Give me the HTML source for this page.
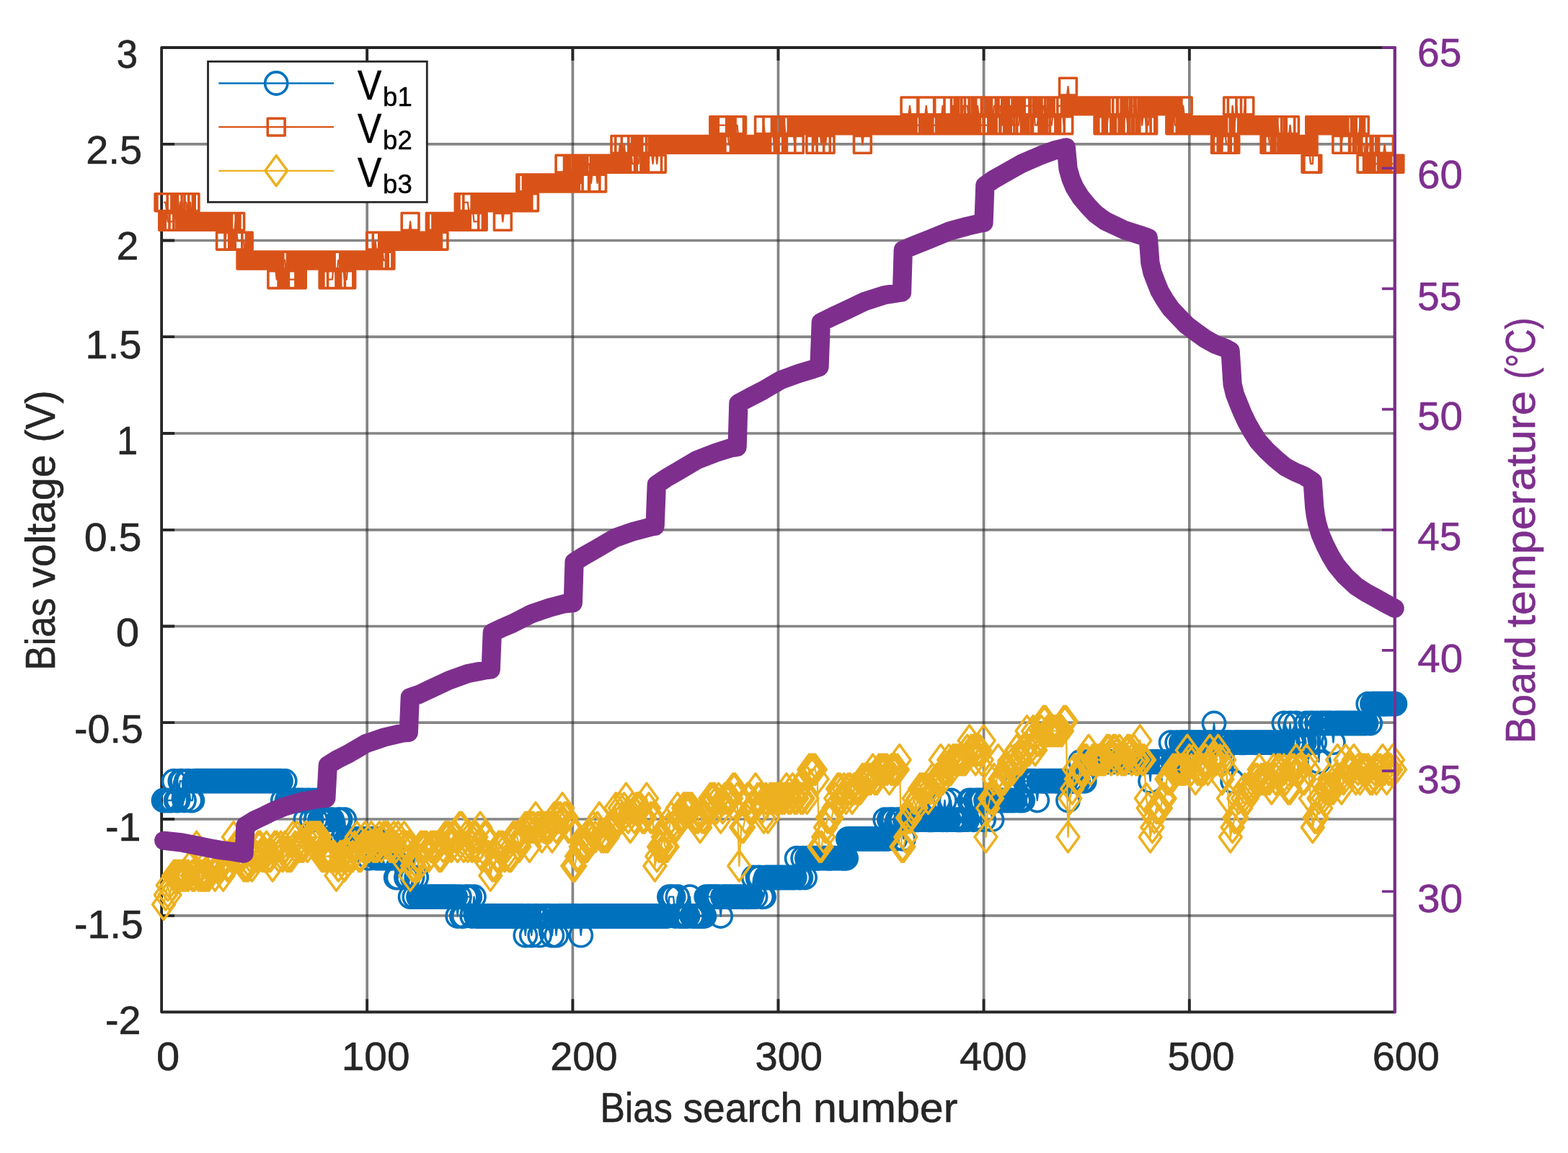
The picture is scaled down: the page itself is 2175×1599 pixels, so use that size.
<!DOCTYPE html>
<html lang="en"><head><meta charset="utf-8"><title>Bias voltage and board temperature vs bias search number</title>
<style>html,body{margin:0;padding:0;background:#fff}body{width:2175px;height:1599px;overflow:hidden}svg{display:block}text{font-family:"Liberation Sans",sans-serif}</style></head><body>
<svg width="2175" height="1599" viewBox="0 0 2175 1599" role="img" aria-label="Bias voltages Vb1, Vb2, Vb3 and board temperature versus bias search number">
<rect width="2175" height="1599" fill="#fff"/>
<g stroke="#262626" stroke-opacity="0.56" stroke-width="3.7" fill="none"><line x1="509.2" y1="66" x2="509.2" y2="1403.5"/><line x1="794.4" y1="66" x2="794.4" y2="1403.5"/><line x1="1079.5" y1="66" x2="1079.5" y2="1403.5"/><line x1="1364.6" y1="66" x2="1364.6" y2="1403.5"/><line x1="1649.8" y1="66" x2="1649.8" y2="1403.5"/><line x1="224.1" y1="1269.8" x2="1934.9" y2="1269.8"/><line x1="224.1" y1="1136" x2="1934.9" y2="1136"/><line x1="224.1" y1="1002.2" x2="1934.9" y2="1002.2"/><line x1="224.1" y1="868.5" x2="1934.9" y2="868.5"/><line x1="224.1" y1="734.8" x2="1934.9" y2="734.8"/><line x1="224.1" y1="601" x2="1934.9" y2="601"/><line x1="224.1" y1="467.2" x2="1934.9" y2="467.2"/><line x1="224.1" y1="333.5" x2="1934.9" y2="333.5"/><line x1="224.1" y1="199.8" x2="1934.9" y2="199.8"/></g>
<path d="M224.1 66H1934.6V1403.5H224.1ZM224.1 1403.5h18M224.1 1269.8h18M224.1 1136h18M224.1 1002.2h18M224.1 868.5h18M224.1 734.8h18M224.1 601h18M224.1 467.2h18M224.1 333.5h18M224.1 199.8h18M224.1 66h18M224.1 1403.5v-18M224.1 66v18M509.2 1403.5v-18M509.2 66v18M794.4 1403.5v-18M794.4 66v18M1079.5 1403.5v-18M1079.5 66v18M1364.6 1403.5v-18M1364.6 66v18M1649.8 1403.5v-18M1649.8 66v18M1934.9 1403.5v-18M1934.9 66v18" stroke="#262626" stroke-width="3.8" fill="none" stroke-linejoin="round"/>
<path d="M227 1110L229.8 1110L232.7 1110L235.5 1110L238.4 1110L241.2 1083.2L244.1 1110L246.9 1110L249.8 1083.2L252.6 1083.2L255.5 1110L258.3 1083.2L261.2 1083.2L264 1110L266.9 1110L269.7 1083.2L272.6 1083.2L275.4 1083.2L278.3 1083.2L281.1 1083.2L284 1083.2L286.8 1083.2L289.7 1083.2L292.5 1083.2L295.4 1083.2L298.2 1083.2L301.1 1083.2L303.9 1083.2L306.8 1083.2L309.6 1083.2L312.5 1083.2L315.3 1083.2L318.2 1083.2L321 1083.2L323.9 1083.2L326.7 1083.2L329.6 1083.2L332.5 1083.2L335.3 1083.2L338.2 1083.2L341 1083.2L343.9 1083.2L346.7 1083.2L349.6 1083.2L352.4 1083.2L355.3 1083.2L358.1 1083.2L361 1083.2L363.8 1083.2L366.7 1083.2L369.5 1083.2L372.4 1083.2L375.2 1083.2L378.1 1083.2L380.9 1083.2L383.8 1083.2L386.6 1083.2L389.5 1083.2L392.3 1110L395.2 1083.2L398 1110L400.9 1110L403.7 1110L406.6 1110L409.4 1110L412.3 1110L415.1 1110L418 1110L420.8 1110L423.7 1136.7L426.5 1110L429.4 1110L432.2 1136.7L435.1 1110L438 1136.7L440.8 1110L443.7 1136.7L446.5 1136.7L449.4 1136.7L452.2 1136.7L455.1 1136.7L457.9 1136.7L460.8 1136.7L463.6 1163.4L466.5 1163.4L469.3 1136.7L472.2 1136.7L475 1163.4L477.9 1136.7L480.7 1163.4L483.6 1163.4L486.4 1163.4L489.3 1163.4L492.1 1163.4L495 1163.4L497.8 1163.4L500.7 1163.4L503.5 1163.4L506.4 1163.4L509.2 1163.4L512.1 1190.2L514.9 1163.4L517.8 1163.4L520.6 1163.4L523.5 1190.2L526.3 1190.2L529.2 1190.2L532 1190.2L534.9 1190.2L537.7 1190.2L540.6 1190.2L543.4 1190.2L546.3 1190.2L549.2 1217L552 1217L554.9 1190.2L557.7 1190.2L560.6 1190.2L563.4 1217L566.3 1217L569.1 1243.7L572 1217L574.8 1243.7L577.7 1217L580.5 1243.7L583.4 1243.7L586.2 1243.7L589.1 1243.7L591.9 1243.7L594.8 1243.7L597.6 1243.7L600.5 1243.7L603.3 1243.7L606.2 1243.7L609 1243.7L611.9 1243.7L614.7 1243.7L617.6 1243.7L620.4 1243.7L623.3 1243.7L626.1 1243.7L629 1243.7L631.8 1243.7L634.7 1270.5L637.5 1243.7L640.4 1270.5L643.2 1270.5L646.1 1243.7L648.9 1243.7L651.8 1243.7L654.7 1270.5L657.5 1243.7L660.4 1270.5L663.2 1270.5L666.1 1270.5L668.9 1270.5L671.8 1270.5L674.6 1270.5L677.5 1270.5L680.3 1270.5L683.2 1270.5L686 1270.5L688.9 1270.5L691.7 1270.5L694.6 1270.5L697.4 1270.5L700.3 1270.5L703.1 1270.5L706 1270.5L708.8 1270.5L711.7 1270.5L714.5 1270.5L717.4 1270.5L720.2 1270.5L723.1 1270.5L725.9 1270.5L728.8 1297.2L731.6 1270.5L734.5 1270.5L737.3 1297.2L740.2 1270.5L743 1270.5L745.9 1270.5L748.7 1297.2L751.6 1270.5L754.4 1270.5L757.3 1270.5L760.2 1270.5L763 1270.5L765.9 1297.2L768.7 1270.5L771.6 1297.2L774.4 1270.5L777.3 1270.5L780.1 1270.5L783 1270.5L785.8 1270.5L788.7 1270.5L791.5 1270.5L794.4 1270.5L797.2 1270.5L800.1 1270.5L802.9 1270.5L805.8 1297.2L808.6 1270.5L811.5 1270.5L814.3 1270.5L817.2 1270.5L820 1270.5L822.9 1270.5L825.7 1270.5L828.6 1270.5L831.4 1270.5L834.3 1270.5L837.1 1270.5L840 1270.5L842.8 1270.5L845.7 1270.5L848.5 1270.5L851.4 1270.5L854.2 1270.5L857.1 1270.5L859.9 1270.5L862.8 1270.5L865.7 1270.5L868.5 1270.5L871.4 1270.5L874.2 1270.5L877.1 1270.5L879.9 1270.5L882.8 1270.5L885.6 1270.5L888.5 1270.5L891.3 1270.5L894.2 1270.5L897 1270.5L899.9 1270.5L902.7 1270.5L905.6 1270.5L908.4 1270.5L911.3 1270.5L914.1 1270.5L917 1270.5L919.8 1270.5L922.7 1270.5L925.5 1270.5L928.4 1243.7L931.2 1243.7L934.1 1243.7L936.9 1270.5L939.8 1243.7L942.6 1270.5L945.5 1270.5L948.3 1270.5L951.2 1270.5L954 1270.5L956.9 1243.7L959.7 1270.5L962.6 1270.5L965.4 1270.5L968.3 1270.5L971.1 1270.5L974 1270.5L976.9 1270.5L979.7 1243.7L982.6 1243.7L985.4 1243.7L988.3 1243.7L991.1 1243.7L994 1243.7L996.8 1243.7L999.7 1270.5L1002.5 1243.7L1005.4 1243.7L1008.2 1243.7L1011.1 1243.7L1013.9 1243.7L1016.8 1243.7L1019.6 1243.7L1022.5 1243.7L1025.3 1243.7L1028.2 1243.7L1031 1243.7L1033.9 1243.7L1036.7 1243.7L1039.6 1243.7L1042.4 1243.7L1045.3 1217L1048.1 1243.7L1051 1217L1053.8 1217L1056.7 1243.7L1059.5 1243.7L1062.4 1217L1065.2 1217L1068.1 1217L1070.9 1217L1073.8 1217L1076.6 1217L1079.5 1217L1082.4 1217L1085.2 1217L1088.1 1217L1090.9 1217L1093.8 1217L1096.6 1217L1099.5 1217L1102.3 1217L1105.2 1190.2L1108 1217L1110.9 1217L1113.7 1190.2L1116.6 1217L1119.4 1190.2L1122.3 1190.2L1125.1 1190.2L1128 1190.2L1130.8 1190.2L1133.7 1190.2L1136.5 1190.2L1139.4 1190.2L1142.2 1190.2L1145.1 1190.2L1147.9 1190.2L1150.8 1190.2L1153.6 1190.2L1156.5 1190.2L1159.3 1190.2L1162.2 1190.2L1165 1190.2L1167.9 1190.2L1170.7 1190.2L1173.6 1190.2L1176.4 1163.4L1179.3 1163.4L1182.1 1163.4L1185 1163.4L1187.9 1163.4L1190.7 1163.4L1193.6 1163.4L1196.4 1163.4L1199.3 1163.4L1202.1 1163.4L1205 1163.4L1207.8 1163.4L1210.7 1163.4L1213.5 1163.4L1216.4 1163.4L1219.2 1163.4L1222.1 1163.4L1224.9 1163.4L1227.8 1136.7L1230.6 1163.4L1233.5 1136.7L1236.3 1136.7L1239.2 1136.7L1242 1163.4L1244.9 1136.7L1247.7 1136.7L1250.6 1136.7L1253.4 1163.4L1256.3 1136.7L1259.1 1136.7L1262 1136.7L1264.8 1136.7L1267.7 1136.7L1270.5 1136.7L1273.4 1136.7L1276.2 1136.7L1279.1 1136.7L1281.9 1136.7L1284.8 1136.7L1287.6 1136.7L1290.5 1136.7L1293.4 1136.7L1296.2 1136.7L1299.1 1136.7L1301.9 1110L1304.8 1136.7L1307.6 1136.7L1310.5 1110L1313.3 1136.7L1316.2 1136.7L1319 1110L1321.9 1136.7L1324.7 1136.7L1327.6 1136.7L1330.4 1136.7L1333.3 1136.7L1336.1 1136.7L1339 1136.7L1341.8 1136.7L1344.7 1110L1347.5 1110L1350.4 1136.7L1353.2 1110L1356.1 1110L1358.9 1110L1361.8 1110L1364.6 1136.7L1367.5 1110L1370.3 1110L1373.2 1110L1376 1136.7L1378.9 1110L1381.7 1110L1384.6 1110L1387.4 1110L1390.3 1110L1393.1 1110L1396 1110L1398.8 1110L1401.7 1110L1404.6 1110L1407.4 1110L1410.3 1083.2L1413.1 1110L1416 1110L1418.8 1110L1421.7 1083.2L1424.5 1083.2L1427.4 1083.2L1430.2 1083.2L1433.1 1083.2L1435.9 1083.2L1438.8 1110L1441.6 1083.2L1444.5 1083.2L1447.3 1083.2L1450.2 1083.2L1453 1083.2L1455.9 1083.2L1458.7 1083.2L1461.6 1083.2L1464.4 1083.2L1467.3 1083.2L1470.1 1083.2L1473 1083.2L1475.8 1083.2L1478.7 1083.2L1481.5 1110L1484.4 1083.2L1487.2 1083.2L1490.1 1083.2L1492.9 1083.2L1495.8 1083.2L1498.6 1056.5L1501.5 1083.2L1504.3 1083.2L1507.2 1056.5L1510.1 1056.5L1512.9 1056.5L1515.8 1056.5L1518.6 1056.5L1521.5 1056.5L1524.3 1056.5L1527.2 1056.5L1530 1056.5L1532.9 1056.5L1535.7 1056.5L1538.6 1056.5L1541.4 1056.5L1544.3 1056.5L1547.1 1056.5L1550 1056.5L1552.8 1056.5L1555.7 1056.5L1558.5 1056.5L1561.4 1056.5L1564.2 1056.5L1567.1 1056.5L1569.9 1056.5L1572.8 1056.5L1575.6 1056.5L1578.5 1056.5L1581.3 1056.5L1584.2 1056.5L1587 1056.5L1589.9 1056.5L1592.7 1056.5L1595.6 1083.2L1598.4 1056.5L1601.3 1056.5L1604.1 1056.5L1607 1056.5L1609.8 1056.5L1612.7 1056.5L1615.6 1056.5L1618.4 1056.5L1621.3 1056.5L1624.1 1029.7L1627 1056.5L1629.8 1056.5L1632.7 1029.7L1635.5 1056.5L1638.4 1029.7L1641.2 1029.7L1644.1 1029.7L1646.9 1029.7L1649.8 1029.7L1652.6 1029.7L1655.5 1029.7L1658.3 1029.7L1661.2 1029.7L1664 1029.7L1666.9 1029.7L1669.7 1029.7L1672.6 1029.7L1675.4 1029.7L1678.3 1029.7L1681.1 1029.7L1684 1003L1686.8 1029.7L1689.7 1029.7L1692.5 1029.7L1695.4 1029.7L1698.2 1029.7L1701.1 1029.7L1703.9 1029.7L1706.8 1029.7L1709.6 1083.2L1712.5 1029.7L1715.3 1029.7L1718.2 1029.7L1721.1 1029.7L1723.9 1029.7L1726.8 1029.7L1729.6 1029.7L1732.5 1029.7L1735.3 1029.7L1738.2 1029.7L1741 1029.7L1743.9 1029.7L1746.7 1029.7L1749.6 1029.7L1752.4 1029.7L1755.3 1029.7L1758.1 1029.7L1761 1029.7L1763.8 1029.7L1766.7 1029.7L1769.5 1029.7L1772.4 1029.7L1775.2 1029.7L1778.1 1029.7L1780.9 1003L1783.8 1029.7L1786.6 1029.7L1789.5 1003L1792.3 1029.7L1795.2 1029.7L1798 1003L1800.9 1029.7L1803.7 1029.7L1806.6 1029.7L1809.4 1029.7L1812.3 1003L1815.1 1029.7L1818 1003L1820.8 1003L1823.7 1029.7L1826.5 1003L1829.4 1056.5L1832.3 1003L1835.1 1003L1838 1003L1840.8 1003L1843.7 1003L1846.5 1003L1849.4 1029.7L1852.2 1003L1855.1 1003L1857.9 1003L1860.8 1003L1863.6 1003L1866.5 1003L1869.3 1003L1872.2 1003L1875 1003L1877.9 1003L1880.7 1003L1883.6 1003L1886.4 1003L1889.3 1003L1892.1 1003L1895 1003L1897.8 976.2L1900.7 1003L1903.5 976.2L1906.4 976.2L1909.2 976.2L1912.1 976.2L1914.9 976.2L1917.8 976.2L1920.6 976.2L1923.5 976.2L1926.3 976.2L1929.2 976.2L1932 976.2L1934.9 976.2" stroke="#0072BD" stroke-width="2.3" fill="none" stroke-linejoin="round"/>
<path d="M211.4 1110a15.6 15.6 0 1 0 31.2 0a15.6 15.6 0 1 0 -31.2 0zM214.2 1110a15.6 15.6 0 1 0 31.2 0a15.6 15.6 0 1 0 -31.2 0zM217.1 1110a15.6 15.6 0 1 0 31.2 0a15.6 15.6 0 1 0 -31.2 0zM219.9 1110a15.6 15.6 0 1 0 31.2 0a15.6 15.6 0 1 0 -31.2 0zM222.8 1110a15.6 15.6 0 1 0 31.2 0a15.6 15.6 0 1 0 -31.2 0zM225.6 1083.2a15.6 15.6 0 1 0 31.2 0a15.6 15.6 0 1 0 -31.2 0zM228.5 1110a15.6 15.6 0 1 0 31.2 0a15.6 15.6 0 1 0 -31.2 0zM231.3 1110a15.6 15.6 0 1 0 31.2 0a15.6 15.6 0 1 0 -31.2 0zM234.2 1083.2a15.6 15.6 0 1 0 31.2 0a15.6 15.6 0 1 0 -31.2 0zM237 1083.2a15.6 15.6 0 1 0 31.2 0a15.6 15.6 0 1 0 -31.2 0zM239.9 1110a15.6 15.6 0 1 0 31.2 0a15.6 15.6 0 1 0 -31.2 0zM242.7 1083.2a15.6 15.6 0 1 0 31.2 0a15.6 15.6 0 1 0 -31.2 0zM245.6 1083.2a15.6 15.6 0 1 0 31.2 0a15.6 15.6 0 1 0 -31.2 0zM248.4 1110a15.6 15.6 0 1 0 31.2 0a15.6 15.6 0 1 0 -31.2 0zM251.3 1110a15.6 15.6 0 1 0 31.2 0a15.6 15.6 0 1 0 -31.2 0zM254.1 1083.2a15.6 15.6 0 1 0 31.2 0a15.6 15.6 0 1 0 -31.2 0zM257 1083.2a15.6 15.6 0 1 0 31.2 0a15.6 15.6 0 1 0 -31.2 0zM259.8 1083.2a15.6 15.6 0 1 0 31.2 0a15.6 15.6 0 1 0 -31.2 0zM262.7 1083.2a15.6 15.6 0 1 0 31.2 0a15.6 15.6 0 1 0 -31.2 0zM265.5 1083.2a15.6 15.6 0 1 0 31.2 0a15.6 15.6 0 1 0 -31.2 0zM268.4 1083.2a15.6 15.6 0 1 0 31.2 0a15.6 15.6 0 1 0 -31.2 0zM271.2 1083.2a15.6 15.6 0 1 0 31.2 0a15.6 15.6 0 1 0 -31.2 0zM274.1 1083.2a15.6 15.6 0 1 0 31.2 0a15.6 15.6 0 1 0 -31.2 0zM276.9 1083.2a15.6 15.6 0 1 0 31.2 0a15.6 15.6 0 1 0 -31.2 0zM279.8 1083.2a15.6 15.6 0 1 0 31.2 0a15.6 15.6 0 1 0 -31.2 0zM282.6 1083.2a15.6 15.6 0 1 0 31.2 0a15.6 15.6 0 1 0 -31.2 0zM285.5 1083.2a15.6 15.6 0 1 0 31.2 0a15.6 15.6 0 1 0 -31.2 0zM288.3 1083.2a15.6 15.6 0 1 0 31.2 0a15.6 15.6 0 1 0 -31.2 0zM291.2 1083.2a15.6 15.6 0 1 0 31.2 0a15.6 15.6 0 1 0 -31.2 0zM294 1083.2a15.6 15.6 0 1 0 31.2 0a15.6 15.6 0 1 0 -31.2 0zM296.9 1083.2a15.6 15.6 0 1 0 31.2 0a15.6 15.6 0 1 0 -31.2 0zM299.7 1083.2a15.6 15.6 0 1 0 31.2 0a15.6 15.6 0 1 0 -31.2 0zM302.6 1083.2a15.6 15.6 0 1 0 31.2 0a15.6 15.6 0 1 0 -31.2 0zM305.4 1083.2a15.6 15.6 0 1 0 31.2 0a15.6 15.6 0 1 0 -31.2 0zM308.3 1083.2a15.6 15.6 0 1 0 31.2 0a15.6 15.6 0 1 0 -31.2 0zM311.1 1083.2a15.6 15.6 0 1 0 31.2 0a15.6 15.6 0 1 0 -31.2 0zM314 1083.2a15.6 15.6 0 1 0 31.2 0a15.6 15.6 0 1 0 -31.2 0zM316.9 1083.2a15.6 15.6 0 1 0 31.2 0a15.6 15.6 0 1 0 -31.2 0zM319.7 1083.2a15.6 15.6 0 1 0 31.2 0a15.6 15.6 0 1 0 -31.2 0zM322.6 1083.2a15.6 15.6 0 1 0 31.2 0a15.6 15.6 0 1 0 -31.2 0zM325.4 1083.2a15.6 15.6 0 1 0 31.2 0a15.6 15.6 0 1 0 -31.2 0zM328.3 1083.2a15.6 15.6 0 1 0 31.2 0a15.6 15.6 0 1 0 -31.2 0zM331.1 1083.2a15.6 15.6 0 1 0 31.2 0a15.6 15.6 0 1 0 -31.2 0zM334 1083.2a15.6 15.6 0 1 0 31.2 0a15.6 15.6 0 1 0 -31.2 0zM336.8 1083.2a15.6 15.6 0 1 0 31.2 0a15.6 15.6 0 1 0 -31.2 0zM339.7 1083.2a15.6 15.6 0 1 0 31.2 0a15.6 15.6 0 1 0 -31.2 0zM342.5 1083.2a15.6 15.6 0 1 0 31.2 0a15.6 15.6 0 1 0 -31.2 0zM345.4 1083.2a15.6 15.6 0 1 0 31.2 0a15.6 15.6 0 1 0 -31.2 0zM348.2 1083.2a15.6 15.6 0 1 0 31.2 0a15.6 15.6 0 1 0 -31.2 0zM351.1 1083.2a15.6 15.6 0 1 0 31.2 0a15.6 15.6 0 1 0 -31.2 0zM353.9 1083.2a15.6 15.6 0 1 0 31.2 0a15.6 15.6 0 1 0 -31.2 0zM356.8 1083.2a15.6 15.6 0 1 0 31.2 0a15.6 15.6 0 1 0 -31.2 0zM359.6 1083.2a15.6 15.6 0 1 0 31.2 0a15.6 15.6 0 1 0 -31.2 0zM362.5 1083.2a15.6 15.6 0 1 0 31.2 0a15.6 15.6 0 1 0 -31.2 0zM365.3 1083.2a15.6 15.6 0 1 0 31.2 0a15.6 15.6 0 1 0 -31.2 0zM368.2 1083.2a15.6 15.6 0 1 0 31.2 0a15.6 15.6 0 1 0 -31.2 0zM371 1083.2a15.6 15.6 0 1 0 31.2 0a15.6 15.6 0 1 0 -31.2 0zM373.9 1083.2a15.6 15.6 0 1 0 31.2 0a15.6 15.6 0 1 0 -31.2 0zM376.7 1110a15.6 15.6 0 1 0 31.2 0a15.6 15.6 0 1 0 -31.2 0zM379.6 1083.2a15.6 15.6 0 1 0 31.2 0a15.6 15.6 0 1 0 -31.2 0zM382.4 1110a15.6 15.6 0 1 0 31.2 0a15.6 15.6 0 1 0 -31.2 0zM385.3 1110a15.6 15.6 0 1 0 31.2 0a15.6 15.6 0 1 0 -31.2 0zM388.1 1110a15.6 15.6 0 1 0 31.2 0a15.6 15.6 0 1 0 -31.2 0zM391 1110a15.6 15.6 0 1 0 31.2 0a15.6 15.6 0 1 0 -31.2 0zM393.8 1110a15.6 15.6 0 1 0 31.2 0a15.6 15.6 0 1 0 -31.2 0zM396.7 1110a15.6 15.6 0 1 0 31.2 0a15.6 15.6 0 1 0 -31.2 0zM399.5 1110a15.6 15.6 0 1 0 31.2 0a15.6 15.6 0 1 0 -31.2 0zM402.4 1110a15.6 15.6 0 1 0 31.2 0a15.6 15.6 0 1 0 -31.2 0zM405.2 1110a15.6 15.6 0 1 0 31.2 0a15.6 15.6 0 1 0 -31.2 0zM408.1 1136.7a15.6 15.6 0 1 0 31.2 0a15.6 15.6 0 1 0 -31.2 0zM410.9 1110a15.6 15.6 0 1 0 31.2 0a15.6 15.6 0 1 0 -31.2 0zM413.8 1110a15.6 15.6 0 1 0 31.2 0a15.6 15.6 0 1 0 -31.2 0zM416.6 1136.7a15.6 15.6 0 1 0 31.2 0a15.6 15.6 0 1 0 -31.2 0zM419.5 1110a15.6 15.6 0 1 0 31.2 0a15.6 15.6 0 1 0 -31.2 0zM422.4 1136.7a15.6 15.6 0 1 0 31.2 0a15.6 15.6 0 1 0 -31.2 0zM425.2 1110a15.6 15.6 0 1 0 31.2 0a15.6 15.6 0 1 0 -31.2 0zM428.1 1136.7a15.6 15.6 0 1 0 31.2 0a15.6 15.6 0 1 0 -31.2 0zM430.9 1136.7a15.6 15.6 0 1 0 31.2 0a15.6 15.6 0 1 0 -31.2 0zM433.8 1136.7a15.6 15.6 0 1 0 31.2 0a15.6 15.6 0 1 0 -31.2 0zM436.6 1136.7a15.6 15.6 0 1 0 31.2 0a15.6 15.6 0 1 0 -31.2 0zM439.5 1136.7a15.6 15.6 0 1 0 31.2 0a15.6 15.6 0 1 0 -31.2 0zM442.3 1136.7a15.6 15.6 0 1 0 31.2 0a15.6 15.6 0 1 0 -31.2 0zM445.2 1136.7a15.6 15.6 0 1 0 31.2 0a15.6 15.6 0 1 0 -31.2 0zM448 1163.4a15.6 15.6 0 1 0 31.2 0a15.6 15.6 0 1 0 -31.2 0zM450.9 1163.4a15.6 15.6 0 1 0 31.2 0a15.6 15.6 0 1 0 -31.2 0zM453.7 1136.7a15.6 15.6 0 1 0 31.2 0a15.6 15.6 0 1 0 -31.2 0zM456.6 1136.7a15.6 15.6 0 1 0 31.2 0a15.6 15.6 0 1 0 -31.2 0zM459.4 1163.4a15.6 15.6 0 1 0 31.2 0a15.6 15.6 0 1 0 -31.2 0zM462.3 1136.7a15.6 15.6 0 1 0 31.2 0a15.6 15.6 0 1 0 -31.2 0zM465.1 1163.4a15.6 15.6 0 1 0 31.2 0a15.6 15.6 0 1 0 -31.2 0zM468 1163.4a15.6 15.6 0 1 0 31.2 0a15.6 15.6 0 1 0 -31.2 0zM470.8 1163.4a15.6 15.6 0 1 0 31.2 0a15.6 15.6 0 1 0 -31.2 0zM473.7 1163.4a15.6 15.6 0 1 0 31.2 0a15.6 15.6 0 1 0 -31.2 0zM476.5 1163.4a15.6 15.6 0 1 0 31.2 0a15.6 15.6 0 1 0 -31.2 0zM479.4 1163.4a15.6 15.6 0 1 0 31.2 0a15.6 15.6 0 1 0 -31.2 0zM482.2 1163.4a15.6 15.6 0 1 0 31.2 0a15.6 15.6 0 1 0 -31.2 0zM485.1 1163.4a15.6 15.6 0 1 0 31.2 0a15.6 15.6 0 1 0 -31.2 0zM487.9 1163.4a15.6 15.6 0 1 0 31.2 0a15.6 15.6 0 1 0 -31.2 0zM490.8 1163.4a15.6 15.6 0 1 0 31.2 0a15.6 15.6 0 1 0 -31.2 0zM493.6 1163.4a15.6 15.6 0 1 0 31.2 0a15.6 15.6 0 1 0 -31.2 0zM496.5 1190.2a15.6 15.6 0 1 0 31.2 0a15.6 15.6 0 1 0 -31.2 0zM499.3 1163.4a15.6 15.6 0 1 0 31.2 0a15.6 15.6 0 1 0 -31.2 0zM502.2 1163.4a15.6 15.6 0 1 0 31.2 0a15.6 15.6 0 1 0 -31.2 0zM505 1163.4a15.6 15.6 0 1 0 31.2 0a15.6 15.6 0 1 0 -31.2 0zM507.9 1190.2a15.6 15.6 0 1 0 31.2 0a15.6 15.6 0 1 0 -31.2 0zM510.7 1190.2a15.6 15.6 0 1 0 31.2 0a15.6 15.6 0 1 0 -31.2 0zM513.6 1190.2a15.6 15.6 0 1 0 31.2 0a15.6 15.6 0 1 0 -31.2 0zM516.4 1190.2a15.6 15.6 0 1 0 31.2 0a15.6 15.6 0 1 0 -31.2 0zM519.3 1190.2a15.6 15.6 0 1 0 31.2 0a15.6 15.6 0 1 0 -31.2 0zM522.1 1190.2a15.6 15.6 0 1 0 31.2 0a15.6 15.6 0 1 0 -31.2 0zM525 1190.2a15.6 15.6 0 1 0 31.2 0a15.6 15.6 0 1 0 -31.2 0zM527.8 1190.2a15.6 15.6 0 1 0 31.2 0a15.6 15.6 0 1 0 -31.2 0zM530.7 1190.2a15.6 15.6 0 1 0 31.2 0a15.6 15.6 0 1 0 -31.2 0zM533.6 1217a15.6 15.6 0 1 0 31.2 0a15.6 15.6 0 1 0 -31.2 0zM536.4 1217a15.6 15.6 0 1 0 31.2 0a15.6 15.6 0 1 0 -31.2 0zM539.3 1190.2a15.6 15.6 0 1 0 31.2 0a15.6 15.6 0 1 0 -31.2 0zM542.1 1190.2a15.6 15.6 0 1 0 31.2 0a15.6 15.6 0 1 0 -31.2 0zM545 1190.2a15.6 15.6 0 1 0 31.2 0a15.6 15.6 0 1 0 -31.2 0zM547.8 1217a15.6 15.6 0 1 0 31.2 0a15.6 15.6 0 1 0 -31.2 0zM550.7 1217a15.6 15.6 0 1 0 31.2 0a15.6 15.6 0 1 0 -31.2 0zM553.5 1243.7a15.6 15.6 0 1 0 31.2 0a15.6 15.6 0 1 0 -31.2 0zM556.4 1217a15.6 15.6 0 1 0 31.2 0a15.6 15.6 0 1 0 -31.2 0zM559.2 1243.7a15.6 15.6 0 1 0 31.2 0a15.6 15.6 0 1 0 -31.2 0zM562.1 1217a15.6 15.6 0 1 0 31.2 0a15.6 15.6 0 1 0 -31.2 0zM564.9 1243.7a15.6 15.6 0 1 0 31.2 0a15.6 15.6 0 1 0 -31.2 0zM567.8 1243.7a15.6 15.6 0 1 0 31.2 0a15.6 15.6 0 1 0 -31.2 0zM570.6 1243.7a15.6 15.6 0 1 0 31.2 0a15.6 15.6 0 1 0 -31.2 0zM573.5 1243.7a15.6 15.6 0 1 0 31.2 0a15.6 15.6 0 1 0 -31.2 0zM576.3 1243.7a15.6 15.6 0 1 0 31.2 0a15.6 15.6 0 1 0 -31.2 0zM579.2 1243.7a15.6 15.6 0 1 0 31.2 0a15.6 15.6 0 1 0 -31.2 0zM582 1243.7a15.6 15.6 0 1 0 31.2 0a15.6 15.6 0 1 0 -31.2 0zM584.9 1243.7a15.6 15.6 0 1 0 31.2 0a15.6 15.6 0 1 0 -31.2 0zM587.7 1243.7a15.6 15.6 0 1 0 31.2 0a15.6 15.6 0 1 0 -31.2 0zM590.6 1243.7a15.6 15.6 0 1 0 31.2 0a15.6 15.6 0 1 0 -31.2 0zM593.4 1243.7a15.6 15.6 0 1 0 31.2 0a15.6 15.6 0 1 0 -31.2 0zM596.3 1243.7a15.6 15.6 0 1 0 31.2 0a15.6 15.6 0 1 0 -31.2 0zM599.1 1243.7a15.6 15.6 0 1 0 31.2 0a15.6 15.6 0 1 0 -31.2 0zM602 1243.7a15.6 15.6 0 1 0 31.2 0a15.6 15.6 0 1 0 -31.2 0zM604.8 1243.7a15.6 15.6 0 1 0 31.2 0a15.6 15.6 0 1 0 -31.2 0zM607.7 1243.7a15.6 15.6 0 1 0 31.2 0a15.6 15.6 0 1 0 -31.2 0zM610.5 1243.7a15.6 15.6 0 1 0 31.2 0a15.6 15.6 0 1 0 -31.2 0zM613.4 1243.7a15.6 15.6 0 1 0 31.2 0a15.6 15.6 0 1 0 -31.2 0zM616.2 1243.7a15.6 15.6 0 1 0 31.2 0a15.6 15.6 0 1 0 -31.2 0zM619.1 1270.5a15.6 15.6 0 1 0 31.2 0a15.6 15.6 0 1 0 -31.2 0zM621.9 1243.7a15.6 15.6 0 1 0 31.2 0a15.6 15.6 0 1 0 -31.2 0zM624.8 1270.5a15.6 15.6 0 1 0 31.2 0a15.6 15.6 0 1 0 -31.2 0zM627.6 1270.5a15.6 15.6 0 1 0 31.2 0a15.6 15.6 0 1 0 -31.2 0zM630.5 1243.7a15.6 15.6 0 1 0 31.2 0a15.6 15.6 0 1 0 -31.2 0zM633.3 1243.7a15.6 15.6 0 1 0 31.2 0a15.6 15.6 0 1 0 -31.2 0zM636.2 1243.7a15.6 15.6 0 1 0 31.2 0a15.6 15.6 0 1 0 -31.2 0zM639.1 1270.5a15.6 15.6 0 1 0 31.2 0a15.6 15.6 0 1 0 -31.2 0zM641.9 1243.7a15.6 15.6 0 1 0 31.2 0a15.6 15.6 0 1 0 -31.2 0zM644.8 1270.5a15.6 15.6 0 1 0 31.2 0a15.6 15.6 0 1 0 -31.2 0zM647.6 1270.5a15.6 15.6 0 1 0 31.2 0a15.6 15.6 0 1 0 -31.2 0zM650.5 1270.5a15.6 15.6 0 1 0 31.2 0a15.6 15.6 0 1 0 -31.2 0zM653.3 1270.5a15.6 15.6 0 1 0 31.2 0a15.6 15.6 0 1 0 -31.2 0zM656.2 1270.5a15.6 15.6 0 1 0 31.2 0a15.6 15.6 0 1 0 -31.2 0zM659 1270.5a15.6 15.6 0 1 0 31.2 0a15.6 15.6 0 1 0 -31.2 0zM661.9 1270.5a15.6 15.6 0 1 0 31.2 0a15.6 15.6 0 1 0 -31.2 0zM664.7 1270.5a15.6 15.6 0 1 0 31.2 0a15.6 15.6 0 1 0 -31.2 0zM667.6 1270.5a15.6 15.6 0 1 0 31.2 0a15.6 15.6 0 1 0 -31.2 0zM670.4 1270.5a15.6 15.6 0 1 0 31.2 0a15.6 15.6 0 1 0 -31.2 0zM673.3 1270.5a15.6 15.6 0 1 0 31.2 0a15.6 15.6 0 1 0 -31.2 0zM676.1 1270.5a15.6 15.6 0 1 0 31.2 0a15.6 15.6 0 1 0 -31.2 0zM679 1270.5a15.6 15.6 0 1 0 31.2 0a15.6 15.6 0 1 0 -31.2 0zM681.8 1270.5a15.6 15.6 0 1 0 31.2 0a15.6 15.6 0 1 0 -31.2 0zM684.7 1270.5a15.6 15.6 0 1 0 31.2 0a15.6 15.6 0 1 0 -31.2 0zM687.5 1270.5a15.6 15.6 0 1 0 31.2 0a15.6 15.6 0 1 0 -31.2 0zM690.4 1270.5a15.6 15.6 0 1 0 31.2 0a15.6 15.6 0 1 0 -31.2 0zM693.2 1270.5a15.6 15.6 0 1 0 31.2 0a15.6 15.6 0 1 0 -31.2 0zM696.1 1270.5a15.6 15.6 0 1 0 31.2 0a15.6 15.6 0 1 0 -31.2 0zM698.9 1270.5a15.6 15.6 0 1 0 31.2 0a15.6 15.6 0 1 0 -31.2 0zM701.8 1270.5a15.6 15.6 0 1 0 31.2 0a15.6 15.6 0 1 0 -31.2 0zM704.6 1270.5a15.6 15.6 0 1 0 31.2 0a15.6 15.6 0 1 0 -31.2 0zM707.5 1270.5a15.6 15.6 0 1 0 31.2 0a15.6 15.6 0 1 0 -31.2 0zM710.3 1270.5a15.6 15.6 0 1 0 31.2 0a15.6 15.6 0 1 0 -31.2 0zM713.2 1297.2a15.6 15.6 0 1 0 31.2 0a15.6 15.6 0 1 0 -31.2 0zM716 1270.5a15.6 15.6 0 1 0 31.2 0a15.6 15.6 0 1 0 -31.2 0zM718.9 1270.5a15.6 15.6 0 1 0 31.2 0a15.6 15.6 0 1 0 -31.2 0zM721.7 1297.2a15.6 15.6 0 1 0 31.2 0a15.6 15.6 0 1 0 -31.2 0zM724.6 1270.5a15.6 15.6 0 1 0 31.2 0a15.6 15.6 0 1 0 -31.2 0zM727.4 1270.5a15.6 15.6 0 1 0 31.2 0a15.6 15.6 0 1 0 -31.2 0zM730.3 1270.5a15.6 15.6 0 1 0 31.2 0a15.6 15.6 0 1 0 -31.2 0zM733.1 1297.2a15.6 15.6 0 1 0 31.2 0a15.6 15.6 0 1 0 -31.2 0zM736 1270.5a15.6 15.6 0 1 0 31.2 0a15.6 15.6 0 1 0 -31.2 0zM738.8 1270.5a15.6 15.6 0 1 0 31.2 0a15.6 15.6 0 1 0 -31.2 0zM741.7 1270.5a15.6 15.6 0 1 0 31.2 0a15.6 15.6 0 1 0 -31.2 0zM744.6 1270.5a15.6 15.6 0 1 0 31.2 0a15.6 15.6 0 1 0 -31.2 0zM747.4 1270.5a15.6 15.6 0 1 0 31.2 0a15.6 15.6 0 1 0 -31.2 0zM750.3 1297.2a15.6 15.6 0 1 0 31.2 0a15.6 15.6 0 1 0 -31.2 0zM753.1 1270.5a15.6 15.6 0 1 0 31.2 0a15.6 15.6 0 1 0 -31.2 0zM756 1297.2a15.6 15.6 0 1 0 31.2 0a15.6 15.6 0 1 0 -31.2 0zM758.8 1270.5a15.6 15.6 0 1 0 31.2 0a15.6 15.6 0 1 0 -31.2 0zM761.7 1270.5a15.6 15.6 0 1 0 31.2 0a15.6 15.6 0 1 0 -31.2 0zM764.5 1270.5a15.6 15.6 0 1 0 31.2 0a15.6 15.6 0 1 0 -31.2 0zM767.4 1270.5a15.6 15.6 0 1 0 31.2 0a15.6 15.6 0 1 0 -31.2 0zM770.2 1270.5a15.6 15.6 0 1 0 31.2 0a15.6 15.6 0 1 0 -31.2 0zM773.1 1270.5a15.6 15.6 0 1 0 31.2 0a15.6 15.6 0 1 0 -31.2 0zM775.9 1270.5a15.6 15.6 0 1 0 31.2 0a15.6 15.6 0 1 0 -31.2 0zM778.8 1270.5a15.6 15.6 0 1 0 31.2 0a15.6 15.6 0 1 0 -31.2 0zM781.6 1270.5a15.6 15.6 0 1 0 31.2 0a15.6 15.6 0 1 0 -31.2 0zM784.5 1270.5a15.6 15.6 0 1 0 31.2 0a15.6 15.6 0 1 0 -31.2 0zM787.3 1270.5a15.6 15.6 0 1 0 31.2 0a15.6 15.6 0 1 0 -31.2 0zM790.2 1297.2a15.6 15.6 0 1 0 31.2 0a15.6 15.6 0 1 0 -31.2 0zM793 1270.5a15.6 15.6 0 1 0 31.2 0a15.6 15.6 0 1 0 -31.2 0zM795.9 1270.5a15.6 15.6 0 1 0 31.2 0a15.6 15.6 0 1 0 -31.2 0zM798.7 1270.5a15.6 15.6 0 1 0 31.2 0a15.6 15.6 0 1 0 -31.2 0zM801.6 1270.5a15.6 15.6 0 1 0 31.2 0a15.6 15.6 0 1 0 -31.2 0zM804.4 1270.5a15.6 15.6 0 1 0 31.2 0a15.6 15.6 0 1 0 -31.2 0zM807.3 1270.5a15.6 15.6 0 1 0 31.2 0a15.6 15.6 0 1 0 -31.2 0zM810.1 1270.5a15.6 15.6 0 1 0 31.2 0a15.6 15.6 0 1 0 -31.2 0zM813 1270.5a15.6 15.6 0 1 0 31.2 0a15.6 15.6 0 1 0 -31.2 0zM815.8 1270.5a15.6 15.6 0 1 0 31.2 0a15.6 15.6 0 1 0 -31.2 0zM818.7 1270.5a15.6 15.6 0 1 0 31.2 0a15.6 15.6 0 1 0 -31.2 0zM821.5 1270.5a15.6 15.6 0 1 0 31.2 0a15.6 15.6 0 1 0 -31.2 0zM824.4 1270.5a15.6 15.6 0 1 0 31.2 0a15.6 15.6 0 1 0 -31.2 0zM827.2 1270.5a15.6 15.6 0 1 0 31.2 0a15.6 15.6 0 1 0 -31.2 0zM830.1 1270.5a15.6 15.6 0 1 0 31.2 0a15.6 15.6 0 1 0 -31.2 0zM832.9 1270.5a15.6 15.6 0 1 0 31.2 0a15.6 15.6 0 1 0 -31.2 0zM835.8 1270.5a15.6 15.6 0 1 0 31.2 0a15.6 15.6 0 1 0 -31.2 0zM838.6 1270.5a15.6 15.6 0 1 0 31.2 0a15.6 15.6 0 1 0 -31.2 0zM841.5 1270.5a15.6 15.6 0 1 0 31.2 0a15.6 15.6 0 1 0 -31.2 0zM844.3 1270.5a15.6 15.6 0 1 0 31.2 0a15.6 15.6 0 1 0 -31.2 0zM847.2 1270.5a15.6 15.6 0 1 0 31.2 0a15.6 15.6 0 1 0 -31.2 0zM850.1 1270.5a15.6 15.6 0 1 0 31.2 0a15.6 15.6 0 1 0 -31.2 0zM852.9 1270.5a15.6 15.6 0 1 0 31.2 0a15.6 15.6 0 1 0 -31.2 0zM855.8 1270.5a15.6 15.6 0 1 0 31.2 0a15.6 15.6 0 1 0 -31.2 0zM858.6 1270.5a15.6 15.6 0 1 0 31.2 0a15.6 15.6 0 1 0 -31.2 0zM861.5 1270.5a15.6 15.6 0 1 0 31.2 0a15.6 15.6 0 1 0 -31.2 0zM864.3 1270.5a15.6 15.6 0 1 0 31.2 0a15.6 15.6 0 1 0 -31.2 0zM867.2 1270.5a15.6 15.6 0 1 0 31.2 0a15.6 15.6 0 1 0 -31.2 0zM870 1270.5a15.6 15.6 0 1 0 31.2 0a15.6 15.6 0 1 0 -31.2 0zM872.9 1270.5a15.6 15.6 0 1 0 31.2 0a15.6 15.6 0 1 0 -31.2 0zM875.7 1270.5a15.6 15.6 0 1 0 31.2 0a15.6 15.6 0 1 0 -31.2 0zM878.6 1270.5a15.6 15.6 0 1 0 31.2 0a15.6 15.6 0 1 0 -31.2 0zM881.4 1270.5a15.6 15.6 0 1 0 31.2 0a15.6 15.6 0 1 0 -31.2 0zM884.3 1270.5a15.6 15.6 0 1 0 31.2 0a15.6 15.6 0 1 0 -31.2 0zM887.1 1270.5a15.6 15.6 0 1 0 31.2 0a15.6 15.6 0 1 0 -31.2 0zM890 1270.5a15.6 15.6 0 1 0 31.2 0a15.6 15.6 0 1 0 -31.2 0zM892.8 1270.5a15.6 15.6 0 1 0 31.2 0a15.6 15.6 0 1 0 -31.2 0zM895.7 1270.5a15.6 15.6 0 1 0 31.2 0a15.6 15.6 0 1 0 -31.2 0zM898.5 1270.5a15.6 15.6 0 1 0 31.2 0a15.6 15.6 0 1 0 -31.2 0zM901.4 1270.5a15.6 15.6 0 1 0 31.2 0a15.6 15.6 0 1 0 -31.2 0zM904.2 1270.5a15.6 15.6 0 1 0 31.2 0a15.6 15.6 0 1 0 -31.2 0zM907.1 1270.5a15.6 15.6 0 1 0 31.2 0a15.6 15.6 0 1 0 -31.2 0zM909.9 1270.5a15.6 15.6 0 1 0 31.2 0a15.6 15.6 0 1 0 -31.2 0zM912.8 1243.7a15.6 15.6 0 1 0 31.2 0a15.6 15.6 0 1 0 -31.2 0zM915.6 1243.7a15.6 15.6 0 1 0 31.2 0a15.6 15.6 0 1 0 -31.2 0zM918.5 1243.7a15.6 15.6 0 1 0 31.2 0a15.6 15.6 0 1 0 -31.2 0zM921.3 1270.5a15.6 15.6 0 1 0 31.2 0a15.6 15.6 0 1 0 -31.2 0zM924.2 1243.7a15.6 15.6 0 1 0 31.2 0a15.6 15.6 0 1 0 -31.2 0zM927 1270.5a15.6 15.6 0 1 0 31.2 0a15.6 15.6 0 1 0 -31.2 0zM929.9 1270.5a15.6 15.6 0 1 0 31.2 0a15.6 15.6 0 1 0 -31.2 0zM932.7 1270.5a15.6 15.6 0 1 0 31.2 0a15.6 15.6 0 1 0 -31.2 0zM935.6 1270.5a15.6 15.6 0 1 0 31.2 0a15.6 15.6 0 1 0 -31.2 0zM938.4 1270.5a15.6 15.6 0 1 0 31.2 0a15.6 15.6 0 1 0 -31.2 0zM941.3 1243.7a15.6 15.6 0 1 0 31.2 0a15.6 15.6 0 1 0 -31.2 0zM944.1 1270.5a15.6 15.6 0 1 0 31.2 0a15.6 15.6 0 1 0 -31.2 0zM947 1270.5a15.6 15.6 0 1 0 31.2 0a15.6 15.6 0 1 0 -31.2 0zM949.8 1270.5a15.6 15.6 0 1 0 31.2 0a15.6 15.6 0 1 0 -31.2 0zM952.7 1270.5a15.6 15.6 0 1 0 31.2 0a15.6 15.6 0 1 0 -31.2 0zM955.5 1270.5a15.6 15.6 0 1 0 31.2 0a15.6 15.6 0 1 0 -31.2 0zM958.4 1270.5a15.6 15.6 0 1 0 31.2 0a15.6 15.6 0 1 0 -31.2 0zM961.3 1270.5a15.6 15.6 0 1 0 31.2 0a15.6 15.6 0 1 0 -31.2 0zM964.1 1243.7a15.6 15.6 0 1 0 31.2 0a15.6 15.6 0 1 0 -31.2 0zM967 1243.7a15.6 15.6 0 1 0 31.2 0a15.6 15.6 0 1 0 -31.2 0zM969.8 1243.7a15.6 15.6 0 1 0 31.2 0a15.6 15.6 0 1 0 -31.2 0zM972.7 1243.7a15.6 15.6 0 1 0 31.2 0a15.6 15.6 0 1 0 -31.2 0zM975.5 1243.7a15.6 15.6 0 1 0 31.2 0a15.6 15.6 0 1 0 -31.2 0zM978.4 1243.7a15.6 15.6 0 1 0 31.2 0a15.6 15.6 0 1 0 -31.2 0zM981.2 1243.7a15.6 15.6 0 1 0 31.2 0a15.6 15.6 0 1 0 -31.2 0zM984.1 1270.5a15.6 15.6 0 1 0 31.2 0a15.6 15.6 0 1 0 -31.2 0zM986.9 1243.7a15.6 15.6 0 1 0 31.2 0a15.6 15.6 0 1 0 -31.2 0zM989.8 1243.7a15.6 15.6 0 1 0 31.2 0a15.6 15.6 0 1 0 -31.2 0zM992.6 1243.7a15.6 15.6 0 1 0 31.2 0a15.6 15.6 0 1 0 -31.2 0zM995.5 1243.7a15.6 15.6 0 1 0 31.2 0a15.6 15.6 0 1 0 -31.2 0zM998.3 1243.7a15.6 15.6 0 1 0 31.2 0a15.6 15.6 0 1 0 -31.2 0zM1001.2 1243.7a15.6 15.6 0 1 0 31.2 0a15.6 15.6 0 1 0 -31.2 0zM1004 1243.7a15.6 15.6 0 1 0 31.2 0a15.6 15.6 0 1 0 -31.2 0zM1006.9 1243.7a15.6 15.6 0 1 0 31.2 0a15.6 15.6 0 1 0 -31.2 0zM1009.7 1243.7a15.6 15.6 0 1 0 31.2 0a15.6 15.6 0 1 0 -31.2 0zM1012.6 1243.7a15.6 15.6 0 1 0 31.2 0a15.6 15.6 0 1 0 -31.2 0zM1015.4 1243.7a15.6 15.6 0 1 0 31.2 0a15.6 15.6 0 1 0 -31.2 0zM1018.3 1243.7a15.6 15.6 0 1 0 31.2 0a15.6 15.6 0 1 0 -31.2 0zM1021.1 1243.7a15.6 15.6 0 1 0 31.2 0a15.6 15.6 0 1 0 -31.2 0zM1024 1243.7a15.6 15.6 0 1 0 31.2 0a15.6 15.6 0 1 0 -31.2 0zM1026.8 1243.7a15.6 15.6 0 1 0 31.2 0a15.6 15.6 0 1 0 -31.2 0zM1029.7 1217a15.6 15.6 0 1 0 31.2 0a15.6 15.6 0 1 0 -31.2 0zM1032.5 1243.7a15.6 15.6 0 1 0 31.2 0a15.6 15.6 0 1 0 -31.2 0zM1035.4 1217a15.6 15.6 0 1 0 31.2 0a15.6 15.6 0 1 0 -31.2 0zM1038.2 1217a15.6 15.6 0 1 0 31.2 0a15.6 15.6 0 1 0 -31.2 0zM1041.1 1243.7a15.6 15.6 0 1 0 31.2 0a15.6 15.6 0 1 0 -31.2 0zM1043.9 1243.7a15.6 15.6 0 1 0 31.2 0a15.6 15.6 0 1 0 -31.2 0zM1046.8 1217a15.6 15.6 0 1 0 31.2 0a15.6 15.6 0 1 0 -31.2 0zM1049.6 1217a15.6 15.6 0 1 0 31.2 0a15.6 15.6 0 1 0 -31.2 0zM1052.5 1217a15.6 15.6 0 1 0 31.2 0a15.6 15.6 0 1 0 -31.2 0zM1055.3 1217a15.6 15.6 0 1 0 31.2 0a15.6 15.6 0 1 0 -31.2 0zM1058.2 1217a15.6 15.6 0 1 0 31.2 0a15.6 15.6 0 1 0 -31.2 0zM1061 1217a15.6 15.6 0 1 0 31.2 0a15.6 15.6 0 1 0 -31.2 0zM1063.9 1217a15.6 15.6 0 1 0 31.2 0a15.6 15.6 0 1 0 -31.2 0zM1066.8 1217a15.6 15.6 0 1 0 31.2 0a15.6 15.6 0 1 0 -31.2 0zM1069.6 1217a15.6 15.6 0 1 0 31.2 0a15.6 15.6 0 1 0 -31.2 0zM1072.5 1217a15.6 15.6 0 1 0 31.2 0a15.6 15.6 0 1 0 -31.2 0zM1075.3 1217a15.6 15.6 0 1 0 31.2 0a15.6 15.6 0 1 0 -31.2 0zM1078.2 1217a15.6 15.6 0 1 0 31.2 0a15.6 15.6 0 1 0 -31.2 0zM1081 1217a15.6 15.6 0 1 0 31.2 0a15.6 15.6 0 1 0 -31.2 0zM1083.9 1217a15.6 15.6 0 1 0 31.2 0a15.6 15.6 0 1 0 -31.2 0zM1086.7 1217a15.6 15.6 0 1 0 31.2 0a15.6 15.6 0 1 0 -31.2 0zM1089.6 1190.2a15.6 15.6 0 1 0 31.2 0a15.6 15.6 0 1 0 -31.2 0zM1092.4 1217a15.6 15.6 0 1 0 31.2 0a15.6 15.6 0 1 0 -31.2 0zM1095.3 1217a15.6 15.6 0 1 0 31.2 0a15.6 15.6 0 1 0 -31.2 0zM1098.1 1190.2a15.6 15.6 0 1 0 31.2 0a15.6 15.6 0 1 0 -31.2 0zM1101 1217a15.6 15.6 0 1 0 31.2 0a15.6 15.6 0 1 0 -31.2 0zM1103.8 1190.2a15.6 15.6 0 1 0 31.2 0a15.6 15.6 0 1 0 -31.2 0zM1106.7 1190.2a15.6 15.6 0 1 0 31.2 0a15.6 15.6 0 1 0 -31.2 0zM1109.5 1190.2a15.6 15.6 0 1 0 31.2 0a15.6 15.6 0 1 0 -31.2 0zM1112.4 1190.2a15.6 15.6 0 1 0 31.2 0a15.6 15.6 0 1 0 -31.2 0zM1115.2 1190.2a15.6 15.6 0 1 0 31.2 0a15.6 15.6 0 1 0 -31.2 0zM1118.1 1190.2a15.6 15.6 0 1 0 31.2 0a15.6 15.6 0 1 0 -31.2 0zM1120.9 1190.2a15.6 15.6 0 1 0 31.2 0a15.6 15.6 0 1 0 -31.2 0zM1123.8 1190.2a15.6 15.6 0 1 0 31.2 0a15.6 15.6 0 1 0 -31.2 0zM1126.6 1190.2a15.6 15.6 0 1 0 31.2 0a15.6 15.6 0 1 0 -31.2 0zM1129.5 1190.2a15.6 15.6 0 1 0 31.2 0a15.6 15.6 0 1 0 -31.2 0zM1132.3 1190.2a15.6 15.6 0 1 0 31.2 0a15.6 15.6 0 1 0 -31.2 0zM1135.2 1190.2a15.6 15.6 0 1 0 31.2 0a15.6 15.6 0 1 0 -31.2 0zM1138 1190.2a15.6 15.6 0 1 0 31.2 0a15.6 15.6 0 1 0 -31.2 0zM1140.9 1190.2a15.6 15.6 0 1 0 31.2 0a15.6 15.6 0 1 0 -31.2 0zM1143.7 1190.2a15.6 15.6 0 1 0 31.2 0a15.6 15.6 0 1 0 -31.2 0zM1146.6 1190.2a15.6 15.6 0 1 0 31.2 0a15.6 15.6 0 1 0 -31.2 0zM1149.4 1190.2a15.6 15.6 0 1 0 31.2 0a15.6 15.6 0 1 0 -31.2 0zM1152.3 1190.2a15.6 15.6 0 1 0 31.2 0a15.6 15.6 0 1 0 -31.2 0zM1155.1 1190.2a15.6 15.6 0 1 0 31.2 0a15.6 15.6 0 1 0 -31.2 0zM1158 1190.2a15.6 15.6 0 1 0 31.2 0a15.6 15.6 0 1 0 -31.2 0zM1160.8 1163.4a15.6 15.6 0 1 0 31.2 0a15.6 15.6 0 1 0 -31.2 0zM1163.7 1163.4a15.6 15.6 0 1 0 31.2 0a15.6 15.6 0 1 0 -31.2 0zM1166.5 1163.4a15.6 15.6 0 1 0 31.2 0a15.6 15.6 0 1 0 -31.2 0zM1169.4 1163.4a15.6 15.6 0 1 0 31.2 0a15.6 15.6 0 1 0 -31.2 0zM1172.3 1163.4a15.6 15.6 0 1 0 31.2 0a15.6 15.6 0 1 0 -31.2 0zM1175.1 1163.4a15.6 15.6 0 1 0 31.2 0a15.6 15.6 0 1 0 -31.2 0zM1178 1163.4a15.6 15.6 0 1 0 31.2 0a15.6 15.6 0 1 0 -31.2 0zM1180.8 1163.4a15.6 15.6 0 1 0 31.2 0a15.6 15.6 0 1 0 -31.2 0zM1183.7 1163.4a15.6 15.6 0 1 0 31.2 0a15.6 15.6 0 1 0 -31.2 0zM1186.5 1163.4a15.6 15.6 0 1 0 31.2 0a15.6 15.6 0 1 0 -31.2 0zM1189.4 1163.4a15.6 15.6 0 1 0 31.2 0a15.6 15.6 0 1 0 -31.2 0zM1192.2 1163.4a15.6 15.6 0 1 0 31.2 0a15.6 15.6 0 1 0 -31.2 0zM1195.1 1163.4a15.6 15.6 0 1 0 31.2 0a15.6 15.6 0 1 0 -31.2 0zM1197.9 1163.4a15.6 15.6 0 1 0 31.2 0a15.6 15.6 0 1 0 -31.2 0zM1200.8 1163.4a15.6 15.6 0 1 0 31.2 0a15.6 15.6 0 1 0 -31.2 0zM1203.6 1163.4a15.6 15.6 0 1 0 31.2 0a15.6 15.6 0 1 0 -31.2 0zM1206.5 1163.4a15.6 15.6 0 1 0 31.2 0a15.6 15.6 0 1 0 -31.2 0zM1209.3 1163.4a15.6 15.6 0 1 0 31.2 0a15.6 15.6 0 1 0 -31.2 0zM1212.2 1136.7a15.6 15.6 0 1 0 31.2 0a15.6 15.6 0 1 0 -31.2 0zM1215 1163.4a15.6 15.6 0 1 0 31.2 0a15.6 15.6 0 1 0 -31.2 0zM1217.9 1136.7a15.6 15.6 0 1 0 31.2 0a15.6 15.6 0 1 0 -31.2 0zM1220.7 1136.7a15.6 15.6 0 1 0 31.2 0a15.6 15.6 0 1 0 -31.2 0zM1223.6 1136.7a15.6 15.6 0 1 0 31.2 0a15.6 15.6 0 1 0 -31.2 0zM1226.4 1163.4a15.6 15.6 0 1 0 31.2 0a15.6 15.6 0 1 0 -31.2 0zM1229.3 1136.7a15.6 15.6 0 1 0 31.2 0a15.6 15.6 0 1 0 -31.2 0zM1232.1 1136.7a15.6 15.6 0 1 0 31.2 0a15.6 15.6 0 1 0 -31.2 0zM1235 1136.7a15.6 15.6 0 1 0 31.2 0a15.6 15.6 0 1 0 -31.2 0zM1237.8 1163.4a15.6 15.6 0 1 0 31.2 0a15.6 15.6 0 1 0 -31.2 0zM1240.7 1136.7a15.6 15.6 0 1 0 31.2 0a15.6 15.6 0 1 0 -31.2 0zM1243.5 1136.7a15.6 15.6 0 1 0 31.2 0a15.6 15.6 0 1 0 -31.2 0zM1246.4 1136.7a15.6 15.6 0 1 0 31.2 0a15.6 15.6 0 1 0 -31.2 0zM1249.2 1136.7a15.6 15.6 0 1 0 31.2 0a15.6 15.6 0 1 0 -31.2 0zM1252.1 1136.7a15.6 15.6 0 1 0 31.2 0a15.6 15.6 0 1 0 -31.2 0zM1254.9 1136.7a15.6 15.6 0 1 0 31.2 0a15.6 15.6 0 1 0 -31.2 0zM1257.8 1136.7a15.6 15.6 0 1 0 31.2 0a15.6 15.6 0 1 0 -31.2 0zM1260.6 1136.7a15.6 15.6 0 1 0 31.2 0a15.6 15.6 0 1 0 -31.2 0zM1263.5 1136.7a15.6 15.6 0 1 0 31.2 0a15.6 15.6 0 1 0 -31.2 0zM1266.3 1136.7a15.6 15.6 0 1 0 31.2 0a15.6 15.6 0 1 0 -31.2 0zM1269.2 1136.7a15.6 15.6 0 1 0 31.2 0a15.6 15.6 0 1 0 -31.2 0zM1272 1136.7a15.6 15.6 0 1 0 31.2 0a15.6 15.6 0 1 0 -31.2 0zM1274.9 1136.7a15.6 15.6 0 1 0 31.2 0a15.6 15.6 0 1 0 -31.2 0zM1277.8 1136.7a15.6 15.6 0 1 0 31.2 0a15.6 15.6 0 1 0 -31.2 0zM1280.6 1136.7a15.6 15.6 0 1 0 31.2 0a15.6 15.6 0 1 0 -31.2 0zM1283.5 1136.7a15.6 15.6 0 1 0 31.2 0a15.6 15.6 0 1 0 -31.2 0zM1286.3 1110a15.6 15.6 0 1 0 31.2 0a15.6 15.6 0 1 0 -31.2 0zM1289.2 1136.7a15.6 15.6 0 1 0 31.2 0a15.6 15.6 0 1 0 -31.2 0zM1292 1136.7a15.6 15.6 0 1 0 31.2 0a15.6 15.6 0 1 0 -31.2 0zM1294.9 1110a15.6 15.6 0 1 0 31.2 0a15.6 15.6 0 1 0 -31.2 0zM1297.7 1136.7a15.6 15.6 0 1 0 31.2 0a15.6 15.6 0 1 0 -31.2 0zM1300.6 1136.7a15.6 15.6 0 1 0 31.2 0a15.6 15.6 0 1 0 -31.2 0zM1303.4 1110a15.6 15.6 0 1 0 31.2 0a15.6 15.6 0 1 0 -31.2 0zM1306.3 1136.7a15.6 15.6 0 1 0 31.2 0a15.6 15.6 0 1 0 -31.2 0zM1309.1 1136.7a15.6 15.6 0 1 0 31.2 0a15.6 15.6 0 1 0 -31.2 0zM1312 1136.7a15.6 15.6 0 1 0 31.2 0a15.6 15.6 0 1 0 -31.2 0zM1314.8 1136.7a15.6 15.6 0 1 0 31.2 0a15.6 15.6 0 1 0 -31.2 0zM1317.7 1136.7a15.6 15.6 0 1 0 31.2 0a15.6 15.6 0 1 0 -31.2 0zM1320.5 1136.7a15.6 15.6 0 1 0 31.2 0a15.6 15.6 0 1 0 -31.2 0zM1323.4 1136.7a15.6 15.6 0 1 0 31.2 0a15.6 15.6 0 1 0 -31.2 0zM1326.2 1136.7a15.6 15.6 0 1 0 31.2 0a15.6 15.6 0 1 0 -31.2 0zM1329.1 1110a15.6 15.6 0 1 0 31.2 0a15.6 15.6 0 1 0 -31.2 0zM1331.9 1110a15.6 15.6 0 1 0 31.2 0a15.6 15.6 0 1 0 -31.2 0zM1334.8 1136.7a15.6 15.6 0 1 0 31.2 0a15.6 15.6 0 1 0 -31.2 0zM1337.6 1110a15.6 15.6 0 1 0 31.2 0a15.6 15.6 0 1 0 -31.2 0zM1340.5 1110a15.6 15.6 0 1 0 31.2 0a15.6 15.6 0 1 0 -31.2 0zM1343.3 1110a15.6 15.6 0 1 0 31.2 0a15.6 15.6 0 1 0 -31.2 0zM1346.2 1110a15.6 15.6 0 1 0 31.2 0a15.6 15.6 0 1 0 -31.2 0zM1349 1136.7a15.6 15.6 0 1 0 31.2 0a15.6 15.6 0 1 0 -31.2 0zM1351.9 1110a15.6 15.6 0 1 0 31.2 0a15.6 15.6 0 1 0 -31.2 0zM1354.7 1110a15.6 15.6 0 1 0 31.2 0a15.6 15.6 0 1 0 -31.2 0zM1357.6 1110a15.6 15.6 0 1 0 31.2 0a15.6 15.6 0 1 0 -31.2 0zM1360.4 1136.7a15.6 15.6 0 1 0 31.2 0a15.6 15.6 0 1 0 -31.2 0zM1363.3 1110a15.6 15.6 0 1 0 31.2 0a15.6 15.6 0 1 0 -31.2 0zM1366.1 1110a15.6 15.6 0 1 0 31.2 0a15.6 15.6 0 1 0 -31.2 0zM1369 1110a15.6 15.6 0 1 0 31.2 0a15.6 15.6 0 1 0 -31.2 0zM1371.8 1110a15.6 15.6 0 1 0 31.2 0a15.6 15.6 0 1 0 -31.2 0zM1374.7 1110a15.6 15.6 0 1 0 31.2 0a15.6 15.6 0 1 0 -31.2 0zM1377.5 1110a15.6 15.6 0 1 0 31.2 0a15.6 15.6 0 1 0 -31.2 0zM1380.4 1110a15.6 15.6 0 1 0 31.2 0a15.6 15.6 0 1 0 -31.2 0zM1383.2 1110a15.6 15.6 0 1 0 31.2 0a15.6 15.6 0 1 0 -31.2 0zM1386.1 1110a15.6 15.6 0 1 0 31.2 0a15.6 15.6 0 1 0 -31.2 0zM1389 1110a15.6 15.6 0 1 0 31.2 0a15.6 15.6 0 1 0 -31.2 0zM1391.8 1110a15.6 15.6 0 1 0 31.2 0a15.6 15.6 0 1 0 -31.2 0zM1394.7 1083.2a15.6 15.6 0 1 0 31.2 0a15.6 15.6 0 1 0 -31.2 0zM1397.5 1110a15.6 15.6 0 1 0 31.2 0a15.6 15.6 0 1 0 -31.2 0zM1400.4 1110a15.6 15.6 0 1 0 31.2 0a15.6 15.6 0 1 0 -31.2 0zM1403.2 1110a15.6 15.6 0 1 0 31.2 0a15.6 15.6 0 1 0 -31.2 0zM1406.1 1083.2a15.6 15.6 0 1 0 31.2 0a15.6 15.6 0 1 0 -31.2 0zM1408.9 1083.2a15.6 15.6 0 1 0 31.2 0a15.6 15.6 0 1 0 -31.2 0zM1411.8 1083.2a15.6 15.6 0 1 0 31.2 0a15.6 15.6 0 1 0 -31.2 0zM1414.6 1083.2a15.6 15.6 0 1 0 31.2 0a15.6 15.6 0 1 0 -31.2 0zM1417.5 1083.2a15.6 15.6 0 1 0 31.2 0a15.6 15.6 0 1 0 -31.2 0zM1420.3 1083.2a15.6 15.6 0 1 0 31.2 0a15.6 15.6 0 1 0 -31.2 0zM1423.2 1110a15.6 15.6 0 1 0 31.2 0a15.6 15.6 0 1 0 -31.2 0zM1426 1083.2a15.6 15.6 0 1 0 31.2 0a15.6 15.6 0 1 0 -31.2 0zM1428.9 1083.2a15.6 15.6 0 1 0 31.2 0a15.6 15.6 0 1 0 -31.2 0zM1431.7 1083.2a15.6 15.6 0 1 0 31.2 0a15.6 15.6 0 1 0 -31.2 0zM1434.6 1083.2a15.6 15.6 0 1 0 31.2 0a15.6 15.6 0 1 0 -31.2 0zM1437.4 1083.2a15.6 15.6 0 1 0 31.2 0a15.6 15.6 0 1 0 -31.2 0zM1440.3 1083.2a15.6 15.6 0 1 0 31.2 0a15.6 15.6 0 1 0 -31.2 0zM1443.1 1083.2a15.6 15.6 0 1 0 31.2 0a15.6 15.6 0 1 0 -31.2 0zM1446 1083.2a15.6 15.6 0 1 0 31.2 0a15.6 15.6 0 1 0 -31.2 0zM1448.8 1083.2a15.6 15.6 0 1 0 31.2 0a15.6 15.6 0 1 0 -31.2 0zM1451.7 1083.2a15.6 15.6 0 1 0 31.2 0a15.6 15.6 0 1 0 -31.2 0zM1454.5 1083.2a15.6 15.6 0 1 0 31.2 0a15.6 15.6 0 1 0 -31.2 0zM1457.4 1083.2a15.6 15.6 0 1 0 31.2 0a15.6 15.6 0 1 0 -31.2 0zM1460.2 1083.2a15.6 15.6 0 1 0 31.2 0a15.6 15.6 0 1 0 -31.2 0zM1463.1 1083.2a15.6 15.6 0 1 0 31.2 0a15.6 15.6 0 1 0 -31.2 0zM1465.9 1110a15.6 15.6 0 1 0 31.2 0a15.6 15.6 0 1 0 -31.2 0zM1468.8 1083.2a15.6 15.6 0 1 0 31.2 0a15.6 15.6 0 1 0 -31.2 0zM1471.6 1083.2a15.6 15.6 0 1 0 31.2 0a15.6 15.6 0 1 0 -31.2 0zM1474.5 1083.2a15.6 15.6 0 1 0 31.2 0a15.6 15.6 0 1 0 -31.2 0zM1477.3 1083.2a15.6 15.6 0 1 0 31.2 0a15.6 15.6 0 1 0 -31.2 0zM1480.2 1083.2a15.6 15.6 0 1 0 31.2 0a15.6 15.6 0 1 0 -31.2 0zM1483 1056.5a15.6 15.6 0 1 0 31.2 0a15.6 15.6 0 1 0 -31.2 0zM1485.9 1083.2a15.6 15.6 0 1 0 31.2 0a15.6 15.6 0 1 0 -31.2 0zM1488.7 1083.2a15.6 15.6 0 1 0 31.2 0a15.6 15.6 0 1 0 -31.2 0zM1491.6 1056.5a15.6 15.6 0 1 0 31.2 0a15.6 15.6 0 1 0 -31.2 0zM1494.5 1056.5a15.6 15.6 0 1 0 31.2 0a15.6 15.6 0 1 0 -31.2 0zM1497.3 1056.5a15.6 15.6 0 1 0 31.2 0a15.6 15.6 0 1 0 -31.2 0zM1500.2 1056.5a15.6 15.6 0 1 0 31.2 0a15.6 15.6 0 1 0 -31.2 0zM1503 1056.5a15.6 15.6 0 1 0 31.2 0a15.6 15.6 0 1 0 -31.2 0zM1505.9 1056.5a15.6 15.6 0 1 0 31.2 0a15.6 15.6 0 1 0 -31.2 0zM1508.7 1056.5a15.6 15.6 0 1 0 31.2 0a15.6 15.6 0 1 0 -31.2 0zM1511.6 1056.5a15.6 15.6 0 1 0 31.2 0a15.6 15.6 0 1 0 -31.2 0zM1514.4 1056.5a15.6 15.6 0 1 0 31.2 0a15.6 15.6 0 1 0 -31.2 0zM1517.3 1056.5a15.6 15.6 0 1 0 31.2 0a15.6 15.6 0 1 0 -31.2 0zM1520.1 1056.5a15.6 15.6 0 1 0 31.2 0a15.6 15.6 0 1 0 -31.2 0zM1523 1056.5a15.6 15.6 0 1 0 31.2 0a15.6 15.6 0 1 0 -31.2 0zM1525.8 1056.5a15.6 15.6 0 1 0 31.2 0a15.6 15.6 0 1 0 -31.2 0zM1528.7 1056.5a15.6 15.6 0 1 0 31.2 0a15.6 15.6 0 1 0 -31.2 0zM1531.5 1056.5a15.6 15.6 0 1 0 31.2 0a15.6 15.6 0 1 0 -31.2 0zM1534.4 1056.5a15.6 15.6 0 1 0 31.2 0a15.6 15.6 0 1 0 -31.2 0zM1537.2 1056.5a15.6 15.6 0 1 0 31.2 0a15.6 15.6 0 1 0 -31.2 0zM1540.1 1056.5a15.6 15.6 0 1 0 31.2 0a15.6 15.6 0 1 0 -31.2 0zM1542.9 1056.5a15.6 15.6 0 1 0 31.2 0a15.6 15.6 0 1 0 -31.2 0zM1545.8 1056.5a15.6 15.6 0 1 0 31.2 0a15.6 15.6 0 1 0 -31.2 0zM1548.6 1056.5a15.6 15.6 0 1 0 31.2 0a15.6 15.6 0 1 0 -31.2 0zM1551.5 1056.5a15.6 15.6 0 1 0 31.2 0a15.6 15.6 0 1 0 -31.2 0zM1554.3 1056.5a15.6 15.6 0 1 0 31.2 0a15.6 15.6 0 1 0 -31.2 0zM1557.2 1056.5a15.6 15.6 0 1 0 31.2 0a15.6 15.6 0 1 0 -31.2 0zM1560 1056.5a15.6 15.6 0 1 0 31.2 0a15.6 15.6 0 1 0 -31.2 0zM1562.9 1056.5a15.6 15.6 0 1 0 31.2 0a15.6 15.6 0 1 0 -31.2 0zM1565.7 1056.5a15.6 15.6 0 1 0 31.2 0a15.6 15.6 0 1 0 -31.2 0zM1568.6 1056.5a15.6 15.6 0 1 0 31.2 0a15.6 15.6 0 1 0 -31.2 0zM1571.4 1056.5a15.6 15.6 0 1 0 31.2 0a15.6 15.6 0 1 0 -31.2 0zM1574.3 1056.5a15.6 15.6 0 1 0 31.2 0a15.6 15.6 0 1 0 -31.2 0zM1577.1 1056.5a15.6 15.6 0 1 0 31.2 0a15.6 15.6 0 1 0 -31.2 0zM1580 1083.2a15.6 15.6 0 1 0 31.2 0a15.6 15.6 0 1 0 -31.2 0zM1582.8 1056.5a15.6 15.6 0 1 0 31.2 0a15.6 15.6 0 1 0 -31.2 0zM1585.7 1056.5a15.6 15.6 0 1 0 31.2 0a15.6 15.6 0 1 0 -31.2 0zM1588.5 1056.5a15.6 15.6 0 1 0 31.2 0a15.6 15.6 0 1 0 -31.2 0zM1591.4 1056.5a15.6 15.6 0 1 0 31.2 0a15.6 15.6 0 1 0 -31.2 0zM1594.2 1056.5a15.6 15.6 0 1 0 31.2 0a15.6 15.6 0 1 0 -31.2 0zM1597.1 1056.5a15.6 15.6 0 1 0 31.2 0a15.6 15.6 0 1 0 -31.2 0zM1600 1056.5a15.6 15.6 0 1 0 31.2 0a15.6 15.6 0 1 0 -31.2 0zM1602.8 1056.5a15.6 15.6 0 1 0 31.2 0a15.6 15.6 0 1 0 -31.2 0zM1605.7 1056.5a15.6 15.6 0 1 0 31.2 0a15.6 15.6 0 1 0 -31.2 0zM1608.5 1029.7a15.6 15.6 0 1 0 31.2 0a15.6 15.6 0 1 0 -31.2 0zM1611.4 1056.5a15.6 15.6 0 1 0 31.2 0a15.6 15.6 0 1 0 -31.2 0zM1614.2 1056.5a15.6 15.6 0 1 0 31.2 0a15.6 15.6 0 1 0 -31.2 0zM1617.1 1029.7a15.6 15.6 0 1 0 31.2 0a15.6 15.6 0 1 0 -31.2 0zM1619.9 1056.5a15.6 15.6 0 1 0 31.2 0a15.6 15.6 0 1 0 -31.2 0zM1622.8 1029.7a15.6 15.6 0 1 0 31.2 0a15.6 15.6 0 1 0 -31.2 0zM1625.6 1029.7a15.6 15.6 0 1 0 31.2 0a15.6 15.6 0 1 0 -31.2 0zM1628.5 1029.7a15.6 15.6 0 1 0 31.2 0a15.6 15.6 0 1 0 -31.2 0zM1631.3 1029.7a15.6 15.6 0 1 0 31.2 0a15.6 15.6 0 1 0 -31.2 0zM1634.2 1029.7a15.6 15.6 0 1 0 31.2 0a15.6 15.6 0 1 0 -31.2 0zM1637 1029.7a15.6 15.6 0 1 0 31.2 0a15.6 15.6 0 1 0 -31.2 0zM1639.9 1029.7a15.6 15.6 0 1 0 31.2 0a15.6 15.6 0 1 0 -31.2 0zM1642.7 1029.7a15.6 15.6 0 1 0 31.2 0a15.6 15.6 0 1 0 -31.2 0zM1645.6 1029.7a15.6 15.6 0 1 0 31.2 0a15.6 15.6 0 1 0 -31.2 0zM1648.4 1029.7a15.6 15.6 0 1 0 31.2 0a15.6 15.6 0 1 0 -31.2 0zM1651.3 1029.7a15.6 15.6 0 1 0 31.2 0a15.6 15.6 0 1 0 -31.2 0zM1654.1 1029.7a15.6 15.6 0 1 0 31.2 0a15.6 15.6 0 1 0 -31.2 0zM1657 1029.7a15.6 15.6 0 1 0 31.2 0a15.6 15.6 0 1 0 -31.2 0zM1659.8 1029.7a15.6 15.6 0 1 0 31.2 0a15.6 15.6 0 1 0 -31.2 0zM1662.7 1029.7a15.6 15.6 0 1 0 31.2 0a15.6 15.6 0 1 0 -31.2 0zM1665.5 1029.7a15.6 15.6 0 1 0 31.2 0a15.6 15.6 0 1 0 -31.2 0zM1668.4 1003a15.6 15.6 0 1 0 31.2 0a15.6 15.6 0 1 0 -31.2 0zM1671.2 1029.7a15.6 15.6 0 1 0 31.2 0a15.6 15.6 0 1 0 -31.2 0zM1674.1 1029.7a15.6 15.6 0 1 0 31.2 0a15.6 15.6 0 1 0 -31.2 0zM1676.9 1029.7a15.6 15.6 0 1 0 31.2 0a15.6 15.6 0 1 0 -31.2 0zM1679.8 1029.7a15.6 15.6 0 1 0 31.2 0a15.6 15.6 0 1 0 -31.2 0zM1682.6 1029.7a15.6 15.6 0 1 0 31.2 0a15.6 15.6 0 1 0 -31.2 0zM1685.5 1029.7a15.6 15.6 0 1 0 31.2 0a15.6 15.6 0 1 0 -31.2 0zM1688.3 1029.7a15.6 15.6 0 1 0 31.2 0a15.6 15.6 0 1 0 -31.2 0zM1691.2 1029.7a15.6 15.6 0 1 0 31.2 0a15.6 15.6 0 1 0 -31.2 0zM1694 1083.2a15.6 15.6 0 1 0 31.2 0a15.6 15.6 0 1 0 -31.2 0zM1696.9 1029.7a15.6 15.6 0 1 0 31.2 0a15.6 15.6 0 1 0 -31.2 0zM1699.7 1029.7a15.6 15.6 0 1 0 31.2 0a15.6 15.6 0 1 0 -31.2 0zM1702.6 1029.7a15.6 15.6 0 1 0 31.2 0a15.6 15.6 0 1 0 -31.2 0zM1705.5 1029.7a15.6 15.6 0 1 0 31.2 0a15.6 15.6 0 1 0 -31.2 0zM1708.3 1029.7a15.6 15.6 0 1 0 31.2 0a15.6 15.6 0 1 0 -31.2 0zM1711.2 1029.7a15.6 15.6 0 1 0 31.2 0a15.6 15.6 0 1 0 -31.2 0zM1714 1029.7a15.6 15.6 0 1 0 31.2 0a15.6 15.6 0 1 0 -31.2 0zM1716.9 1029.7a15.6 15.6 0 1 0 31.2 0a15.6 15.6 0 1 0 -31.2 0zM1719.7 1029.7a15.6 15.6 0 1 0 31.2 0a15.6 15.6 0 1 0 -31.2 0zM1722.6 1029.7a15.6 15.6 0 1 0 31.2 0a15.6 15.6 0 1 0 -31.2 0zM1725.4 1029.7a15.6 15.6 0 1 0 31.2 0a15.6 15.6 0 1 0 -31.2 0zM1728.3 1029.7a15.6 15.6 0 1 0 31.2 0a15.6 15.6 0 1 0 -31.2 0zM1731.1 1029.7a15.6 15.6 0 1 0 31.2 0a15.6 15.6 0 1 0 -31.2 0zM1734 1029.7a15.6 15.6 0 1 0 31.2 0a15.6 15.6 0 1 0 -31.2 0zM1736.8 1029.7a15.6 15.6 0 1 0 31.2 0a15.6 15.6 0 1 0 -31.2 0zM1739.7 1029.7a15.6 15.6 0 1 0 31.2 0a15.6 15.6 0 1 0 -31.2 0zM1742.5 1029.7a15.6 15.6 0 1 0 31.2 0a15.6 15.6 0 1 0 -31.2 0zM1745.4 1029.7a15.6 15.6 0 1 0 31.2 0a15.6 15.6 0 1 0 -31.2 0zM1748.2 1029.7a15.6 15.6 0 1 0 31.2 0a15.6 15.6 0 1 0 -31.2 0zM1751.1 1029.7a15.6 15.6 0 1 0 31.2 0a15.6 15.6 0 1 0 -31.2 0zM1753.9 1029.7a15.6 15.6 0 1 0 31.2 0a15.6 15.6 0 1 0 -31.2 0zM1756.8 1029.7a15.6 15.6 0 1 0 31.2 0a15.6 15.6 0 1 0 -31.2 0zM1759.6 1029.7a15.6 15.6 0 1 0 31.2 0a15.6 15.6 0 1 0 -31.2 0zM1762.5 1029.7a15.6 15.6 0 1 0 31.2 0a15.6 15.6 0 1 0 -31.2 0zM1765.3 1003a15.6 15.6 0 1 0 31.2 0a15.6 15.6 0 1 0 -31.2 0zM1768.2 1029.7a15.6 15.6 0 1 0 31.2 0a15.6 15.6 0 1 0 -31.2 0zM1771 1029.7a15.6 15.6 0 1 0 31.2 0a15.6 15.6 0 1 0 -31.2 0zM1773.9 1003a15.6 15.6 0 1 0 31.2 0a15.6 15.6 0 1 0 -31.2 0zM1776.7 1029.7a15.6 15.6 0 1 0 31.2 0a15.6 15.6 0 1 0 -31.2 0zM1779.6 1029.7a15.6 15.6 0 1 0 31.2 0a15.6 15.6 0 1 0 -31.2 0zM1782.4 1003a15.6 15.6 0 1 0 31.2 0a15.6 15.6 0 1 0 -31.2 0zM1785.3 1029.7a15.6 15.6 0 1 0 31.2 0a15.6 15.6 0 1 0 -31.2 0zM1788.1 1029.7a15.6 15.6 0 1 0 31.2 0a15.6 15.6 0 1 0 -31.2 0zM1791 1029.7a15.6 15.6 0 1 0 31.2 0a15.6 15.6 0 1 0 -31.2 0zM1793.8 1029.7a15.6 15.6 0 1 0 31.2 0a15.6 15.6 0 1 0 -31.2 0zM1796.7 1003a15.6 15.6 0 1 0 31.2 0a15.6 15.6 0 1 0 -31.2 0zM1799.5 1029.7a15.6 15.6 0 1 0 31.2 0a15.6 15.6 0 1 0 -31.2 0zM1802.4 1003a15.6 15.6 0 1 0 31.2 0a15.6 15.6 0 1 0 -31.2 0zM1805.2 1003a15.6 15.6 0 1 0 31.2 0a15.6 15.6 0 1 0 -31.2 0zM1808.1 1029.7a15.6 15.6 0 1 0 31.2 0a15.6 15.6 0 1 0 -31.2 0zM1810.9 1003a15.6 15.6 0 1 0 31.2 0a15.6 15.6 0 1 0 -31.2 0zM1813.8 1056.5a15.6 15.6 0 1 0 31.2 0a15.6 15.6 0 1 0 -31.2 0zM1816.7 1003a15.6 15.6 0 1 0 31.2 0a15.6 15.6 0 1 0 -31.2 0zM1819.5 1003a15.6 15.6 0 1 0 31.2 0a15.6 15.6 0 1 0 -31.2 0zM1822.4 1003a15.6 15.6 0 1 0 31.2 0a15.6 15.6 0 1 0 -31.2 0zM1825.2 1003a15.6 15.6 0 1 0 31.2 0a15.6 15.6 0 1 0 -31.2 0zM1828.1 1003a15.6 15.6 0 1 0 31.2 0a15.6 15.6 0 1 0 -31.2 0zM1830.9 1003a15.6 15.6 0 1 0 31.2 0a15.6 15.6 0 1 0 -31.2 0zM1833.8 1029.7a15.6 15.6 0 1 0 31.2 0a15.6 15.6 0 1 0 -31.2 0zM1836.6 1003a15.6 15.6 0 1 0 31.2 0a15.6 15.6 0 1 0 -31.2 0zM1839.5 1003a15.6 15.6 0 1 0 31.2 0a15.6 15.6 0 1 0 -31.2 0zM1842.3 1003a15.6 15.6 0 1 0 31.2 0a15.6 15.6 0 1 0 -31.2 0zM1845.2 1003a15.6 15.6 0 1 0 31.2 0a15.6 15.6 0 1 0 -31.2 0zM1848 1003a15.6 15.6 0 1 0 31.2 0a15.6 15.6 0 1 0 -31.2 0zM1850.9 1003a15.6 15.6 0 1 0 31.2 0a15.6 15.6 0 1 0 -31.2 0zM1853.7 1003a15.6 15.6 0 1 0 31.2 0a15.6 15.6 0 1 0 -31.2 0zM1856.6 1003a15.6 15.6 0 1 0 31.2 0a15.6 15.6 0 1 0 -31.2 0zM1859.4 1003a15.6 15.6 0 1 0 31.2 0a15.6 15.6 0 1 0 -31.2 0zM1862.3 1003a15.6 15.6 0 1 0 31.2 0a15.6 15.6 0 1 0 -31.2 0zM1865.1 1003a15.6 15.6 0 1 0 31.2 0a15.6 15.6 0 1 0 -31.2 0zM1868 1003a15.6 15.6 0 1 0 31.2 0a15.6 15.6 0 1 0 -31.2 0zM1870.8 1003a15.6 15.6 0 1 0 31.2 0a15.6 15.6 0 1 0 -31.2 0zM1873.7 1003a15.6 15.6 0 1 0 31.2 0a15.6 15.6 0 1 0 -31.2 0zM1876.5 1003a15.6 15.6 0 1 0 31.2 0a15.6 15.6 0 1 0 -31.2 0zM1879.4 1003a15.6 15.6 0 1 0 31.2 0a15.6 15.6 0 1 0 -31.2 0zM1882.2 976.2a15.6 15.6 0 1 0 31.2 0a15.6 15.6 0 1 0 -31.2 0zM1885.1 1003a15.6 15.6 0 1 0 31.2 0a15.6 15.6 0 1 0 -31.2 0zM1887.9 976.2a15.6 15.6 0 1 0 31.2 0a15.6 15.6 0 1 0 -31.2 0zM1890.8 976.2a15.6 15.6 0 1 0 31.2 0a15.6 15.6 0 1 0 -31.2 0zM1893.6 976.2a15.6 15.6 0 1 0 31.2 0a15.6 15.6 0 1 0 -31.2 0zM1896.5 976.2a15.6 15.6 0 1 0 31.2 0a15.6 15.6 0 1 0 -31.2 0zM1899.3 976.2a15.6 15.6 0 1 0 31.2 0a15.6 15.6 0 1 0 -31.2 0zM1902.2 976.2a15.6 15.6 0 1 0 31.2 0a15.6 15.6 0 1 0 -31.2 0zM1905 976.2a15.6 15.6 0 1 0 31.2 0a15.6 15.6 0 1 0 -31.2 0zM1907.9 976.2a15.6 15.6 0 1 0 31.2 0a15.6 15.6 0 1 0 -31.2 0zM1910.7 976.2a15.6 15.6 0 1 0 31.2 0a15.6 15.6 0 1 0 -31.2 0zM1913.6 976.2a15.6 15.6 0 1 0 31.2 0a15.6 15.6 0 1 0 -31.2 0zM1916.4 976.2a15.6 15.6 0 1 0 31.2 0a15.6 15.6 0 1 0 -31.2 0zM1919.3 976.2a15.6 15.6 0 1 0 31.2 0a15.6 15.6 0 1 0 -31.2 0z" stroke="#0072BD" stroke-width="3.6" fill="none" stroke-linejoin="round"/>
<path d="M227 280.7L229.8 280.7L232.7 307.4L235.5 307.4L238.4 307.4L241.2 307.4L244.1 280.7L246.9 307.4L249.8 280.7L252.6 307.4L255.5 280.7L258.3 280.7L261.2 307.4L264 280.7L266.9 307.4L269.7 307.4L272.6 307.4L275.4 307.4L278.3 307.4L281.1 307.4L284 307.4L286.8 307.4L289.7 307.4L292.5 307.4L295.4 307.4L298.2 307.4L301.1 307.4L303.9 307.4L306.8 307.4L309.6 307.4L312.5 334.2L315.3 307.4L318.2 307.4L321 307.4L323.9 334.2L326.7 307.4L329.6 334.2L332.5 334.2L335.3 334.2L338.2 334.2L341 361L343.9 361L346.7 361L349.6 361L352.4 361L355.3 361L358.1 361L361 361L363.8 361L366.7 361L369.5 361L372.4 361L375.2 361L378.1 361L380.9 361L383.8 387.7L386.6 361L389.5 361L392.3 361L395.2 361L398 387.7L400.9 387.7L403.7 387.7L406.6 387.7L409.4 387.7L412.3 387.7L415.1 361L418 361L420.8 361L423.7 361L426.5 361L429.4 361L432.2 361L435.1 361L438 361L440.8 361L443.7 361L446.5 361L449.4 361L452.2 361L455.1 387.7L457.9 387.7L460.8 387.7L463.6 361L466.5 387.7L469.3 361L472.2 361L475 361L477.9 387.7L480.7 387.7L483.6 361L486.4 361L489.3 361L492.1 361L495 361L497.8 361L500.7 361L503.5 361L506.4 361L509.2 361L512.1 361L514.9 361L517.8 361L520.6 334.2L523.5 361L526.3 361L529.2 334.2L532 361L534.9 361L537.7 334.2L540.6 334.2L543.4 334.2L546.3 334.2L549.2 334.2L552 334.2L554.9 334.2L557.7 334.2L560.6 334.2L563.4 334.2L566.3 334.2L569.1 307.4L572 334.2L574.8 334.2L577.7 334.2L580.5 334.2L583.4 334.2L586.2 334.2L589.1 334.2L591.9 334.2L594.8 334.2L597.6 334.2L600.5 334.2L603.3 307.4L606.2 307.4L609 334.2L611.9 307.4L614.7 307.4L617.6 307.4L620.4 307.4L623.3 307.4L626.1 307.4L629 307.4L631.8 307.4L634.7 307.4L637.5 307.4L640.4 307.4L643.2 280.7L646.1 280.7L648.9 280.7L651.8 307.4L654.7 280.7L657.5 307.4L660.4 307.4L663.2 307.4L666.1 280.7L668.9 280.7L671.8 280.7L674.6 280.7L677.5 280.7L680.3 280.7L683.2 280.7L686 280.7L688.9 280.7L691.7 280.7L694.6 280.7L697.4 307.4L700.3 280.7L703.1 280.7L706 280.7L708.8 280.7L711.7 280.7L714.5 280.7L717.4 280.7L720.2 280.7L723.1 280.7L725.9 280.7L728.8 254L731.6 254L734.5 280.7L737.3 254L740.2 254L743 254L745.9 254L748.7 254L751.6 254L754.4 254L757.3 254L760.2 254L763 254L765.9 254L768.7 254L771.6 254L774.4 254L777.3 254L780.1 254L783 227.2L785.8 254L788.7 254L791.5 254L794.4 227.2L797.2 227.2L800.1 227.2L802.9 227.2L805.8 254L808.6 227.2L811.5 227.2L814.3 227.2L817.2 227.2L820 254L822.9 227.2L825.7 227.2L828.6 254L831.4 227.2L834.3 227.2L837.1 227.2L840 227.2L842.8 227.2L845.7 227.2L848.5 227.2L851.4 227.2L854.2 227.2L857.1 227.2L859.9 200.4L862.8 227.2L865.7 200.4L868.5 227.2L871.4 227.2L874.2 200.4L877.1 227.2L879.9 227.2L882.8 227.2L885.6 227.2L888.5 200.4L891.3 200.4L894.2 200.4L897 200.4L899.9 200.4L902.7 200.4L905.6 227.2L908.4 200.4L911.3 227.2L914.1 200.4L917 200.4L919.8 200.4L922.7 200.4L925.5 200.4L928.4 200.4L931.2 200.4L934.1 200.4L936.9 200.4L939.8 200.4L942.6 200.4L945.5 200.4L948.3 200.4L951.2 200.4L954 200.4L956.9 200.4L959.7 200.4L962.6 200.4L965.4 200.4L968.3 200.4L971.1 200.4L974 200.4L976.9 200.4L979.7 200.4L982.6 200.4L985.4 200.4L988.3 200.4L991.1 200.4L994 200.4L996.8 173.7L999.7 173.7L1002.5 173.7L1005.4 173.7L1008.2 173.7L1011.1 200.4L1013.9 200.4L1016.8 200.4L1019.6 173.7L1022.5 173.7L1025.3 200.4L1028.2 200.4L1031 200.4L1033.9 200.4L1036.7 200.4L1039.6 200.4L1042.4 200.4L1045.3 200.4L1048.1 200.4L1051 200.4L1053.8 200.4L1056.7 200.4L1059.5 173.7L1062.4 200.4L1065.2 200.4L1068.1 200.4L1070.9 173.7L1073.8 200.4L1076.6 200.4L1079.5 200.4L1082.4 173.7L1085.2 173.7L1088.1 173.7L1090.9 200.4L1093.8 173.7L1096.6 173.7L1099.5 173.7L1102.3 200.4L1105.2 173.7L1108 173.7L1110.9 173.7L1113.7 173.7L1116.6 173.7L1119.4 173.7L1122.3 173.7L1125.1 173.7L1128 173.7L1130.8 200.4L1133.7 173.7L1136.5 173.7L1139.4 200.4L1142.2 173.7L1145.1 200.4L1147.9 173.7L1150.8 173.7L1153.6 173.7L1156.5 173.7L1159.3 173.7L1162.2 173.7L1165 173.7L1167.9 173.7L1170.7 173.7L1173.6 173.7L1176.4 173.7L1179.3 173.7L1182.1 173.7L1185 173.7L1187.9 173.7L1190.7 173.7L1193.6 173.7L1196.4 200.4L1199.3 173.7L1202.1 173.7L1205 173.7L1207.8 173.7L1210.7 173.7L1213.5 173.7L1216.4 173.7L1219.2 173.7L1222.1 173.7L1224.9 173.7L1227.8 173.7L1230.6 173.7L1233.5 173.7L1236.3 173.7L1239.2 173.7L1242 173.7L1244.9 173.7L1247.7 173.7L1250.6 173.7L1253.4 173.7L1256.3 173.7L1259.1 173.7L1262 146.9L1264.8 173.7L1267.7 173.7L1270.5 173.7L1273.4 173.7L1276.2 173.7L1279.1 173.7L1281.9 173.7L1284.8 146.9L1287.6 173.7L1290.5 173.7L1293.4 173.7L1296.2 173.7L1299.1 173.7L1301.9 173.7L1304.8 173.7L1307.6 146.9L1310.5 173.7L1313.3 173.7L1316.2 173.7L1319 173.7L1321.9 146.9L1324.7 173.7L1327.6 173.7L1330.4 173.7L1333.3 173.7L1336.1 146.9L1339 146.9L1341.8 146.9L1344.7 173.7L1347.5 173.7L1350.4 146.9L1353.2 173.7L1356.1 146.9L1358.9 173.7L1361.8 173.7L1364.6 173.7L1367.5 173.7L1370.3 173.7L1373.2 146.9L1376 173.7L1378.9 146.9L1381.7 146.9L1384.6 146.9L1387.4 146.9L1390.3 173.7L1393.1 146.9L1396 146.9L1398.8 173.7L1401.7 146.9L1404.6 173.7L1407.4 173.7L1410.3 173.7L1413.1 173.7L1416 146.9L1418.8 173.7L1421.7 146.9L1424.5 146.9L1427.4 146.9L1430.2 146.9L1433.1 146.9L1435.9 173.7L1438.8 173.7L1441.6 146.9L1444.5 173.7L1447.3 146.9L1450.2 146.9L1453 173.7L1455.9 173.7L1458.7 173.7L1461.6 146.9L1464.4 173.7L1467.3 146.9L1470.1 146.9L1473 146.9L1475.8 173.7L1478.7 146.9L1481.5 120.2L1484.4 146.9L1487.2 146.9L1490.1 146.9L1492.9 146.9L1495.8 146.9L1498.6 146.9L1501.5 146.9L1504.3 146.9L1507.2 146.9L1510.1 146.9L1512.9 146.9L1515.8 146.9L1518.6 146.9L1521.5 146.9L1524.3 146.9L1527.2 146.9L1530 173.7L1532.9 173.7L1535.7 173.7L1538.6 146.9L1541.4 173.7L1544.3 173.7L1547.1 173.7L1550 146.9L1552.8 173.7L1555.7 146.9L1558.5 173.7L1561.4 146.9L1564.2 173.7L1567.1 146.9L1569.9 146.9L1572.8 146.9L1575.6 146.9L1578.5 173.7L1581.3 146.9L1584.2 173.7L1587 146.9L1589.9 173.7L1592.7 173.7L1595.6 146.9L1598.4 146.9L1601.3 146.9L1604.1 146.9L1607 146.9L1609.8 146.9L1612.7 146.9L1615.6 146.9L1618.4 146.9L1621.3 146.9L1624.1 146.9L1627 146.9L1629.8 173.7L1632.7 173.7L1635.5 173.7L1638.4 173.7L1641.2 146.9L1644.1 173.7L1646.9 173.7L1649.8 173.7L1652.6 173.7L1655.5 173.7L1658.3 173.7L1661.2 173.7L1664 173.7L1666.9 173.7L1669.7 173.7L1672.6 173.7L1675.4 173.7L1678.3 173.7L1681.1 173.7L1684 173.7L1686.8 173.7L1689.7 173.7L1692.5 200.4L1695.4 200.4L1698.2 173.7L1701.1 200.4L1703.9 200.4L1706.8 200.4L1709.6 146.9L1712.5 173.7L1715.3 146.9L1718.2 173.7L1721.1 173.7L1723.9 173.7L1726.8 146.9L1729.6 173.7L1732.5 173.7L1735.3 173.7L1738.2 173.7L1741 173.7L1743.9 173.7L1746.7 173.7L1749.6 173.7L1752.4 173.7L1755.3 173.7L1758.1 173.7L1761 200.4L1763.8 200.4L1766.7 200.4L1769.5 173.7L1772.4 173.7L1775.2 200.4L1778.1 200.4L1780.9 200.4L1783.8 173.7L1786.6 200.4L1789.5 173.7L1792.3 200.4L1795.2 200.4L1798 200.4L1800.9 200.4L1803.7 200.4L1806.6 200.4L1809.4 200.4L1812.3 200.4L1815.1 200.4L1818 227.2L1820.8 227.2L1823.7 173.7L1826.5 173.7L1829.4 173.7L1832.3 173.7L1835.1 173.7L1838 173.7L1840.8 173.7L1843.7 173.7L1846.5 173.7L1849.4 173.7L1852.2 173.7L1855.1 173.7L1857.9 173.7L1860.8 200.4L1863.6 173.7L1866.5 173.7L1869.3 173.7L1872.2 200.4L1875 173.7L1877.9 173.7L1880.7 173.7L1883.6 200.4L1886.4 173.7L1889.3 200.4L1892.1 200.4L1895 227.2L1897.8 200.4L1900.7 200.4L1903.5 227.2L1906.4 227.2L1909.2 227.2L1912.1 227.2L1914.9 227.2L1917.8 227.2L1920.6 200.4L1923.5 227.2L1926.3 227.2L1929.2 227.2L1932 227.2L1934.9 227.2" stroke="#D95319" stroke-width="2.3" fill="none" stroke-linejoin="round"/>
<path d="M215.1 268.8h23.8v23.8h-23.8zM217.9 268.8h23.8v23.8h-23.8zM220.8 295.5h23.8v23.8h-23.8zM223.6 295.5h23.8v23.8h-23.8zM226.5 295.5h23.8v23.8h-23.8zM229.3 295.5h23.8v23.8h-23.8zM232.2 268.8h23.8v23.8h-23.8zM235 295.5h23.8v23.8h-23.8zM237.9 268.8h23.8v23.8h-23.8zM240.7 295.5h23.8v23.8h-23.8zM243.6 268.8h23.8v23.8h-23.8zM246.4 268.8h23.8v23.8h-23.8zM249.3 295.5h23.8v23.8h-23.8zM252.1 268.8h23.8v23.8h-23.8zM255 295.5h23.8v23.8h-23.8zM257.8 295.5h23.8v23.8h-23.8zM260.7 295.5h23.8v23.8h-23.8zM263.5 295.5h23.8v23.8h-23.8zM266.4 295.5h23.8v23.8h-23.8zM269.2 295.5h23.8v23.8h-23.8zM272.1 295.5h23.8v23.8h-23.8zM274.9 295.5h23.8v23.8h-23.8zM277.8 295.5h23.8v23.8h-23.8zM280.6 295.5h23.8v23.8h-23.8zM283.5 295.5h23.8v23.8h-23.8zM286.3 295.5h23.8v23.8h-23.8zM289.2 295.5h23.8v23.8h-23.8zM292 295.5h23.8v23.8h-23.8zM294.9 295.5h23.8v23.8h-23.8zM297.7 295.5h23.8v23.8h-23.8zM300.6 322.3h23.8v23.8h-23.8zM303.4 295.5h23.8v23.8h-23.8zM306.3 295.5h23.8v23.8h-23.8zM309.1 295.5h23.8v23.8h-23.8zM312 322.3h23.8v23.8h-23.8zM314.8 295.5h23.8v23.8h-23.8zM317.7 322.3h23.8v23.8h-23.8zM320.6 322.3h23.8v23.8h-23.8zM323.4 322.3h23.8v23.8h-23.8zM326.3 322.3h23.8v23.8h-23.8zM329.1 349.1h23.8v23.8h-23.8zM332 349.1h23.8v23.8h-23.8zM334.8 349.1h23.8v23.8h-23.8zM337.7 349.1h23.8v23.8h-23.8zM340.5 349.1h23.8v23.8h-23.8zM343.4 349.1h23.8v23.8h-23.8zM346.2 349.1h23.8v23.8h-23.8zM349.1 349.1h23.8v23.8h-23.8zM351.9 349.1h23.8v23.8h-23.8zM354.8 349.1h23.8v23.8h-23.8zM357.6 349.1h23.8v23.8h-23.8zM360.5 349.1h23.8v23.8h-23.8zM363.3 349.1h23.8v23.8h-23.8zM366.2 349.1h23.8v23.8h-23.8zM369 349.1h23.8v23.8h-23.8zM371.9 375.8h23.8v23.8h-23.8zM374.7 349.1h23.8v23.8h-23.8zM377.6 349.1h23.8v23.8h-23.8zM380.4 349.1h23.8v23.8h-23.8zM383.3 349.1h23.8v23.8h-23.8zM386.1 375.8h23.8v23.8h-23.8zM389 375.8h23.8v23.8h-23.8zM391.8 375.8h23.8v23.8h-23.8zM394.7 375.8h23.8v23.8h-23.8zM397.5 375.8h23.8v23.8h-23.8zM400.4 375.8h23.8v23.8h-23.8zM403.2 349.1h23.8v23.8h-23.8zM406.1 349.1h23.8v23.8h-23.8zM408.9 349.1h23.8v23.8h-23.8zM411.8 349.1h23.8v23.8h-23.8zM414.6 349.1h23.8v23.8h-23.8zM417.5 349.1h23.8v23.8h-23.8zM420.3 349.1h23.8v23.8h-23.8zM423.2 349.1h23.8v23.8h-23.8zM426.1 349.1h23.8v23.8h-23.8zM428.9 349.1h23.8v23.8h-23.8zM431.8 349.1h23.8v23.8h-23.8zM434.6 349.1h23.8v23.8h-23.8zM437.5 349.1h23.8v23.8h-23.8zM440.3 349.1h23.8v23.8h-23.8zM443.2 375.8h23.8v23.8h-23.8zM446 375.8h23.8v23.8h-23.8zM448.9 375.8h23.8v23.8h-23.8zM451.7 349.1h23.8v23.8h-23.8zM454.6 375.8h23.8v23.8h-23.8zM457.4 349.1h23.8v23.8h-23.8zM460.3 349.1h23.8v23.8h-23.8zM463.1 349.1h23.8v23.8h-23.8zM466 375.8h23.8v23.8h-23.8zM468.8 375.8h23.8v23.8h-23.8zM471.7 349.1h23.8v23.8h-23.8zM474.5 349.1h23.8v23.8h-23.8zM477.4 349.1h23.8v23.8h-23.8zM480.2 349.1h23.8v23.8h-23.8zM483.1 349.1h23.8v23.8h-23.8zM485.9 349.1h23.8v23.8h-23.8zM488.8 349.1h23.8v23.8h-23.8zM491.6 349.1h23.8v23.8h-23.8zM494.5 349.1h23.8v23.8h-23.8zM497.3 349.1h23.8v23.8h-23.8zM500.2 349.1h23.8v23.8h-23.8zM503 349.1h23.8v23.8h-23.8zM505.9 349.1h23.8v23.8h-23.8zM508.7 322.3h23.8v23.8h-23.8zM511.6 349.1h23.8v23.8h-23.8zM514.4 349.1h23.8v23.8h-23.8zM517.3 322.3h23.8v23.8h-23.8zM520.1 349.1h23.8v23.8h-23.8zM523 349.1h23.8v23.8h-23.8zM525.8 322.3h23.8v23.8h-23.8zM528.7 322.3h23.8v23.8h-23.8zM531.5 322.3h23.8v23.8h-23.8zM534.4 322.3h23.8v23.8h-23.8zM537.3 322.3h23.8v23.8h-23.8zM540.1 322.3h23.8v23.8h-23.8zM543 322.3h23.8v23.8h-23.8zM545.8 322.3h23.8v23.8h-23.8zM548.7 322.3h23.8v23.8h-23.8zM551.5 322.3h23.8v23.8h-23.8zM554.4 322.3h23.8v23.8h-23.8zM557.2 295.5h23.8v23.8h-23.8zM560.1 322.3h23.8v23.8h-23.8zM562.9 322.3h23.8v23.8h-23.8zM565.8 322.3h23.8v23.8h-23.8zM568.6 322.3h23.8v23.8h-23.8zM571.5 322.3h23.8v23.8h-23.8zM574.3 322.3h23.8v23.8h-23.8zM577.2 322.3h23.8v23.8h-23.8zM580 322.3h23.8v23.8h-23.8zM582.9 322.3h23.8v23.8h-23.8zM585.7 322.3h23.8v23.8h-23.8zM588.6 322.3h23.8v23.8h-23.8zM591.4 295.5h23.8v23.8h-23.8zM594.3 295.5h23.8v23.8h-23.8zM597.1 322.3h23.8v23.8h-23.8zM600 295.5h23.8v23.8h-23.8zM602.8 295.5h23.8v23.8h-23.8zM605.7 295.5h23.8v23.8h-23.8zM608.5 295.5h23.8v23.8h-23.8zM611.4 295.5h23.8v23.8h-23.8zM614.2 295.5h23.8v23.8h-23.8zM617.1 295.5h23.8v23.8h-23.8zM619.9 295.5h23.8v23.8h-23.8zM622.8 295.5h23.8v23.8h-23.8zM625.6 295.5h23.8v23.8h-23.8zM628.5 295.5h23.8v23.8h-23.8zM631.3 268.8h23.8v23.8h-23.8zM634.2 268.8h23.8v23.8h-23.8zM637 268.8h23.8v23.8h-23.8zM639.9 295.5h23.8v23.8h-23.8zM642.8 268.8h23.8v23.8h-23.8zM645.6 295.5h23.8v23.8h-23.8zM648.5 295.5h23.8v23.8h-23.8zM651.3 295.5h23.8v23.8h-23.8zM654.2 268.8h23.8v23.8h-23.8zM657 268.8h23.8v23.8h-23.8zM659.9 268.8h23.8v23.8h-23.8zM662.7 268.8h23.8v23.8h-23.8zM665.6 268.8h23.8v23.8h-23.8zM668.4 268.8h23.8v23.8h-23.8zM671.3 268.8h23.8v23.8h-23.8zM674.1 268.8h23.8v23.8h-23.8zM677 268.8h23.8v23.8h-23.8zM679.8 268.8h23.8v23.8h-23.8zM682.7 268.8h23.8v23.8h-23.8zM685.5 295.5h23.8v23.8h-23.8zM688.4 268.8h23.8v23.8h-23.8zM691.2 268.8h23.8v23.8h-23.8zM694.1 268.8h23.8v23.8h-23.8zM696.9 268.8h23.8v23.8h-23.8zM699.8 268.8h23.8v23.8h-23.8zM702.6 268.8h23.8v23.8h-23.8zM705.5 268.8h23.8v23.8h-23.8zM708.3 268.8h23.8v23.8h-23.8zM711.2 268.8h23.8v23.8h-23.8zM714 268.8h23.8v23.8h-23.8zM716.9 242.1h23.8v23.8h-23.8zM719.7 242.1h23.8v23.8h-23.8zM722.6 268.8h23.8v23.8h-23.8zM725.4 242.1h23.8v23.8h-23.8zM728.3 242.1h23.8v23.8h-23.8zM731.1 242.1h23.8v23.8h-23.8zM734 242.1h23.8v23.8h-23.8zM736.8 242.1h23.8v23.8h-23.8zM739.7 242.1h23.8v23.8h-23.8zM742.5 242.1h23.8v23.8h-23.8zM745.4 242.1h23.8v23.8h-23.8zM748.3 242.1h23.8v23.8h-23.8zM751.1 242.1h23.8v23.8h-23.8zM754 242.1h23.8v23.8h-23.8zM756.8 242.1h23.8v23.8h-23.8zM759.7 242.1h23.8v23.8h-23.8zM762.5 242.1h23.8v23.8h-23.8zM765.4 242.1h23.8v23.8h-23.8zM768.2 242.1h23.8v23.8h-23.8zM771.1 215.3h23.8v23.8h-23.8zM773.9 242.1h23.8v23.8h-23.8zM776.8 242.1h23.8v23.8h-23.8zM779.6 242.1h23.8v23.8h-23.8zM782.5 215.3h23.8v23.8h-23.8zM785.3 215.3h23.8v23.8h-23.8zM788.2 215.3h23.8v23.8h-23.8zM791 215.3h23.8v23.8h-23.8zM793.9 242.1h23.8v23.8h-23.8zM796.7 215.3h23.8v23.8h-23.8zM799.6 215.3h23.8v23.8h-23.8zM802.4 215.3h23.8v23.8h-23.8zM805.3 215.3h23.8v23.8h-23.8zM808.1 242.1h23.8v23.8h-23.8zM811 215.3h23.8v23.8h-23.8zM813.8 215.3h23.8v23.8h-23.8zM816.7 242.1h23.8v23.8h-23.8zM819.5 215.3h23.8v23.8h-23.8zM822.4 215.3h23.8v23.8h-23.8zM825.2 215.3h23.8v23.8h-23.8zM828.1 215.3h23.8v23.8h-23.8zM830.9 215.3h23.8v23.8h-23.8zM833.8 215.3h23.8v23.8h-23.8zM836.6 215.3h23.8v23.8h-23.8zM839.5 215.3h23.8v23.8h-23.8zM842.3 215.3h23.8v23.8h-23.8zM845.2 215.3h23.8v23.8h-23.8zM848 188.5h23.8v23.8h-23.8zM850.9 215.3h23.8v23.8h-23.8zM853.8 188.5h23.8v23.8h-23.8zM856.6 215.3h23.8v23.8h-23.8zM859.5 215.3h23.8v23.8h-23.8zM862.3 188.5h23.8v23.8h-23.8zM865.2 215.3h23.8v23.8h-23.8zM868 215.3h23.8v23.8h-23.8zM870.9 215.3h23.8v23.8h-23.8zM873.7 215.3h23.8v23.8h-23.8zM876.6 188.5h23.8v23.8h-23.8zM879.4 188.5h23.8v23.8h-23.8zM882.3 188.5h23.8v23.8h-23.8zM885.1 188.5h23.8v23.8h-23.8zM888 188.5h23.8v23.8h-23.8zM890.8 188.5h23.8v23.8h-23.8zM893.7 215.3h23.8v23.8h-23.8zM896.5 188.5h23.8v23.8h-23.8zM899.4 215.3h23.8v23.8h-23.8zM902.2 188.5h23.8v23.8h-23.8zM905.1 188.5h23.8v23.8h-23.8zM907.9 188.5h23.8v23.8h-23.8zM910.8 188.5h23.8v23.8h-23.8zM913.6 188.5h23.8v23.8h-23.8zM916.5 188.5h23.8v23.8h-23.8zM919.3 188.5h23.8v23.8h-23.8zM922.2 188.5h23.8v23.8h-23.8zM925 188.5h23.8v23.8h-23.8zM927.9 188.5h23.8v23.8h-23.8zM930.7 188.5h23.8v23.8h-23.8zM933.6 188.5h23.8v23.8h-23.8zM936.4 188.5h23.8v23.8h-23.8zM939.3 188.5h23.8v23.8h-23.8zM942.1 188.5h23.8v23.8h-23.8zM945 188.5h23.8v23.8h-23.8zM947.8 188.5h23.8v23.8h-23.8zM950.7 188.5h23.8v23.8h-23.8zM953.5 188.5h23.8v23.8h-23.8zM956.4 188.5h23.8v23.8h-23.8zM959.2 188.5h23.8v23.8h-23.8zM962.1 188.5h23.8v23.8h-23.8zM965 188.5h23.8v23.8h-23.8zM967.8 188.5h23.8v23.8h-23.8zM970.7 188.5h23.8v23.8h-23.8zM973.5 188.5h23.8v23.8h-23.8zM976.4 188.5h23.8v23.8h-23.8zM979.2 188.5h23.8v23.8h-23.8zM982.1 188.5h23.8v23.8h-23.8zM984.9 161.8h23.8v23.8h-23.8zM987.8 161.8h23.8v23.8h-23.8zM990.6 161.8h23.8v23.8h-23.8zM993.5 161.8h23.8v23.8h-23.8zM996.3 161.8h23.8v23.8h-23.8zM999.2 188.5h23.8v23.8h-23.8zM1002 188.5h23.8v23.8h-23.8zM1004.9 188.5h23.8v23.8h-23.8zM1007.7 161.8h23.8v23.8h-23.8zM1010.6 161.8h23.8v23.8h-23.8zM1013.4 188.5h23.8v23.8h-23.8zM1016.3 188.5h23.8v23.8h-23.8zM1019.1 188.5h23.8v23.8h-23.8zM1022 188.5h23.8v23.8h-23.8zM1024.8 188.5h23.8v23.8h-23.8zM1027.7 188.5h23.8v23.8h-23.8zM1030.5 188.5h23.8v23.8h-23.8zM1033.4 188.5h23.8v23.8h-23.8zM1036.2 188.5h23.8v23.8h-23.8zM1039.1 188.5h23.8v23.8h-23.8zM1041.9 188.5h23.8v23.8h-23.8zM1044.8 188.5h23.8v23.8h-23.8zM1047.6 161.8h23.8v23.8h-23.8zM1050.5 188.5h23.8v23.8h-23.8zM1053.3 188.5h23.8v23.8h-23.8zM1056.2 188.5h23.8v23.8h-23.8zM1059 161.8h23.8v23.8h-23.8zM1061.9 188.5h23.8v23.8h-23.8zM1064.7 188.5h23.8v23.8h-23.8zM1067.6 188.5h23.8v23.8h-23.8zM1070.5 161.8h23.8v23.8h-23.8zM1073.3 161.8h23.8v23.8h-23.8zM1076.2 161.8h23.8v23.8h-23.8zM1079 188.5h23.8v23.8h-23.8zM1081.9 161.8h23.8v23.8h-23.8zM1084.7 161.8h23.8v23.8h-23.8zM1087.6 161.8h23.8v23.8h-23.8zM1090.4 188.5h23.8v23.8h-23.8zM1093.3 161.8h23.8v23.8h-23.8zM1096.1 161.8h23.8v23.8h-23.8zM1099 161.8h23.8v23.8h-23.8zM1101.8 161.8h23.8v23.8h-23.8zM1104.7 161.8h23.8v23.8h-23.8zM1107.5 161.8h23.8v23.8h-23.8zM1110.4 161.8h23.8v23.8h-23.8zM1113.2 161.8h23.8v23.8h-23.8zM1116.1 161.8h23.8v23.8h-23.8zM1118.9 188.5h23.8v23.8h-23.8zM1121.8 161.8h23.8v23.8h-23.8zM1124.6 161.8h23.8v23.8h-23.8zM1127.5 188.5h23.8v23.8h-23.8zM1130.3 161.8h23.8v23.8h-23.8zM1133.2 188.5h23.8v23.8h-23.8zM1136 161.8h23.8v23.8h-23.8zM1138.9 161.8h23.8v23.8h-23.8zM1141.7 161.8h23.8v23.8h-23.8zM1144.6 161.8h23.8v23.8h-23.8zM1147.4 161.8h23.8v23.8h-23.8zM1150.3 161.8h23.8v23.8h-23.8zM1153.1 161.8h23.8v23.8h-23.8zM1156 161.8h23.8v23.8h-23.8zM1158.8 161.8h23.8v23.8h-23.8zM1161.7 161.8h23.8v23.8h-23.8zM1164.5 161.8h23.8v23.8h-23.8zM1167.4 161.8h23.8v23.8h-23.8zM1170.2 161.8h23.8v23.8h-23.8zM1173.1 161.8h23.8v23.8h-23.8zM1176 161.8h23.8v23.8h-23.8zM1178.8 161.8h23.8v23.8h-23.8zM1181.7 161.8h23.8v23.8h-23.8zM1184.5 188.5h23.8v23.8h-23.8zM1187.4 161.8h23.8v23.8h-23.8zM1190.2 161.8h23.8v23.8h-23.8zM1193.1 161.8h23.8v23.8h-23.8zM1195.9 161.8h23.8v23.8h-23.8zM1198.8 161.8h23.8v23.8h-23.8zM1201.6 161.8h23.8v23.8h-23.8zM1204.5 161.8h23.8v23.8h-23.8zM1207.3 161.8h23.8v23.8h-23.8zM1210.2 161.8h23.8v23.8h-23.8zM1213 161.8h23.8v23.8h-23.8zM1215.9 161.8h23.8v23.8h-23.8zM1218.7 161.8h23.8v23.8h-23.8zM1221.6 161.8h23.8v23.8h-23.8zM1224.4 161.8h23.8v23.8h-23.8zM1227.3 161.8h23.8v23.8h-23.8zM1230.1 161.8h23.8v23.8h-23.8zM1233 161.8h23.8v23.8h-23.8zM1235.8 161.8h23.8v23.8h-23.8zM1238.7 161.8h23.8v23.8h-23.8zM1241.5 161.8h23.8v23.8h-23.8zM1244.4 161.8h23.8v23.8h-23.8zM1247.2 161.8h23.8v23.8h-23.8zM1250.1 135h23.8v23.8h-23.8zM1252.9 161.8h23.8v23.8h-23.8zM1255.8 161.8h23.8v23.8h-23.8zM1258.6 161.8h23.8v23.8h-23.8zM1261.5 161.8h23.8v23.8h-23.8zM1264.3 161.8h23.8v23.8h-23.8zM1267.2 161.8h23.8v23.8h-23.8zM1270 161.8h23.8v23.8h-23.8zM1272.9 135h23.8v23.8h-23.8zM1275.7 161.8h23.8v23.8h-23.8zM1278.6 161.8h23.8v23.8h-23.8zM1281.5 161.8h23.8v23.8h-23.8zM1284.3 161.8h23.8v23.8h-23.8zM1287.2 161.8h23.8v23.8h-23.8zM1290 161.8h23.8v23.8h-23.8zM1292.9 161.8h23.8v23.8h-23.8zM1295.7 135h23.8v23.8h-23.8zM1298.6 161.8h23.8v23.8h-23.8zM1301.4 161.8h23.8v23.8h-23.8zM1304.3 161.8h23.8v23.8h-23.8zM1307.1 161.8h23.8v23.8h-23.8zM1310 135h23.8v23.8h-23.8zM1312.8 161.8h23.8v23.8h-23.8zM1315.7 161.8h23.8v23.8h-23.8zM1318.5 161.8h23.8v23.8h-23.8zM1321.4 161.8h23.8v23.8h-23.8zM1324.2 135h23.8v23.8h-23.8zM1327.1 135h23.8v23.8h-23.8zM1329.9 135h23.8v23.8h-23.8zM1332.8 161.8h23.8v23.8h-23.8zM1335.6 161.8h23.8v23.8h-23.8zM1338.5 135h23.8v23.8h-23.8zM1341.3 161.8h23.8v23.8h-23.8zM1344.2 135h23.8v23.8h-23.8zM1347 161.8h23.8v23.8h-23.8zM1349.9 161.8h23.8v23.8h-23.8zM1352.7 161.8h23.8v23.8h-23.8zM1355.6 161.8h23.8v23.8h-23.8zM1358.4 161.8h23.8v23.8h-23.8zM1361.3 135h23.8v23.8h-23.8zM1364.1 161.8h23.8v23.8h-23.8zM1367 135h23.8v23.8h-23.8zM1369.8 135h23.8v23.8h-23.8zM1372.7 135h23.8v23.8h-23.8zM1375.5 135h23.8v23.8h-23.8zM1378.4 161.8h23.8v23.8h-23.8zM1381.2 135h23.8v23.8h-23.8zM1384.1 135h23.8v23.8h-23.8zM1386.9 161.8h23.8v23.8h-23.8zM1389.8 135h23.8v23.8h-23.8zM1392.7 161.8h23.8v23.8h-23.8zM1395.5 161.8h23.8v23.8h-23.8zM1398.4 161.8h23.8v23.8h-23.8zM1401.2 161.8h23.8v23.8h-23.8zM1404.1 135h23.8v23.8h-23.8zM1406.9 161.8h23.8v23.8h-23.8zM1409.8 135h23.8v23.8h-23.8zM1412.6 135h23.8v23.8h-23.8zM1415.5 135h23.8v23.8h-23.8zM1418.3 135h23.8v23.8h-23.8zM1421.2 135h23.8v23.8h-23.8zM1424 161.8h23.8v23.8h-23.8zM1426.9 161.8h23.8v23.8h-23.8zM1429.7 135h23.8v23.8h-23.8zM1432.6 161.8h23.8v23.8h-23.8zM1435.4 135h23.8v23.8h-23.8zM1438.3 135h23.8v23.8h-23.8zM1441.1 161.8h23.8v23.8h-23.8zM1444 161.8h23.8v23.8h-23.8zM1446.8 161.8h23.8v23.8h-23.8zM1449.7 135h23.8v23.8h-23.8zM1452.5 161.8h23.8v23.8h-23.8zM1455.4 135h23.8v23.8h-23.8zM1458.2 135h23.8v23.8h-23.8zM1461.1 135h23.8v23.8h-23.8zM1463.9 161.8h23.8v23.8h-23.8zM1466.8 135h23.8v23.8h-23.8zM1469.6 108.3h23.8v23.8h-23.8zM1472.5 135h23.8v23.8h-23.8zM1475.3 135h23.8v23.8h-23.8zM1478.2 135h23.8v23.8h-23.8zM1481 135h23.8v23.8h-23.8zM1483.9 135h23.8v23.8h-23.8zM1486.7 135h23.8v23.8h-23.8zM1489.6 135h23.8v23.8h-23.8zM1492.4 135h23.8v23.8h-23.8zM1495.3 135h23.8v23.8h-23.8zM1498.2 135h23.8v23.8h-23.8zM1501 135h23.8v23.8h-23.8zM1503.9 135h23.8v23.8h-23.8zM1506.7 135h23.8v23.8h-23.8zM1509.6 135h23.8v23.8h-23.8zM1512.4 135h23.8v23.8h-23.8zM1515.3 135h23.8v23.8h-23.8zM1518.1 161.8h23.8v23.8h-23.8zM1521 161.8h23.8v23.8h-23.8zM1523.8 161.8h23.8v23.8h-23.8zM1526.7 135h23.8v23.8h-23.8zM1529.5 161.8h23.8v23.8h-23.8zM1532.4 161.8h23.8v23.8h-23.8zM1535.2 161.8h23.8v23.8h-23.8zM1538.1 135h23.8v23.8h-23.8zM1540.9 161.8h23.8v23.8h-23.8zM1543.8 135h23.8v23.8h-23.8zM1546.6 161.8h23.8v23.8h-23.8zM1549.5 135h23.8v23.8h-23.8zM1552.3 161.8h23.8v23.8h-23.8zM1555.2 135h23.8v23.8h-23.8zM1558 135h23.8v23.8h-23.8zM1560.9 135h23.8v23.8h-23.8zM1563.7 135h23.8v23.8h-23.8zM1566.6 161.8h23.8v23.8h-23.8zM1569.4 135h23.8v23.8h-23.8zM1572.3 161.8h23.8v23.8h-23.8zM1575.1 135h23.8v23.8h-23.8zM1578 161.8h23.8v23.8h-23.8zM1580.8 161.8h23.8v23.8h-23.8zM1583.7 135h23.8v23.8h-23.8zM1586.5 135h23.8v23.8h-23.8zM1589.4 135h23.8v23.8h-23.8zM1592.2 135h23.8v23.8h-23.8zM1595.1 135h23.8v23.8h-23.8zM1597.9 135h23.8v23.8h-23.8zM1600.8 135h23.8v23.8h-23.8zM1603.7 135h23.8v23.8h-23.8zM1606.5 135h23.8v23.8h-23.8zM1609.4 135h23.8v23.8h-23.8zM1612.2 135h23.8v23.8h-23.8zM1615.1 135h23.8v23.8h-23.8zM1617.9 161.8h23.8v23.8h-23.8zM1620.8 161.8h23.8v23.8h-23.8zM1623.6 161.8h23.8v23.8h-23.8zM1626.5 161.8h23.8v23.8h-23.8zM1629.3 135h23.8v23.8h-23.8zM1632.2 161.8h23.8v23.8h-23.8zM1635 161.8h23.8v23.8h-23.8zM1637.9 161.8h23.8v23.8h-23.8zM1640.7 161.8h23.8v23.8h-23.8zM1643.6 161.8h23.8v23.8h-23.8zM1646.4 161.8h23.8v23.8h-23.8zM1649.3 161.8h23.8v23.8h-23.8zM1652.1 161.8h23.8v23.8h-23.8zM1655 161.8h23.8v23.8h-23.8zM1657.8 161.8h23.8v23.8h-23.8zM1660.7 161.8h23.8v23.8h-23.8zM1663.5 161.8h23.8v23.8h-23.8zM1666.4 161.8h23.8v23.8h-23.8zM1669.2 161.8h23.8v23.8h-23.8zM1672.1 161.8h23.8v23.8h-23.8zM1674.9 161.8h23.8v23.8h-23.8zM1677.8 161.8h23.8v23.8h-23.8zM1680.6 188.5h23.8v23.8h-23.8zM1683.5 188.5h23.8v23.8h-23.8zM1686.3 161.8h23.8v23.8h-23.8zM1689.2 188.5h23.8v23.8h-23.8zM1692 188.5h23.8v23.8h-23.8zM1694.9 188.5h23.8v23.8h-23.8zM1697.7 135h23.8v23.8h-23.8zM1700.6 161.8h23.8v23.8h-23.8zM1703.4 135h23.8v23.8h-23.8zM1706.3 161.8h23.8v23.8h-23.8zM1709.2 161.8h23.8v23.8h-23.8zM1712 161.8h23.8v23.8h-23.8zM1714.9 135h23.8v23.8h-23.8zM1717.7 161.8h23.8v23.8h-23.8zM1720.6 161.8h23.8v23.8h-23.8zM1723.4 161.8h23.8v23.8h-23.8zM1726.3 161.8h23.8v23.8h-23.8zM1729.1 161.8h23.8v23.8h-23.8zM1732 161.8h23.8v23.8h-23.8zM1734.8 161.8h23.8v23.8h-23.8zM1737.7 161.8h23.8v23.8h-23.8zM1740.5 161.8h23.8v23.8h-23.8zM1743.4 161.8h23.8v23.8h-23.8zM1746.2 161.8h23.8v23.8h-23.8zM1749.1 188.5h23.8v23.8h-23.8zM1751.9 188.5h23.8v23.8h-23.8zM1754.8 188.5h23.8v23.8h-23.8zM1757.6 161.8h23.8v23.8h-23.8zM1760.5 161.8h23.8v23.8h-23.8zM1763.3 188.5h23.8v23.8h-23.8zM1766.2 188.5h23.8v23.8h-23.8zM1769 188.5h23.8v23.8h-23.8zM1771.9 161.8h23.8v23.8h-23.8zM1774.7 188.5h23.8v23.8h-23.8zM1777.6 161.8h23.8v23.8h-23.8zM1780.4 188.5h23.8v23.8h-23.8zM1783.3 188.5h23.8v23.8h-23.8zM1786.1 188.5h23.8v23.8h-23.8zM1789 188.5h23.8v23.8h-23.8zM1791.8 188.5h23.8v23.8h-23.8zM1794.7 188.5h23.8v23.8h-23.8zM1797.5 188.5h23.8v23.8h-23.8zM1800.4 188.5h23.8v23.8h-23.8zM1803.2 188.5h23.8v23.8h-23.8zM1806.1 215.3h23.8v23.8h-23.8zM1808.9 215.3h23.8v23.8h-23.8zM1811.8 161.8h23.8v23.8h-23.8zM1814.6 161.8h23.8v23.8h-23.8zM1817.5 161.8h23.8v23.8h-23.8zM1820.4 161.8h23.8v23.8h-23.8zM1823.2 161.8h23.8v23.8h-23.8zM1826.1 161.8h23.8v23.8h-23.8zM1828.9 161.8h23.8v23.8h-23.8zM1831.8 161.8h23.8v23.8h-23.8zM1834.6 161.8h23.8v23.8h-23.8zM1837.5 161.8h23.8v23.8h-23.8zM1840.3 161.8h23.8v23.8h-23.8zM1843.2 161.8h23.8v23.8h-23.8zM1846 161.8h23.8v23.8h-23.8zM1848.9 188.5h23.8v23.8h-23.8zM1851.7 161.8h23.8v23.8h-23.8zM1854.6 161.8h23.8v23.8h-23.8zM1857.4 161.8h23.8v23.8h-23.8zM1860.3 188.5h23.8v23.8h-23.8zM1863.1 161.8h23.8v23.8h-23.8zM1866 161.8h23.8v23.8h-23.8zM1868.8 161.8h23.8v23.8h-23.8zM1871.7 188.5h23.8v23.8h-23.8zM1874.5 161.8h23.8v23.8h-23.8zM1877.4 188.5h23.8v23.8h-23.8zM1880.2 188.5h23.8v23.8h-23.8zM1883.1 215.3h23.8v23.8h-23.8zM1885.9 188.5h23.8v23.8h-23.8zM1888.8 188.5h23.8v23.8h-23.8zM1891.6 215.3h23.8v23.8h-23.8zM1894.5 215.3h23.8v23.8h-23.8zM1897.3 215.3h23.8v23.8h-23.8zM1900.2 215.3h23.8v23.8h-23.8zM1903 215.3h23.8v23.8h-23.8zM1905.9 215.3h23.8v23.8h-23.8zM1908.7 188.5h23.8v23.8h-23.8zM1911.6 215.3h23.8v23.8h-23.8zM1914.4 215.3h23.8v23.8h-23.8zM1917.3 215.3h23.8v23.8h-23.8zM1920.1 215.3h23.8v23.8h-23.8zM1923 215.3h23.8v23.8h-23.8z" stroke="#D95319" stroke-width="3.6" fill="none" stroke-linejoin="round"/>
<path d="M227 1254.4L229.8 1241L232.7 1227.7L235.5 1241L238.4 1227.7L241.2 1214.3L244.1 1214.3L246.9 1214.3L249.8 1214.3L252.6 1214.3L255.5 1214.3L258.3 1214.3L261.2 1214.3L264 1200.9L266.9 1214.3L269.7 1214.3L272.6 1174.2L275.4 1214.3L278.3 1214.3L281.1 1214.3L284 1214.3L286.8 1214.3L289.7 1214.3L292.5 1200.9L295.4 1200.9L298.2 1214.3L301.1 1187.5L303.9 1200.9L306.8 1200.9L309.6 1214.3L312.5 1187.5L315.3 1200.9L318.2 1200.9L321 1187.5L323.9 1160.8L326.7 1174.2L329.6 1174.2L332.5 1187.5L335.3 1187.5L338.2 1200.9L341 1200.9L343.9 1200.9L346.7 1187.5L349.6 1200.9L352.4 1187.5L355.3 1187.5L358.1 1174.2L361 1174.2L363.8 1187.5L366.7 1187.5L369.5 1174.2L372.4 1187.5L375.2 1187.5L378.1 1200.9L380.9 1174.2L383.8 1174.2L386.6 1187.5L389.5 1174.2L392.3 1187.5L395.2 1174.2L398 1187.5L400.9 1187.5L403.7 1187.5L406.6 1160.8L409.4 1174.2L412.3 1160.8L415.1 1174.2L418 1174.2L420.8 1174.2L423.7 1160.8L426.5 1174.2L429.4 1160.8L432.2 1160.8L435.1 1160.8L438 1160.8L440.8 1160.8L443.7 1160.8L446.5 1187.5L449.4 1187.5L452.2 1187.5L455.1 1187.5L457.9 1187.5L460.8 1187.5L463.6 1187.5L466.5 1214.3L469.3 1200.9L472.2 1187.5L475 1187.5L477.9 1200.9L480.7 1187.5L483.6 1187.5L486.4 1174.2L489.3 1187.5L492.1 1174.2L495 1160.8L497.8 1187.5L500.7 1187.5L503.5 1174.2L506.4 1160.8L509.2 1174.2L512.1 1174.2L514.9 1160.8L517.8 1174.2L520.6 1174.2L523.5 1174.2L526.3 1160.8L529.2 1174.2L532 1160.8L534.9 1160.8L537.7 1160.8L540.6 1174.2L543.4 1174.2L546.3 1160.8L549.2 1174.2L552 1160.8L554.9 1187.5L557.7 1174.2L560.6 1160.8L563.4 1174.2L566.3 1174.2L569.1 1214.3L572 1200.9L574.8 1200.9L577.7 1187.5L580.5 1200.9L583.4 1174.2L586.2 1174.2L589.1 1174.2L591.9 1174.2L594.8 1187.5L597.6 1174.2L600.5 1174.2L603.3 1174.2L606.2 1174.2L609 1187.5L611.9 1187.5L614.7 1174.2L617.6 1160.8L620.4 1160.8L623.3 1160.8L626.1 1174.2L629 1160.8L631.8 1160.8L634.7 1174.2L637.5 1147.4L640.4 1147.4L643.2 1174.2L646.1 1160.8L648.9 1174.2L651.8 1160.8L654.7 1174.2L657.5 1160.8L660.4 1160.8L663.2 1174.2L666.1 1147.4L668.9 1187.5L671.8 1160.8L674.6 1160.8L677.5 1187.5L680.3 1214.3L683.2 1200.9L686 1200.9L688.9 1187.5L691.7 1174.2L694.6 1174.2L697.4 1174.2L700.3 1187.5L703.1 1174.2L706 1187.5L708.8 1187.5L711.7 1160.8L714.5 1160.8L717.4 1160.8L720.2 1174.2L723.1 1160.8L725.9 1160.8L728.8 1147.4L731.6 1147.4L734.5 1174.2L737.3 1147.4L740.2 1147.4L743 1134L745.9 1147.4L748.7 1147.4L751.6 1160.8L754.4 1147.4L757.3 1147.4L760.2 1147.4L763 1147.4L765.9 1160.8L768.7 1134L771.6 1147.4L774.4 1134L777.3 1134L780.1 1120.7L783 1134L785.8 1134L788.7 1147.4L791.5 1147.4L794.4 1200.9L797.2 1200.9L800.1 1187.5L802.9 1187.5L805.8 1174.2L808.6 1174.2L811.5 1174.2L814.3 1174.2L817.2 1160.8L820 1160.8L822.9 1147.4L825.7 1160.8L828.6 1147.4L831.4 1134L834.3 1160.8L837.1 1160.8L840 1160.8L842.8 1160.8L845.7 1147.4L848.5 1147.4L851.4 1147.4L854.2 1120.7L857.1 1134L859.9 1120.7L862.8 1134L865.7 1120.7L868.5 1107.3L871.4 1134L874.2 1147.4L877.1 1120.7L879.9 1134L882.8 1120.7L885.6 1120.7L888.5 1120.7L891.3 1134L894.2 1134L897 1107.3L899.9 1120.7L902.7 1134L905.6 1134L908.4 1200.9L911.3 1187.5L914.1 1174.2L917 1174.2L919.8 1160.8L922.7 1174.2L925.5 1174.2L928.4 1147.4L931.2 1134L934.1 1147.4L936.9 1147.4L939.8 1120.7L942.6 1134L945.5 1134L948.3 1120.7L951.2 1120.7L954 1120.7L956.9 1120.7L959.7 1120.7L962.6 1134L965.4 1134L968.3 1134L971.1 1147.4L974 1134L976.9 1134L979.7 1120.7L982.6 1120.7L985.4 1107.3L988.3 1107.3L991.1 1107.3L994 1120.7L996.8 1107.3L999.7 1134L1002.5 1120.7L1005.4 1107.3L1008.2 1107.3L1011.1 1107.3L1013.9 1107.3L1016.8 1093.9L1019.6 1093.9L1022.5 1107.3L1025.3 1200.9L1028.2 1147.4L1031 1147.4L1033.9 1134L1036.7 1107.3L1039.6 1107.3L1042.4 1120.7L1045.3 1120.7L1048.1 1093.9L1051 1107.3L1053.8 1107.3L1056.7 1120.7L1059.5 1134L1062.4 1107.3L1065.2 1134L1068.1 1107.3L1070.9 1107.3L1073.8 1107.3L1076.6 1107.3L1079.5 1107.3L1082.4 1107.3L1085.2 1107.3L1088.1 1107.3L1090.9 1093.9L1093.8 1107.3L1096.6 1107.3L1099.5 1093.9L1102.3 1107.3L1105.2 1107.3L1108 1093.9L1110.9 1107.3L1113.7 1107.3L1116.6 1080.5L1119.4 1107.3L1122.3 1067.2L1125.1 1067.2L1128 1067.2L1130.8 1067.2L1133.7 1080.5L1136.5 1174.2L1139.4 1174.2L1142.2 1160.8L1145.1 1147.4L1147.9 1134L1150.8 1134L1153.6 1134L1156.5 1120.7L1159.3 1107.3L1162.2 1093.9L1165 1093.9L1167.9 1107.3L1170.7 1093.9L1173.6 1107.3L1176.4 1093.9L1179.3 1093.9L1182.1 1107.3L1185 1093.9L1187.9 1093.9L1190.7 1093.9L1193.6 1093.9L1196.4 1080.5L1199.3 1080.5L1202.1 1080.5L1205 1080.5L1207.8 1080.5L1210.7 1067.2L1213.5 1080.5L1216.4 1080.5L1219.2 1067.2L1222.1 1067.2L1224.9 1067.2L1227.8 1067.2L1230.6 1067.2L1233.5 1080.5L1236.3 1067.2L1239.2 1067.2L1242 1067.2L1244.9 1067.2L1247.7 1053.8L1250.6 1174.2L1253.4 1174.2L1256.3 1160.8L1259.1 1134L1262 1134L1264.8 1120.7L1267.7 1107.3L1270.5 1120.7L1273.4 1107.3L1276.2 1093.9L1279.1 1093.9L1281.9 1093.9L1284.8 1093.9L1287.6 1107.3L1290.5 1093.9L1293.4 1080.5L1296.2 1093.9L1299.1 1080.5L1301.9 1080.5L1304.8 1053.8L1307.6 1080.5L1310.5 1067.2L1313.3 1067.2L1316.2 1053.8L1319 1067.2L1321.9 1053.8L1324.7 1053.8L1327.6 1053.8L1330.4 1053.8L1333.3 1053.8L1336.1 1053.8L1339 1053.8L1341.8 1040.4L1344.7 1027L1347.5 1040.4L1350.4 1040.4L1353.2 1053.8L1356.1 1040.4L1358.9 1040.4L1361.8 1053.8L1364.6 1027L1367.5 1160.8L1370.3 1120.7L1373.2 1107.3L1376 1107.3L1378.9 1080.5L1381.7 1093.9L1384.6 1053.8L1387.4 1080.5L1390.3 1080.5L1393.1 1080.5L1396 1067.2L1398.8 1067.2L1401.7 1053.8L1404.6 1067.2L1407.4 1053.8L1410.3 1040.4L1413.1 1053.8L1416 1053.8L1418.8 1040.4L1421.7 1040.4L1424.5 1013.7L1427.4 1040.4L1430.2 1027L1433.1 1013.7L1435.9 1040.4L1438.8 1027L1441.6 1027L1444.5 1013.7L1447.3 1000.3L1450.2 1000.3L1453 1013.7L1455.9 1013.7L1458.7 1013.7L1461.6 1013.7L1464.4 1013.7L1467.3 1013.7L1470.1 1013.7L1473 1013.7L1475.8 1000.3L1478.7 1000.3L1481.5 1160.8L1484.4 1107.3L1487.2 1093.9L1490.1 1067.2L1492.9 1080.5L1495.8 1080.5L1498.6 1067.2L1501.5 1067.2L1504.3 1053.8L1507.2 1053.8L1510.1 1040.4L1512.9 1067.2L1515.8 1053.8L1518.6 1053.8L1521.5 1053.8L1524.3 1053.8L1527.2 1053.8L1530 1053.8L1532.9 1053.8L1535.7 1040.4L1538.6 1040.4L1541.4 1053.8L1544.3 1040.4L1547.1 1040.4L1550 1053.8L1552.8 1040.4L1555.7 1053.8L1558.5 1053.8L1561.4 1053.8L1564.2 1040.4L1567.1 1040.4L1569.9 1053.8L1572.8 1040.4L1575.6 1053.8L1578.5 1053.8L1581.3 1027L1584.2 1053.8L1587 1053.8L1589.9 1107.3L1592.7 1120.7L1595.6 1160.8L1598.4 1147.4L1601.3 1134L1604.1 1120.7L1607 1120.7L1609.8 1120.7L1612.7 1107.3L1615.6 1107.3L1618.4 1080.5L1621.3 1080.5L1624.1 1080.5L1627 1067.2L1629.8 1067.2L1632.7 1067.2L1635.5 1067.2L1638.4 1067.2L1641.2 1067.2L1644.1 1067.2L1646.9 1040.4L1649.8 1053.8L1652.6 1067.2L1655.5 1053.8L1658.3 1080.5L1661.2 1067.2L1664 1067.2L1666.9 1067.2L1669.7 1067.2L1672.6 1053.8L1675.4 1067.2L1678.3 1040.4L1681.1 1053.8L1684 1053.8L1686.8 1053.8L1689.7 1040.4L1692.5 1053.8L1695.4 1080.5L1698.2 1053.8L1701.1 1067.2L1703.9 1107.3L1706.8 1160.8L1709.6 1147.4L1712.5 1134L1715.3 1134L1718.2 1107.3L1721.1 1120.7L1723.9 1107.3L1726.8 1093.9L1729.6 1107.3L1732.5 1093.9L1735.3 1093.9L1738.2 1093.9L1741 1080.5L1743.9 1080.5L1746.7 1067.2L1749.6 1080.5L1752.4 1080.5L1755.3 1080.5L1758.1 1080.5L1761 1080.5L1763.8 1093.9L1766.7 1067.2L1769.5 1080.5L1772.4 1067.2L1775.2 1067.2L1778.1 1080.5L1780.9 1067.2L1783.8 1080.5L1786.6 1093.9L1789.5 1093.9L1792.3 1067.2L1795.2 1067.2L1798 1053.8L1800.9 1067.2L1803.7 1067.2L1806.6 1080.5L1809.4 1080.5L1812.3 1053.8L1815.1 1067.2L1818 1107.3L1820.8 1147.4L1823.7 1134L1826.5 1134L1829.4 1107.3L1832.3 1120.7L1835.1 1107.3L1838 1093.9L1840.8 1093.9L1843.7 1080.5L1846.5 1093.9L1849.4 1093.9L1852.2 1080.5L1855.1 1053.8L1857.9 1080.5L1860.8 1093.9L1863.6 1080.5L1866.5 1053.8L1869.3 1067.2L1872.2 1067.2L1875 1067.2L1877.9 1053.8L1880.7 1080.5L1883.6 1067.2L1886.4 1080.5L1889.3 1067.2L1892.1 1067.2L1895 1067.2L1897.8 1067.2L1900.7 1080.5L1903.5 1080.5L1906.4 1067.2L1909.2 1080.5L1912.1 1067.2L1914.9 1067.2L1917.8 1053.8L1920.6 1067.2L1923.5 1080.5L1926.3 1067.2L1929.2 1067.2L1932 1053.8L1934.9 1067.2" stroke="#EDB120" stroke-width="2.3" fill="none" stroke-linejoin="round"/>
<path d="M227 1233.4l15.4 21l-15.4 21l-15.4 -21zM229.8 1220l15.4 21l-15.4 21l-15.4 -21zM232.7 1206.7l15.4 21l-15.4 21l-15.4 -21zM235.5 1220l15.4 21l-15.4 21l-15.4 -21zM238.4 1206.7l15.4 21l-15.4 21l-15.4 -21zM241.2 1193.3l15.4 21l-15.4 21l-15.4 -21zM244.1 1193.3l15.4 21l-15.4 21l-15.4 -21zM246.9 1193.3l15.4 21l-15.4 21l-15.4 -21zM249.8 1193.3l15.4 21l-15.4 21l-15.4 -21zM252.6 1193.3l15.4 21l-15.4 21l-15.4 -21zM255.5 1193.3l15.4 21l-15.4 21l-15.4 -21zM258.3 1193.3l15.4 21l-15.4 21l-15.4 -21zM261.2 1193.3l15.4 21l-15.4 21l-15.4 -21zM264 1179.9l15.4 21l-15.4 21l-15.4 -21zM266.9 1193.3l15.4 21l-15.4 21l-15.4 -21zM269.7 1193.3l15.4 21l-15.4 21l-15.4 -21zM272.6 1153.2l15.4 21l-15.4 21l-15.4 -21zM275.4 1193.3l15.4 21l-15.4 21l-15.4 -21zM278.3 1193.3l15.4 21l-15.4 21l-15.4 -21zM281.1 1193.3l15.4 21l-15.4 21l-15.4 -21zM284 1193.3l15.4 21l-15.4 21l-15.4 -21zM286.8 1193.3l15.4 21l-15.4 21l-15.4 -21zM289.7 1193.3l15.4 21l-15.4 21l-15.4 -21zM292.5 1179.9l15.4 21l-15.4 21l-15.4 -21zM295.4 1179.9l15.4 21l-15.4 21l-15.4 -21zM298.2 1193.3l15.4 21l-15.4 21l-15.4 -21zM301.1 1166.5l15.4 21l-15.4 21l-15.4 -21zM303.9 1179.9l15.4 21l-15.4 21l-15.4 -21zM306.8 1179.9l15.4 21l-15.4 21l-15.4 -21zM309.6 1193.3l15.4 21l-15.4 21l-15.4 -21zM312.5 1166.5l15.4 21l-15.4 21l-15.4 -21zM315.3 1179.9l15.4 21l-15.4 21l-15.4 -21zM318.2 1179.9l15.4 21l-15.4 21l-15.4 -21zM321 1166.5l15.4 21l-15.4 21l-15.4 -21zM323.9 1139.8l15.4 21l-15.4 21l-15.4 -21zM326.7 1153.2l15.4 21l-15.4 21l-15.4 -21zM329.6 1153.2l15.4 21l-15.4 21l-15.4 -21zM332.5 1166.5l15.4 21l-15.4 21l-15.4 -21zM335.3 1166.5l15.4 21l-15.4 21l-15.4 -21zM338.2 1179.9l15.4 21l-15.4 21l-15.4 -21zM341 1179.9l15.4 21l-15.4 21l-15.4 -21zM343.9 1179.9l15.4 21l-15.4 21l-15.4 -21zM346.7 1166.5l15.4 21l-15.4 21l-15.4 -21zM349.6 1179.9l15.4 21l-15.4 21l-15.4 -21zM352.4 1166.5l15.4 21l-15.4 21l-15.4 -21zM355.3 1166.5l15.4 21l-15.4 21l-15.4 -21zM358.1 1153.2l15.4 21l-15.4 21l-15.4 -21zM361 1153.2l15.4 21l-15.4 21l-15.4 -21zM363.8 1166.5l15.4 21l-15.4 21l-15.4 -21zM366.7 1166.5l15.4 21l-15.4 21l-15.4 -21zM369.5 1153.2l15.4 21l-15.4 21l-15.4 -21zM372.4 1166.5l15.4 21l-15.4 21l-15.4 -21zM375.2 1166.5l15.4 21l-15.4 21l-15.4 -21zM378.1 1179.9l15.4 21l-15.4 21l-15.4 -21zM380.9 1153.2l15.4 21l-15.4 21l-15.4 -21zM383.8 1153.2l15.4 21l-15.4 21l-15.4 -21zM386.6 1166.5l15.4 21l-15.4 21l-15.4 -21zM389.5 1153.2l15.4 21l-15.4 21l-15.4 -21zM392.3 1166.5l15.4 21l-15.4 21l-15.4 -21zM395.2 1153.2l15.4 21l-15.4 21l-15.4 -21zM398 1166.5l15.4 21l-15.4 21l-15.4 -21zM400.9 1166.5l15.4 21l-15.4 21l-15.4 -21zM403.7 1166.5l15.4 21l-15.4 21l-15.4 -21zM406.6 1139.8l15.4 21l-15.4 21l-15.4 -21zM409.4 1153.2l15.4 21l-15.4 21l-15.4 -21zM412.3 1139.8l15.4 21l-15.4 21l-15.4 -21zM415.1 1153.2l15.4 21l-15.4 21l-15.4 -21zM418 1153.2l15.4 21l-15.4 21l-15.4 -21zM420.8 1153.2l15.4 21l-15.4 21l-15.4 -21zM423.7 1139.8l15.4 21l-15.4 21l-15.4 -21zM426.5 1153.2l15.4 21l-15.4 21l-15.4 -21zM429.4 1139.8l15.4 21l-15.4 21l-15.4 -21zM432.2 1139.8l15.4 21l-15.4 21l-15.4 -21zM435.1 1139.8l15.4 21l-15.4 21l-15.4 -21zM438 1139.8l15.4 21l-15.4 21l-15.4 -21zM440.8 1139.8l15.4 21l-15.4 21l-15.4 -21zM443.7 1139.8l15.4 21l-15.4 21l-15.4 -21zM446.5 1166.5l15.4 21l-15.4 21l-15.4 -21zM449.4 1166.5l15.4 21l-15.4 21l-15.4 -21zM452.2 1166.5l15.4 21l-15.4 21l-15.4 -21zM455.1 1166.5l15.4 21l-15.4 21l-15.4 -21zM457.9 1166.5l15.4 21l-15.4 21l-15.4 -21zM460.8 1166.5l15.4 21l-15.4 21l-15.4 -21zM463.6 1166.5l15.4 21l-15.4 21l-15.4 -21zM466.5 1193.3l15.4 21l-15.4 21l-15.4 -21zM469.3 1179.9l15.4 21l-15.4 21l-15.4 -21zM472.2 1166.5l15.4 21l-15.4 21l-15.4 -21zM475 1166.5l15.4 21l-15.4 21l-15.4 -21zM477.9 1179.9l15.4 21l-15.4 21l-15.4 -21zM480.7 1166.5l15.4 21l-15.4 21l-15.4 -21zM483.6 1166.5l15.4 21l-15.4 21l-15.4 -21zM486.4 1153.2l15.4 21l-15.4 21l-15.4 -21zM489.3 1166.5l15.4 21l-15.4 21l-15.4 -21zM492.1 1153.2l15.4 21l-15.4 21l-15.4 -21zM495 1139.8l15.4 21l-15.4 21l-15.4 -21zM497.8 1166.5l15.4 21l-15.4 21l-15.4 -21zM500.7 1166.5l15.4 21l-15.4 21l-15.4 -21zM503.5 1153.2l15.4 21l-15.4 21l-15.4 -21zM506.4 1139.8l15.4 21l-15.4 21l-15.4 -21zM509.2 1153.2l15.4 21l-15.4 21l-15.4 -21zM512.1 1153.2l15.4 21l-15.4 21l-15.4 -21zM514.9 1139.8l15.4 21l-15.4 21l-15.4 -21zM517.8 1153.2l15.4 21l-15.4 21l-15.4 -21zM520.6 1153.2l15.4 21l-15.4 21l-15.4 -21zM523.5 1153.2l15.4 21l-15.4 21l-15.4 -21zM526.3 1139.8l15.4 21l-15.4 21l-15.4 -21zM529.2 1153.2l15.4 21l-15.4 21l-15.4 -21zM532 1139.8l15.4 21l-15.4 21l-15.4 -21zM534.9 1139.8l15.4 21l-15.4 21l-15.4 -21zM537.7 1139.8l15.4 21l-15.4 21l-15.4 -21zM540.6 1153.2l15.4 21l-15.4 21l-15.4 -21zM543.4 1153.2l15.4 21l-15.4 21l-15.4 -21zM546.3 1139.8l15.4 21l-15.4 21l-15.4 -21zM549.2 1153.2l15.4 21l-15.4 21l-15.4 -21zM552 1139.8l15.4 21l-15.4 21l-15.4 -21zM554.9 1166.5l15.4 21l-15.4 21l-15.4 -21zM557.7 1153.2l15.4 21l-15.4 21l-15.4 -21zM560.6 1139.8l15.4 21l-15.4 21l-15.4 -21zM563.4 1153.2l15.4 21l-15.4 21l-15.4 -21zM566.3 1153.2l15.4 21l-15.4 21l-15.4 -21zM569.1 1193.3l15.4 21l-15.4 21l-15.4 -21zM572 1179.9l15.4 21l-15.4 21l-15.4 -21zM574.8 1179.9l15.4 21l-15.4 21l-15.4 -21zM577.7 1166.5l15.4 21l-15.4 21l-15.4 -21zM580.5 1179.9l15.4 21l-15.4 21l-15.4 -21zM583.4 1153.2l15.4 21l-15.4 21l-15.4 -21zM586.2 1153.2l15.4 21l-15.4 21l-15.4 -21zM589.1 1153.2l15.4 21l-15.4 21l-15.4 -21zM591.9 1153.2l15.4 21l-15.4 21l-15.4 -21zM594.8 1166.5l15.4 21l-15.4 21l-15.4 -21zM597.6 1153.2l15.4 21l-15.4 21l-15.4 -21zM600.5 1153.2l15.4 21l-15.4 21l-15.4 -21zM603.3 1153.2l15.4 21l-15.4 21l-15.4 -21zM606.2 1153.2l15.4 21l-15.4 21l-15.4 -21zM609 1166.5l15.4 21l-15.4 21l-15.4 -21zM611.9 1166.5l15.4 21l-15.4 21l-15.4 -21zM614.7 1153.2l15.4 21l-15.4 21l-15.4 -21zM617.6 1139.8l15.4 21l-15.4 21l-15.4 -21zM620.4 1139.8l15.4 21l-15.4 21l-15.4 -21zM623.3 1139.8l15.4 21l-15.4 21l-15.4 -21zM626.1 1153.2l15.4 21l-15.4 21l-15.4 -21zM629 1139.8l15.4 21l-15.4 21l-15.4 -21zM631.8 1139.8l15.4 21l-15.4 21l-15.4 -21zM634.7 1153.2l15.4 21l-15.4 21l-15.4 -21zM637.5 1126.4l15.4 21l-15.4 21l-15.4 -21zM640.4 1126.4l15.4 21l-15.4 21l-15.4 -21zM643.2 1153.2l15.4 21l-15.4 21l-15.4 -21zM646.1 1139.8l15.4 21l-15.4 21l-15.4 -21zM648.9 1153.2l15.4 21l-15.4 21l-15.4 -21zM651.8 1139.8l15.4 21l-15.4 21l-15.4 -21zM654.7 1153.2l15.4 21l-15.4 21l-15.4 -21zM657.5 1139.8l15.4 21l-15.4 21l-15.4 -21zM660.4 1139.8l15.4 21l-15.4 21l-15.4 -21zM663.2 1153.2l15.4 21l-15.4 21l-15.4 -21zM666.1 1126.4l15.4 21l-15.4 21l-15.4 -21zM668.9 1166.5l15.4 21l-15.4 21l-15.4 -21zM671.8 1139.8l15.4 21l-15.4 21l-15.4 -21zM674.6 1139.8l15.4 21l-15.4 21l-15.4 -21zM677.5 1166.5l15.4 21l-15.4 21l-15.4 -21zM680.3 1193.3l15.4 21l-15.4 21l-15.4 -21zM683.2 1179.9l15.4 21l-15.4 21l-15.4 -21zM686 1179.9l15.4 21l-15.4 21l-15.4 -21zM688.9 1166.5l15.4 21l-15.4 21l-15.4 -21zM691.7 1153.2l15.4 21l-15.4 21l-15.4 -21zM694.6 1153.2l15.4 21l-15.4 21l-15.4 -21zM697.4 1153.2l15.4 21l-15.4 21l-15.4 -21zM700.3 1166.5l15.4 21l-15.4 21l-15.4 -21zM703.1 1153.2l15.4 21l-15.4 21l-15.4 -21zM706 1166.5l15.4 21l-15.4 21l-15.4 -21zM708.8 1166.5l15.4 21l-15.4 21l-15.4 -21zM711.7 1139.8l15.4 21l-15.4 21l-15.4 -21zM714.5 1139.8l15.4 21l-15.4 21l-15.4 -21zM717.4 1139.8l15.4 21l-15.4 21l-15.4 -21zM720.2 1153.2l15.4 21l-15.4 21l-15.4 -21zM723.1 1139.8l15.4 21l-15.4 21l-15.4 -21zM725.9 1139.8l15.4 21l-15.4 21l-15.4 -21zM728.8 1126.4l15.4 21l-15.4 21l-15.4 -21zM731.6 1126.4l15.4 21l-15.4 21l-15.4 -21zM734.5 1153.2l15.4 21l-15.4 21l-15.4 -21zM737.3 1126.4l15.4 21l-15.4 21l-15.4 -21zM740.2 1126.4l15.4 21l-15.4 21l-15.4 -21zM743 1113l15.4 21l-15.4 21l-15.4 -21zM745.9 1126.4l15.4 21l-15.4 21l-15.4 -21zM748.7 1126.4l15.4 21l-15.4 21l-15.4 -21zM751.6 1139.8l15.4 21l-15.4 21l-15.4 -21zM754.4 1126.4l15.4 21l-15.4 21l-15.4 -21zM757.3 1126.4l15.4 21l-15.4 21l-15.4 -21zM760.2 1126.4l15.4 21l-15.4 21l-15.4 -21zM763 1126.4l15.4 21l-15.4 21l-15.4 -21zM765.9 1139.8l15.4 21l-15.4 21l-15.4 -21zM768.7 1113l15.4 21l-15.4 21l-15.4 -21zM771.6 1126.4l15.4 21l-15.4 21l-15.4 -21zM774.4 1113l15.4 21l-15.4 21l-15.4 -21zM777.3 1113l15.4 21l-15.4 21l-15.4 -21zM780.1 1099.7l15.4 21l-15.4 21l-15.4 -21zM783 1113l15.4 21l-15.4 21l-15.4 -21zM785.8 1113l15.4 21l-15.4 21l-15.4 -21zM788.7 1126.4l15.4 21l-15.4 21l-15.4 -21zM791.5 1126.4l15.4 21l-15.4 21l-15.4 -21zM794.4 1179.9l15.4 21l-15.4 21l-15.4 -21zM797.2 1179.9l15.4 21l-15.4 21l-15.4 -21zM800.1 1166.5l15.4 21l-15.4 21l-15.4 -21zM802.9 1166.5l15.4 21l-15.4 21l-15.4 -21zM805.8 1153.2l15.4 21l-15.4 21l-15.4 -21zM808.6 1153.2l15.4 21l-15.4 21l-15.4 -21zM811.5 1153.2l15.4 21l-15.4 21l-15.4 -21zM814.3 1153.2l15.4 21l-15.4 21l-15.4 -21zM817.2 1139.8l15.4 21l-15.4 21l-15.4 -21zM820 1139.8l15.4 21l-15.4 21l-15.4 -21zM822.9 1126.4l15.4 21l-15.4 21l-15.4 -21zM825.7 1139.8l15.4 21l-15.4 21l-15.4 -21zM828.6 1126.4l15.4 21l-15.4 21l-15.4 -21zM831.4 1113l15.4 21l-15.4 21l-15.4 -21zM834.3 1139.8l15.4 21l-15.4 21l-15.4 -21zM837.1 1139.8l15.4 21l-15.4 21l-15.4 -21zM840 1139.8l15.4 21l-15.4 21l-15.4 -21zM842.8 1139.8l15.4 21l-15.4 21l-15.4 -21zM845.7 1126.4l15.4 21l-15.4 21l-15.4 -21zM848.5 1126.4l15.4 21l-15.4 21l-15.4 -21zM851.4 1126.4l15.4 21l-15.4 21l-15.4 -21zM854.2 1099.7l15.4 21l-15.4 21l-15.4 -21zM857.1 1113l15.4 21l-15.4 21l-15.4 -21zM859.9 1099.7l15.4 21l-15.4 21l-15.4 -21zM862.8 1113l15.4 21l-15.4 21l-15.4 -21zM865.7 1099.7l15.4 21l-15.4 21l-15.4 -21zM868.5 1086.3l15.4 21l-15.4 21l-15.4 -21zM871.4 1113l15.4 21l-15.4 21l-15.4 -21zM874.2 1126.4l15.4 21l-15.4 21l-15.4 -21zM877.1 1099.7l15.4 21l-15.4 21l-15.4 -21zM879.9 1113l15.4 21l-15.4 21l-15.4 -21zM882.8 1099.7l15.4 21l-15.4 21l-15.4 -21zM885.6 1099.7l15.4 21l-15.4 21l-15.4 -21zM888.5 1099.7l15.4 21l-15.4 21l-15.4 -21zM891.3 1113l15.4 21l-15.4 21l-15.4 -21zM894.2 1113l15.4 21l-15.4 21l-15.4 -21zM897 1086.3l15.4 21l-15.4 21l-15.4 -21zM899.9 1099.7l15.4 21l-15.4 21l-15.4 -21zM902.7 1113l15.4 21l-15.4 21l-15.4 -21zM905.6 1113l15.4 21l-15.4 21l-15.4 -21zM908.4 1179.9l15.4 21l-15.4 21l-15.4 -21zM911.3 1166.5l15.4 21l-15.4 21l-15.4 -21zM914.1 1153.2l15.4 21l-15.4 21l-15.4 -21zM917 1153.2l15.4 21l-15.4 21l-15.4 -21zM919.8 1139.8l15.4 21l-15.4 21l-15.4 -21zM922.7 1153.2l15.4 21l-15.4 21l-15.4 -21zM925.5 1153.2l15.4 21l-15.4 21l-15.4 -21zM928.4 1126.4l15.4 21l-15.4 21l-15.4 -21zM931.2 1113l15.4 21l-15.4 21l-15.4 -21zM934.1 1126.4l15.4 21l-15.4 21l-15.4 -21zM936.9 1126.4l15.4 21l-15.4 21l-15.4 -21zM939.8 1099.7l15.4 21l-15.4 21l-15.4 -21zM942.6 1113l15.4 21l-15.4 21l-15.4 -21zM945.5 1113l15.4 21l-15.4 21l-15.4 -21zM948.3 1099.7l15.4 21l-15.4 21l-15.4 -21zM951.2 1099.7l15.4 21l-15.4 21l-15.4 -21zM954 1099.7l15.4 21l-15.4 21l-15.4 -21zM956.9 1099.7l15.4 21l-15.4 21l-15.4 -21zM959.7 1099.7l15.4 21l-15.4 21l-15.4 -21zM962.6 1113l15.4 21l-15.4 21l-15.4 -21zM965.4 1113l15.4 21l-15.4 21l-15.4 -21zM968.3 1113l15.4 21l-15.4 21l-15.4 -21zM971.1 1126.4l15.4 21l-15.4 21l-15.4 -21zM974 1113l15.4 21l-15.4 21l-15.4 -21zM976.9 1113l15.4 21l-15.4 21l-15.4 -21zM979.7 1099.7l15.4 21l-15.4 21l-15.4 -21zM982.6 1099.7l15.4 21l-15.4 21l-15.4 -21zM985.4 1086.3l15.4 21l-15.4 21l-15.4 -21zM988.3 1086.3l15.4 21l-15.4 21l-15.4 -21zM991.1 1086.3l15.4 21l-15.4 21l-15.4 -21zM994 1099.7l15.4 21l-15.4 21l-15.4 -21zM996.8 1086.3l15.4 21l-15.4 21l-15.4 -21zM999.7 1113l15.4 21l-15.4 21l-15.4 -21zM1002.5 1099.7l15.4 21l-15.4 21l-15.4 -21zM1005.4 1086.3l15.4 21l-15.4 21l-15.4 -21zM1008.2 1086.3l15.4 21l-15.4 21l-15.4 -21zM1011.1 1086.3l15.4 21l-15.4 21l-15.4 -21zM1013.9 1086.3l15.4 21l-15.4 21l-15.4 -21zM1016.8 1072.9l15.4 21l-15.4 21l-15.4 -21zM1019.6 1072.9l15.4 21l-15.4 21l-15.4 -21zM1022.5 1086.3l15.4 21l-15.4 21l-15.4 -21zM1025.3 1179.9l15.4 21l-15.4 21l-15.4 -21zM1028.2 1126.4l15.4 21l-15.4 21l-15.4 -21zM1031 1126.4l15.4 21l-15.4 21l-15.4 -21zM1033.9 1113l15.4 21l-15.4 21l-15.4 -21zM1036.7 1086.3l15.4 21l-15.4 21l-15.4 -21zM1039.6 1086.3l15.4 21l-15.4 21l-15.4 -21zM1042.4 1099.7l15.4 21l-15.4 21l-15.4 -21zM1045.3 1099.7l15.4 21l-15.4 21l-15.4 -21zM1048.1 1072.9l15.4 21l-15.4 21l-15.4 -21zM1051 1086.3l15.4 21l-15.4 21l-15.4 -21zM1053.8 1086.3l15.4 21l-15.4 21l-15.4 -21zM1056.7 1099.7l15.4 21l-15.4 21l-15.4 -21zM1059.5 1113l15.4 21l-15.4 21l-15.4 -21zM1062.4 1086.3l15.4 21l-15.4 21l-15.4 -21zM1065.2 1113l15.4 21l-15.4 21l-15.4 -21zM1068.1 1086.3l15.4 21l-15.4 21l-15.4 -21zM1070.9 1086.3l15.4 21l-15.4 21l-15.4 -21zM1073.8 1086.3l15.4 21l-15.4 21l-15.4 -21zM1076.6 1086.3l15.4 21l-15.4 21l-15.4 -21zM1079.5 1086.3l15.4 21l-15.4 21l-15.4 -21zM1082.4 1086.3l15.4 21l-15.4 21l-15.4 -21zM1085.2 1086.3l15.4 21l-15.4 21l-15.4 -21zM1088.1 1086.3l15.4 21l-15.4 21l-15.4 -21zM1090.9 1072.9l15.4 21l-15.4 21l-15.4 -21zM1093.8 1086.3l15.4 21l-15.4 21l-15.4 -21zM1096.6 1086.3l15.4 21l-15.4 21l-15.4 -21zM1099.5 1072.9l15.4 21l-15.4 21l-15.4 -21zM1102.3 1086.3l15.4 21l-15.4 21l-15.4 -21zM1105.2 1086.3l15.4 21l-15.4 21l-15.4 -21zM1108 1072.9l15.4 21l-15.4 21l-15.4 -21zM1110.9 1086.3l15.4 21l-15.4 21l-15.4 -21zM1113.7 1086.3l15.4 21l-15.4 21l-15.4 -21zM1116.6 1059.5l15.4 21l-15.4 21l-15.4 -21zM1119.4 1086.3l15.4 21l-15.4 21l-15.4 -21zM1122.3 1046.2l15.4 21l-15.4 21l-15.4 -21zM1125.1 1046.2l15.4 21l-15.4 21l-15.4 -21zM1128 1046.2l15.4 21l-15.4 21l-15.4 -21zM1130.8 1046.2l15.4 21l-15.4 21l-15.4 -21zM1133.7 1059.5l15.4 21l-15.4 21l-15.4 -21zM1136.5 1153.2l15.4 21l-15.4 21l-15.4 -21zM1139.4 1153.2l15.4 21l-15.4 21l-15.4 -21zM1142.2 1139.8l15.4 21l-15.4 21l-15.4 -21zM1145.1 1126.4l15.4 21l-15.4 21l-15.4 -21zM1147.9 1113l15.4 21l-15.4 21l-15.4 -21zM1150.8 1113l15.4 21l-15.4 21l-15.4 -21zM1153.6 1113l15.4 21l-15.4 21l-15.4 -21zM1156.5 1099.7l15.4 21l-15.4 21l-15.4 -21zM1159.3 1086.3l15.4 21l-15.4 21l-15.4 -21zM1162.2 1072.9l15.4 21l-15.4 21l-15.4 -21zM1165 1072.9l15.4 21l-15.4 21l-15.4 -21zM1167.9 1086.3l15.4 21l-15.4 21l-15.4 -21zM1170.7 1072.9l15.4 21l-15.4 21l-15.4 -21zM1173.6 1086.3l15.4 21l-15.4 21l-15.4 -21zM1176.4 1072.9l15.4 21l-15.4 21l-15.4 -21zM1179.3 1072.9l15.4 21l-15.4 21l-15.4 -21zM1182.1 1086.3l15.4 21l-15.4 21l-15.4 -21zM1185 1072.9l15.4 21l-15.4 21l-15.4 -21zM1187.9 1072.9l15.4 21l-15.4 21l-15.4 -21zM1190.7 1072.9l15.4 21l-15.4 21l-15.4 -21zM1193.6 1072.9l15.4 21l-15.4 21l-15.4 -21zM1196.4 1059.5l15.4 21l-15.4 21l-15.4 -21zM1199.3 1059.5l15.4 21l-15.4 21l-15.4 -21zM1202.1 1059.5l15.4 21l-15.4 21l-15.4 -21zM1205 1059.5l15.4 21l-15.4 21l-15.4 -21zM1207.8 1059.5l15.4 21l-15.4 21l-15.4 -21zM1210.7 1046.2l15.4 21l-15.4 21l-15.4 -21zM1213.5 1059.5l15.4 21l-15.4 21l-15.4 -21zM1216.4 1059.5l15.4 21l-15.4 21l-15.4 -21zM1219.2 1046.2l15.4 21l-15.4 21l-15.4 -21zM1222.1 1046.2l15.4 21l-15.4 21l-15.4 -21zM1224.9 1046.2l15.4 21l-15.4 21l-15.4 -21zM1227.8 1046.2l15.4 21l-15.4 21l-15.4 -21zM1230.6 1046.2l15.4 21l-15.4 21l-15.4 -21zM1233.5 1059.5l15.4 21l-15.4 21l-15.4 -21zM1236.3 1046.2l15.4 21l-15.4 21l-15.4 -21zM1239.2 1046.2l15.4 21l-15.4 21l-15.4 -21zM1242 1046.2l15.4 21l-15.4 21l-15.4 -21zM1244.9 1046.2l15.4 21l-15.4 21l-15.4 -21zM1247.7 1032.8l15.4 21l-15.4 21l-15.4 -21zM1250.6 1153.2l15.4 21l-15.4 21l-15.4 -21zM1253.4 1153.2l15.4 21l-15.4 21l-15.4 -21zM1256.3 1139.8l15.4 21l-15.4 21l-15.4 -21zM1259.1 1113l15.4 21l-15.4 21l-15.4 -21zM1262 1113l15.4 21l-15.4 21l-15.4 -21zM1264.8 1099.7l15.4 21l-15.4 21l-15.4 -21zM1267.7 1086.3l15.4 21l-15.4 21l-15.4 -21zM1270.5 1099.7l15.4 21l-15.4 21l-15.4 -21zM1273.4 1086.3l15.4 21l-15.4 21l-15.4 -21zM1276.2 1072.9l15.4 21l-15.4 21l-15.4 -21zM1279.1 1072.9l15.4 21l-15.4 21l-15.4 -21zM1281.9 1072.9l15.4 21l-15.4 21l-15.4 -21zM1284.8 1072.9l15.4 21l-15.4 21l-15.4 -21zM1287.6 1086.3l15.4 21l-15.4 21l-15.4 -21zM1290.5 1072.9l15.4 21l-15.4 21l-15.4 -21zM1293.4 1059.5l15.4 21l-15.4 21l-15.4 -21zM1296.2 1072.9l15.4 21l-15.4 21l-15.4 -21zM1299.1 1059.5l15.4 21l-15.4 21l-15.4 -21zM1301.9 1059.5l15.4 21l-15.4 21l-15.4 -21zM1304.8 1032.8l15.4 21l-15.4 21l-15.4 -21zM1307.6 1059.5l15.4 21l-15.4 21l-15.4 -21zM1310.5 1046.2l15.4 21l-15.4 21l-15.4 -21zM1313.3 1046.2l15.4 21l-15.4 21l-15.4 -21zM1316.2 1032.8l15.4 21l-15.4 21l-15.4 -21zM1319 1046.2l15.4 21l-15.4 21l-15.4 -21zM1321.9 1032.8l15.4 21l-15.4 21l-15.4 -21zM1324.7 1032.8l15.4 21l-15.4 21l-15.4 -21zM1327.6 1032.8l15.4 21l-15.4 21l-15.4 -21zM1330.4 1032.8l15.4 21l-15.4 21l-15.4 -21zM1333.3 1032.8l15.4 21l-15.4 21l-15.4 -21zM1336.1 1032.8l15.4 21l-15.4 21l-15.4 -21zM1339 1032.8l15.4 21l-15.4 21l-15.4 -21zM1341.8 1019.4l15.4 21l-15.4 21l-15.4 -21zM1344.7 1006l15.4 21l-15.4 21l-15.4 -21zM1347.5 1019.4l15.4 21l-15.4 21l-15.4 -21zM1350.4 1019.4l15.4 21l-15.4 21l-15.4 -21zM1353.2 1032.8l15.4 21l-15.4 21l-15.4 -21zM1356.1 1019.4l15.4 21l-15.4 21l-15.4 -21zM1358.9 1019.4l15.4 21l-15.4 21l-15.4 -21zM1361.8 1032.8l15.4 21l-15.4 21l-15.4 -21zM1364.6 1006l15.4 21l-15.4 21l-15.4 -21zM1367.5 1139.8l15.4 21l-15.4 21l-15.4 -21zM1370.3 1099.7l15.4 21l-15.4 21l-15.4 -21zM1373.2 1086.3l15.4 21l-15.4 21l-15.4 -21zM1376 1086.3l15.4 21l-15.4 21l-15.4 -21zM1378.9 1059.5l15.4 21l-15.4 21l-15.4 -21zM1381.7 1072.9l15.4 21l-15.4 21l-15.4 -21zM1384.6 1032.8l15.4 21l-15.4 21l-15.4 -21zM1387.4 1059.5l15.4 21l-15.4 21l-15.4 -21zM1390.3 1059.5l15.4 21l-15.4 21l-15.4 -21zM1393.1 1059.5l15.4 21l-15.4 21l-15.4 -21zM1396 1046.2l15.4 21l-15.4 21l-15.4 -21zM1398.8 1046.2l15.4 21l-15.4 21l-15.4 -21zM1401.7 1032.8l15.4 21l-15.4 21l-15.4 -21zM1404.6 1046.2l15.4 21l-15.4 21l-15.4 -21zM1407.4 1032.8l15.4 21l-15.4 21l-15.4 -21zM1410.3 1019.4l15.4 21l-15.4 21l-15.4 -21zM1413.1 1032.8l15.4 21l-15.4 21l-15.4 -21zM1416 1032.8l15.4 21l-15.4 21l-15.4 -21zM1418.8 1019.4l15.4 21l-15.4 21l-15.4 -21zM1421.7 1019.4l15.4 21l-15.4 21l-15.4 -21zM1424.5 992.7l15.4 21l-15.4 21l-15.4 -21zM1427.4 1019.4l15.4 21l-15.4 21l-15.4 -21zM1430.2 1006l15.4 21l-15.4 21l-15.4 -21zM1433.1 992.7l15.4 21l-15.4 21l-15.4 -21zM1435.9 1019.4l15.4 21l-15.4 21l-15.4 -21zM1438.8 1006l15.4 21l-15.4 21l-15.4 -21zM1441.6 1006l15.4 21l-15.4 21l-15.4 -21zM1444.5 992.7l15.4 21l-15.4 21l-15.4 -21zM1447.3 979.3l15.4 21l-15.4 21l-15.4 -21zM1450.2 979.3l15.4 21l-15.4 21l-15.4 -21zM1453 992.7l15.4 21l-15.4 21l-15.4 -21zM1455.9 992.7l15.4 21l-15.4 21l-15.4 -21zM1458.7 992.7l15.4 21l-15.4 21l-15.4 -21zM1461.6 992.7l15.4 21l-15.4 21l-15.4 -21zM1464.4 992.7l15.4 21l-15.4 21l-15.4 -21zM1467.3 992.7l15.4 21l-15.4 21l-15.4 -21zM1470.1 992.7l15.4 21l-15.4 21l-15.4 -21zM1473 992.7l15.4 21l-15.4 21l-15.4 -21zM1475.8 979.3l15.4 21l-15.4 21l-15.4 -21zM1478.7 979.3l15.4 21l-15.4 21l-15.4 -21zM1481.5 1139.8l15.4 21l-15.4 21l-15.4 -21zM1484.4 1086.3l15.4 21l-15.4 21l-15.4 -21zM1487.2 1072.9l15.4 21l-15.4 21l-15.4 -21zM1490.1 1046.2l15.4 21l-15.4 21l-15.4 -21zM1492.9 1059.5l15.4 21l-15.4 21l-15.4 -21zM1495.8 1059.5l15.4 21l-15.4 21l-15.4 -21zM1498.6 1046.2l15.4 21l-15.4 21l-15.4 -21zM1501.5 1046.2l15.4 21l-15.4 21l-15.4 -21zM1504.3 1032.8l15.4 21l-15.4 21l-15.4 -21zM1507.2 1032.8l15.4 21l-15.4 21l-15.4 -21zM1510.1 1019.4l15.4 21l-15.4 21l-15.4 -21zM1512.9 1046.2l15.4 21l-15.4 21l-15.4 -21zM1515.8 1032.8l15.4 21l-15.4 21l-15.4 -21zM1518.6 1032.8l15.4 21l-15.4 21l-15.4 -21zM1521.5 1032.8l15.4 21l-15.4 21l-15.4 -21zM1524.3 1032.8l15.4 21l-15.4 21l-15.4 -21zM1527.2 1032.8l15.4 21l-15.4 21l-15.4 -21zM1530 1032.8l15.4 21l-15.4 21l-15.4 -21zM1532.9 1032.8l15.4 21l-15.4 21l-15.4 -21zM1535.7 1019.4l15.4 21l-15.4 21l-15.4 -21zM1538.6 1019.4l15.4 21l-15.4 21l-15.4 -21zM1541.4 1032.8l15.4 21l-15.4 21l-15.4 -21zM1544.3 1019.4l15.4 21l-15.4 21l-15.4 -21zM1547.1 1019.4l15.4 21l-15.4 21l-15.4 -21zM1550 1032.8l15.4 21l-15.4 21l-15.4 -21zM1552.8 1019.4l15.4 21l-15.4 21l-15.4 -21zM1555.7 1032.8l15.4 21l-15.4 21l-15.4 -21zM1558.5 1032.8l15.4 21l-15.4 21l-15.4 -21zM1561.4 1032.8l15.4 21l-15.4 21l-15.4 -21zM1564.2 1019.4l15.4 21l-15.4 21l-15.4 -21zM1567.1 1019.4l15.4 21l-15.4 21l-15.4 -21zM1569.9 1032.8l15.4 21l-15.4 21l-15.4 -21zM1572.8 1019.4l15.4 21l-15.4 21l-15.4 -21zM1575.6 1032.8l15.4 21l-15.4 21l-15.4 -21zM1578.5 1032.8l15.4 21l-15.4 21l-15.4 -21zM1581.3 1006l15.4 21l-15.4 21l-15.4 -21zM1584.2 1032.8l15.4 21l-15.4 21l-15.4 -21zM1587 1032.8l15.4 21l-15.4 21l-15.4 -21zM1589.9 1086.3l15.4 21l-15.4 21l-15.4 -21zM1592.7 1099.7l15.4 21l-15.4 21l-15.4 -21zM1595.6 1139.8l15.4 21l-15.4 21l-15.4 -21zM1598.4 1126.4l15.4 21l-15.4 21l-15.4 -21zM1601.3 1113l15.4 21l-15.4 21l-15.4 -21zM1604.1 1099.7l15.4 21l-15.4 21l-15.4 -21zM1607 1099.7l15.4 21l-15.4 21l-15.4 -21zM1609.8 1099.7l15.4 21l-15.4 21l-15.4 -21zM1612.7 1086.3l15.4 21l-15.4 21l-15.4 -21zM1615.6 1086.3l15.4 21l-15.4 21l-15.4 -21zM1618.4 1059.5l15.4 21l-15.4 21l-15.4 -21zM1621.3 1059.5l15.4 21l-15.4 21l-15.4 -21zM1624.1 1059.5l15.4 21l-15.4 21l-15.4 -21zM1627 1046.2l15.4 21l-15.4 21l-15.4 -21zM1629.8 1046.2l15.4 21l-15.4 21l-15.4 -21zM1632.7 1046.2l15.4 21l-15.4 21l-15.4 -21zM1635.5 1046.2l15.4 21l-15.4 21l-15.4 -21zM1638.4 1046.2l15.4 21l-15.4 21l-15.4 -21zM1641.2 1046.2l15.4 21l-15.4 21l-15.4 -21zM1644.1 1046.2l15.4 21l-15.4 21l-15.4 -21zM1646.9 1019.4l15.4 21l-15.4 21l-15.4 -21zM1649.8 1032.8l15.4 21l-15.4 21l-15.4 -21zM1652.6 1046.2l15.4 21l-15.4 21l-15.4 -21zM1655.5 1032.8l15.4 21l-15.4 21l-15.4 -21zM1658.3 1059.5l15.4 21l-15.4 21l-15.4 -21zM1661.2 1046.2l15.4 21l-15.4 21l-15.4 -21zM1664 1046.2l15.4 21l-15.4 21l-15.4 -21zM1666.9 1046.2l15.4 21l-15.4 21l-15.4 -21zM1669.7 1046.2l15.4 21l-15.4 21l-15.4 -21zM1672.6 1032.8l15.4 21l-15.4 21l-15.4 -21zM1675.4 1046.2l15.4 21l-15.4 21l-15.4 -21zM1678.3 1019.4l15.4 21l-15.4 21l-15.4 -21zM1681.1 1032.8l15.4 21l-15.4 21l-15.4 -21zM1684 1032.8l15.4 21l-15.4 21l-15.4 -21zM1686.8 1032.8l15.4 21l-15.4 21l-15.4 -21zM1689.7 1019.4l15.4 21l-15.4 21l-15.4 -21zM1692.5 1032.8l15.4 21l-15.4 21l-15.4 -21zM1695.4 1059.5l15.4 21l-15.4 21l-15.4 -21zM1698.2 1032.8l15.4 21l-15.4 21l-15.4 -21zM1701.1 1046.2l15.4 21l-15.4 21l-15.4 -21zM1703.9 1086.3l15.4 21l-15.4 21l-15.4 -21zM1706.8 1139.8l15.4 21l-15.4 21l-15.4 -21zM1709.6 1126.4l15.4 21l-15.4 21l-15.4 -21zM1712.5 1113l15.4 21l-15.4 21l-15.4 -21zM1715.3 1113l15.4 21l-15.4 21l-15.4 -21zM1718.2 1086.3l15.4 21l-15.4 21l-15.4 -21zM1721.1 1099.7l15.4 21l-15.4 21l-15.4 -21zM1723.9 1086.3l15.4 21l-15.4 21l-15.4 -21zM1726.8 1072.9l15.4 21l-15.4 21l-15.4 -21zM1729.6 1086.3l15.4 21l-15.4 21l-15.4 -21zM1732.5 1072.9l15.4 21l-15.4 21l-15.4 -21zM1735.3 1072.9l15.4 21l-15.4 21l-15.4 -21zM1738.2 1072.9l15.4 21l-15.4 21l-15.4 -21zM1741 1059.5l15.4 21l-15.4 21l-15.4 -21zM1743.9 1059.5l15.4 21l-15.4 21l-15.4 -21zM1746.7 1046.2l15.4 21l-15.4 21l-15.4 -21zM1749.6 1059.5l15.4 21l-15.4 21l-15.4 -21zM1752.4 1059.5l15.4 21l-15.4 21l-15.4 -21zM1755.3 1059.5l15.4 21l-15.4 21l-15.4 -21zM1758.1 1059.5l15.4 21l-15.4 21l-15.4 -21zM1761 1059.5l15.4 21l-15.4 21l-15.4 -21zM1763.8 1072.9l15.4 21l-15.4 21l-15.4 -21zM1766.7 1046.2l15.4 21l-15.4 21l-15.4 -21zM1769.5 1059.5l15.4 21l-15.4 21l-15.4 -21zM1772.4 1046.2l15.4 21l-15.4 21l-15.4 -21zM1775.2 1046.2l15.4 21l-15.4 21l-15.4 -21zM1778.1 1059.5l15.4 21l-15.4 21l-15.4 -21zM1780.9 1046.2l15.4 21l-15.4 21l-15.4 -21zM1783.8 1059.5l15.4 21l-15.4 21l-15.4 -21zM1786.6 1072.9l15.4 21l-15.4 21l-15.4 -21zM1789.5 1072.9l15.4 21l-15.4 21l-15.4 -21zM1792.3 1046.2l15.4 21l-15.4 21l-15.4 -21zM1795.2 1046.2l15.4 21l-15.4 21l-15.4 -21zM1798 1032.8l15.4 21l-15.4 21l-15.4 -21zM1800.9 1046.2l15.4 21l-15.4 21l-15.4 -21zM1803.7 1046.2l15.4 21l-15.4 21l-15.4 -21zM1806.6 1059.5l15.4 21l-15.4 21l-15.4 -21zM1809.4 1059.5l15.4 21l-15.4 21l-15.4 -21zM1812.3 1032.8l15.4 21l-15.4 21l-15.4 -21zM1815.1 1046.2l15.4 21l-15.4 21l-15.4 -21zM1818 1086.3l15.4 21l-15.4 21l-15.4 -21zM1820.8 1126.4l15.4 21l-15.4 21l-15.4 -21zM1823.7 1113l15.4 21l-15.4 21l-15.4 -21zM1826.5 1113l15.4 21l-15.4 21l-15.4 -21zM1829.4 1086.3l15.4 21l-15.4 21l-15.4 -21zM1832.3 1099.7l15.4 21l-15.4 21l-15.4 -21zM1835.1 1086.3l15.4 21l-15.4 21l-15.4 -21zM1838 1072.9l15.4 21l-15.4 21l-15.4 -21zM1840.8 1072.9l15.4 21l-15.4 21l-15.4 -21zM1843.7 1059.5l15.4 21l-15.4 21l-15.4 -21zM1846.5 1072.9l15.4 21l-15.4 21l-15.4 -21zM1849.4 1072.9l15.4 21l-15.4 21l-15.4 -21zM1852.2 1059.5l15.4 21l-15.4 21l-15.4 -21zM1855.1 1032.8l15.4 21l-15.4 21l-15.4 -21zM1857.9 1059.5l15.4 21l-15.4 21l-15.4 -21zM1860.8 1072.9l15.4 21l-15.4 21l-15.4 -21zM1863.6 1059.5l15.4 21l-15.4 21l-15.4 -21zM1866.5 1032.8l15.4 21l-15.4 21l-15.4 -21zM1869.3 1046.2l15.4 21l-15.4 21l-15.4 -21zM1872.2 1046.2l15.4 21l-15.4 21l-15.4 -21zM1875 1046.2l15.4 21l-15.4 21l-15.4 -21zM1877.9 1032.8l15.4 21l-15.4 21l-15.4 -21zM1880.7 1059.5l15.4 21l-15.4 21l-15.4 -21zM1883.6 1046.2l15.4 21l-15.4 21l-15.4 -21zM1886.4 1059.5l15.4 21l-15.4 21l-15.4 -21zM1889.3 1046.2l15.4 21l-15.4 21l-15.4 -21zM1892.1 1046.2l15.4 21l-15.4 21l-15.4 -21zM1895 1046.2l15.4 21l-15.4 21l-15.4 -21zM1897.8 1046.2l15.4 21l-15.4 21l-15.4 -21zM1900.7 1059.5l15.4 21l-15.4 21l-15.4 -21zM1903.5 1059.5l15.4 21l-15.4 21l-15.4 -21zM1906.4 1046.2l15.4 21l-15.4 21l-15.4 -21zM1909.2 1059.5l15.4 21l-15.4 21l-15.4 -21zM1912.1 1046.2l15.4 21l-15.4 21l-15.4 -21zM1914.9 1046.2l15.4 21l-15.4 21l-15.4 -21zM1917.8 1032.8l15.4 21l-15.4 21l-15.4 -21zM1920.6 1046.2l15.4 21l-15.4 21l-15.4 -21zM1923.5 1059.5l15.4 21l-15.4 21l-15.4 -21zM1926.3 1046.2l15.4 21l-15.4 21l-15.4 -21zM1929.2 1046.2l15.4 21l-15.4 21l-15.4 -21zM1932 1032.8l15.4 21l-15.4 21l-15.4 -21zM1934.9 1046.2l15.4 21l-15.4 21l-15.4 -21z" stroke="#EDB120" stroke-width="3.6" fill="none" stroke-linejoin="round"/>
<path d="M1935 64.2V1405.3M1934.9 1236.3h-18M1934.9 1069.1h-18M1934.9 901.9h-18M1934.9 734.8h-18M1934.9 567.6h-18M1934.9 400.4h-18M1934.9 233.2h-18M1934.9 66h-18" stroke="#7E2F8E" stroke-width="3.5999999999999996" fill="none"/>
<path d="M227.3 1165.8L251.5 1168.4L270 1172L290.1 1176.1L306 1179L322.3 1181L335.5 1183.3L338.5 1183.6L340.4 1145.2L353 1137.5L367.4 1130.8L380 1124.5L393.1 1119.2L418.8 1111.7L444.6 1107.6L452.3 1107L454.8 1061.1L468 1053L481.5 1046.3L507.2 1031.3L533 1022.5L558.7 1016.5L566.8 1015.8L568.8 967.2L581.3 963L597.4 955.3L623.1 943.3L648.8 934.1L674.6 929.2L680.8 928.5L682.8 877.3L696 871L711.5 864.4L737.2 851.3L763 842.5L782.3 837.4L794.8 836.2L796.6 779.4L810 771L827.4 761.1L853.1 746L878.8 736.9L904.6 730.3L908.6 729.8L910.8 672.1L924 663L941.5 652.8L967.2 637.7L993 627.7L1012.3 621.6L1022.6 620.1L1024.4 559.4L1038 552L1057.4 542L1083.1 527L1108.8 517.6L1128.2 511.8L1136.5 509L1138.8 447L1155 439L1174.4 430L1200.1 417.7L1225.9 409.4L1245.2 406.2L1251 405.5L1252.8 346.6L1270 339.5L1290.2 331.5L1316 320.8L1341.7 313.7L1361 309.3L1364.5 309L1366.4 257.2L1378 249L1391.5 241.4L1417.2 226.9L1443 215.7L1462.3 208.6L1478.8 204.4L1481.6 234.4L1485.5 248L1490.6 260.1L1499 273.5L1509.3 285.9L1520 297L1533.1 306.5L1558.8 318.7L1584.6 327.1L1592.8 329.9L1595.4 364.4L1598.5 378L1603.1 390.1L1608.5 403.5L1615.7 415.9L1624 428L1634.4 439L1646 451L1660.1 461.6L1672 470L1685.9 477.7L1700 483L1706.6 486.5L1709.6 533L1713 547L1718.2 560.1L1723.5 573L1729.6 585.9L1737 599L1745 611.6L1757.2 625.1L1770 637L1783 647.6L1796 654.5L1808.7 659.9L1820.7 667.5L1823.2 703L1824.8 715L1827.1 726.3L1831.5 741L1837.6 755.1L1845 770L1853.4 783.9L1866 799L1880.7 812.7L1895 822L1909.5 829.9L1922 837L1934.6 843.6" stroke="#7E2F8E" stroke-width="26.3" fill="none" stroke-linejoin="round" stroke-linecap="round"/>
<rect x="288.5" y="85.3" width="303.8" height="195" fill="#fff" stroke="#262626" stroke-width="2.8"/>
<line x1="303.3" y1="115.5" x2="463.1" y2="115.5" stroke="#0072BD" stroke-width="2.3"/>
<circle cx="383.2" cy="115.5" r="15.6" fill="none" stroke="#0072BD" stroke-width="3.6"/>
<text y="137.8" font-size="57" fill="#000" stroke="#000" stroke-width="0.6"><tspan x="496.1" textLength="33.3" lengthAdjust="spacingAndGlyphs">V</tspan><tspan x="531.1" dy="9" font-size="36.5" stroke-width="0.5">b1</tspan></text>
<line x1="303.3" y1="176.1" x2="463.1" y2="176.1" stroke="#D95319" stroke-width="2.3"/>
<rect x="371.3" y="164.2" width="23.8" height="23.8" fill="none" stroke="#D95319" stroke-width="3.6" stroke-linejoin="round"/>
<text y="198.4" font-size="57" fill="#000" stroke="#000" stroke-width="0.6"><tspan x="496.1" textLength="33.3" lengthAdjust="spacingAndGlyphs">V</tspan><tspan x="531.1" dy="9" font-size="36.5" stroke-width="0.5">b2</tspan></text>
<line x1="303.3" y1="236.8" x2="463.1" y2="236.8" stroke="#EDB120" stroke-width="2.3"/>
<path d="M383.2 215.8l15.4 21l-15.4 21l-15.4 -21z" fill="none" stroke="#EDB120" stroke-width="3.6" stroke-linejoin="round"/>
<text y="259.1" font-size="57" fill="#000" stroke="#000" stroke-width="0.6"><tspan x="496.1" textLength="33.3" lengthAdjust="spacingAndGlyphs">V</tspan><tspan x="531.1" dy="9" font-size="36.5" stroke-width="0.5">b3</tspan></text>
<g font-size="55.6" fill="#262626" stroke="#262626" stroke-width="0.6"><text x="161.7" y="93.8" textLength="29.2" lengthAdjust="spacingAndGlyphs">3</text><text x="119.3" y="226.8" textLength="77.7" lengthAdjust="spacingAndGlyphs">2.5</text><text x="161.6" y="359.5" textLength="30.8" lengthAdjust="spacingAndGlyphs">2</text><text x="118.6" y="497.3" textLength="77.8" lengthAdjust="spacingAndGlyphs">1.5</text><text x="162.1" y="629.8" textLength="29.2" lengthAdjust="spacingAndGlyphs">1</text><text x="116.8" y="764" textLength="79.7" lengthAdjust="spacingAndGlyphs">0.5</text><text x="160.8" y="896" textLength="32.4" lengthAdjust="spacingAndGlyphs">0</text><text x="103" y="1030.3" textLength="95.7" lengthAdjust="spacingAndGlyphs">-0.5</text><text x="145.9" y="1166.2" textLength="49.5" lengthAdjust="spacingAndGlyphs">-1</text><text x="103" y="1300.6" textLength="95.7" lengthAdjust="spacingAndGlyphs">-1.5</text><text x="145.9" y="1433.8" textLength="49.5" lengthAdjust="spacingAndGlyphs">-2</text></g>
<g font-size="55.6" fill="#262626" stroke="#262626" stroke-width="0.6"><text x="217" y="1483.9" textLength="32.2" lengthAdjust="spacingAndGlyphs">0</text><text x="473.8" y="1483.9" textLength="94.7" lengthAdjust="spacingAndGlyphs">100</text><text x="763.3" y="1483.9" textLength="93.2" lengthAdjust="spacingAndGlyphs">200</text><text x="1047.5" y="1483.9" textLength="93.5" lengthAdjust="spacingAndGlyphs">300</text><text x="1331" y="1483.9" textLength="93.5" lengthAdjust="spacingAndGlyphs">400</text><text x="1619.5" y="1483.9" textLength="93.0" lengthAdjust="spacingAndGlyphs">500</text><text x="1903.8" y="1483.9" textLength="93.0" lengthAdjust="spacingAndGlyphs">600</text></g>
<g font-size="55.6" fill="#7E2F8E" stroke="#7E2F8E" stroke-width="0.6"><text x="1966.1" y="92.3" textLength="61.3" lengthAdjust="spacingAndGlyphs">65</text><text x="1966.1" y="261.4" textLength="63.0" lengthAdjust="spacingAndGlyphs">60</text><text x="1966.1" y="430.1" textLength="61.3" lengthAdjust="spacingAndGlyphs">55</text><text x="1966.1" y="595.6" textLength="63.0" lengthAdjust="spacingAndGlyphs">50</text><text x="1966.3" y="762.5" textLength="61.1" lengthAdjust="spacingAndGlyphs">45</text><text x="1966.3" y="931.5" textLength="62.8" lengthAdjust="spacingAndGlyphs">40</text><text x="1966.1" y="1099.5" textLength="61.3" lengthAdjust="spacingAndGlyphs">35</text><text x="1966.1" y="1265" textLength="63.0" lengthAdjust="spacingAndGlyphs">30</text></g>
<text y="1556.2" font-size="58.0" fill="#262626" stroke="#262626" stroke-width="0.6"><tspan x="832.4" textLength="100.5" lengthAdjust="spacingAndGlyphs">Bias</tspan> <tspan x="947.4" textLength="165.7" lengthAdjust="spacingAndGlyphs">search</tspan> <tspan x="1128" textLength="200.4" lengthAdjust="spacingAndGlyphs">number</tspan></text>
<text transform="translate(76.4 926.1) rotate(-90)" y="0" font-size="58.0" fill="#262626" stroke="#262626" stroke-width="0.6"><tspan x="-3.6" textLength="100.7" lengthAdjust="spacingAndGlyphs">Bias</tspan> <tspan x="111.3" textLength="184.5" lengthAdjust="spacingAndGlyphs">voltage</tspan> <tspan x="312.6" textLength="72.0" lengthAdjust="spacingAndGlyphs">(V)</tspan></text>
<text transform="translate(2129 1027.3) rotate(-90)" y="0" font-size="58.0" fill="#7E2F8E" stroke="#7E2F8E" stroke-width="0.6"><tspan x="-3.9" textLength="149.0" lengthAdjust="spacingAndGlyphs">Board</tspan> <tspan x="157.3" textLength="327.7" lengthAdjust="spacingAndGlyphs">temperature</tspan> <tspan x="501.6" textLength="85.1" lengthAdjust="spacingAndGlyphs">(°C)</tspan></text>
</svg></body></html>
